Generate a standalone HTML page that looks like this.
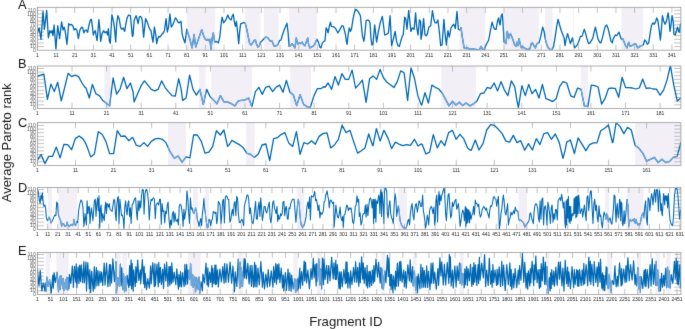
<!DOCTYPE html><html><head><meta charset="utf-8"><style>html,body{margin:0;padding:0;background:#fff;}svg{display:block;will-change:transform;}text{font-family:"Liberation Sans",sans-serif;}</style></head><body>
<svg width="685" height="329" viewBox="0 0 685 329">
<rect width="685" height="329" fill="#fff"/>
<defs><clipPath id="cA"><rect x="186.70" y="7.30" width="28.60" height="42.90"/><rect x="244.70" y="7.30" width="15.70" height="42.90"/><rect x="264.00" y="7.30" width="14.70" height="42.90"/><rect x="289.10" y="7.30" width="27.90" height="42.90"/><rect x="459.30" y="7.30" width="26.10" height="42.90"/><rect x="503.70" y="7.30" width="35.40" height="42.90"/><rect x="545.10" y="7.30" width="7.60" height="42.90"/><rect x="572.90" y="7.30" width="1.10" height="42.90"/><rect x="621.30" y="7.30" width="21.70" height="42.90"/></clipPath><clipPath id="pA"><rect x="37.40" y="7.30" width="643.50" height="42.90"/></clipPath><clipPath id="cB"><rect x="104.30" y="66.00" width="6.40" height="42.40"/><rect x="198.90" y="66.00" width="6.70" height="42.40"/><rect x="211.30" y="66.00" width="40.60" height="42.40"/><rect x="290.10" y="66.00" width="20.90" height="42.40"/><rect x="441.30" y="66.00" width="34.60" height="42.40"/><rect x="581.00" y="66.00" width="6.90" height="42.40"/></clipPath><clipPath id="pB"><rect x="37.40" y="66.00" width="643.50" height="42.40"/></clipPath><clipPath id="cC"><rect x="168.00" y="122.65" width="18.00" height="42.75"/><rect x="246.10" y="122.65" width="8.60" height="42.75"/><rect x="635.10" y="122.65" width="42.10" height="42.75"/></clipPath><clipPath id="pC"><rect x="37.40" y="122.65" width="643.50" height="42.75"/></clipPath><clipPath id="cD"><rect x="48.10" y="187.40" width="3.90" height="42.00"/><rect x="58.40" y="187.40" width="18.60" height="42.00"/><rect x="193.10" y="187.40" width="4.80" height="42.00"/><rect x="204.60" y="187.40" width="4.30" height="42.00"/><rect x="296.70" y="187.40" width="7.70" height="42.00"/><rect x="398.40" y="187.40" width="8.60" height="42.00"/><rect x="518.40" y="187.40" width="8.90" height="42.00"/><rect x="605.00" y="187.40" width="4.30" height="42.00"/><rect x="626.60" y="187.40" width="17.10" height="42.00"/></clipPath><clipPath id="pD"><rect x="37.40" y="187.40" width="643.50" height="42.00"/></clipPath><clipPath id="cE"><rect x="45.60" y="252.40" width="4.30" height="42.00"/><rect x="56.30" y="252.40" width="12.40" height="42.00"/><rect x="115.00" y="252.40" width="5.70" height="42.00"/><rect x="122.40" y="252.40" width="4.70" height="42.00"/><rect x="188.10" y="252.40" width="12.60" height="42.00"/><rect x="238.30" y="252.40" width="4.70" height="42.00"/><rect x="293.40" y="252.40" width="4.30" height="42.00"/><rect x="317.00" y="252.40" width="4.60" height="42.00"/><rect x="381.30" y="252.40" width="3.80" height="42.00"/><rect x="413.00" y="252.40" width="3.60" height="42.00"/><rect x="459.60" y="252.40" width="4.30" height="42.00"/><rect x="546.30" y="252.40" width="2.80" height="42.00"/><rect x="607.10" y="252.40" width="5.00" height="42.00"/><rect x="636.60" y="252.40" width="4.30" height="42.00"/><rect x="655.40" y="252.40" width="4.60" height="42.00"/><rect x="666.40" y="252.40" width="4.30" height="42.00"/></clipPath><clipPath id="pE"><rect x="37.40" y="252.40" width="643.50" height="42.00"/></clipPath><filter id="bl" filterUnits="userSpaceOnUse" x="-5" y="-5" width="695" height="339" color-interpolation-filters="sRGB"><feConvolveMatrix order="3" kernelMatrix="1 10 1 10 100 10 1 10 1" edgeMode="duplicate" preserveAlpha="true"/></filter></defs>
<g filter="url(#bl)">
<rect x="-10" y="-10" width="705" height="349" fill="#fff"/>
<rect x="186.70" y="7.30" width="28.60" height="42.90" fill="#F3EFF7"/>
<rect x="244.70" y="7.30" width="15.70" height="42.90" fill="#F3EFF7"/>
<rect x="264.00" y="7.30" width="14.70" height="42.90" fill="#F3EFF7"/>
<rect x="289.10" y="7.30" width="27.90" height="42.90" fill="#F3EFF7"/>
<rect x="459.30" y="7.30" width="26.10" height="42.90" fill="#F3EFF7"/>
<rect x="503.70" y="7.30" width="35.40" height="42.90" fill="#F3EFF7"/>
<rect x="545.10" y="7.30" width="7.60" height="42.90" fill="#F3EFF7"/>
<rect x="572.90" y="7.30" width="1.10" height="42.90" fill="#F3EFF7"/>
<rect x="621.30" y="7.30" width="21.70" height="42.90" fill="#F3EFF7"/>
<path d="M37.40 46.57h6.6M680.90 46.57h-6.6M37.40 42.94h6.6M680.90 42.94h-6.6M37.40 39.31h6.6M680.90 39.31h-6.6M37.40 35.68h6.6M680.90 35.68h-6.6M37.40 32.05h6.6M680.90 32.05h-6.6M37.40 28.42h6.6M680.90 28.42h-6.6M37.40 24.79h6.6M680.90 24.79h-6.6M37.40 21.16h6.6M680.90 21.16h-6.6M37.40 17.53h6.6M680.90 17.53h-6.6M37.40 13.90h6.6M680.90 13.90h-6.6M37.40 10.27h6.6M680.90 10.27h-6.6M37.40 7.30v5.6M37.40 50.20v-5.6M56.06 7.30v5.6M56.06 50.20v-5.6M74.73 7.30v5.6M74.73 50.20v-5.6M93.39 7.30v5.6M93.39 50.20v-5.6M112.05 7.30v5.6M112.05 50.20v-5.6M130.71 7.30v5.6M130.71 50.20v-5.6M149.38 7.30v5.6M149.38 50.20v-5.6M168.04 7.30v5.6M168.04 50.20v-5.6M186.70 7.30v5.6M186.70 50.20v-5.6M205.37 7.30v5.6M205.37 50.20v-5.6M224.03 7.30v5.6M224.03 50.20v-5.6M242.69 7.30v5.6M242.69 50.20v-5.6M261.36 7.30v5.6M261.36 50.20v-5.6M280.02 7.30v5.6M280.02 50.20v-5.6M298.68 7.30v5.6M298.68 50.20v-5.6M317.34 7.30v5.6M317.34 50.20v-5.6M336.01 7.30v5.6M336.01 50.20v-5.6M354.67 7.30v5.6M354.67 50.20v-5.6M373.33 7.30v5.6M373.33 50.20v-5.6M392.00 7.30v5.6M392.00 50.20v-5.6M410.66 7.30v5.6M410.66 50.20v-5.6M429.32 7.30v5.6M429.32 50.20v-5.6M447.99 7.30v5.6M447.99 50.20v-5.6M466.65 7.30v5.6M466.65 50.20v-5.6M485.31 7.30v5.6M485.31 50.20v-5.6M503.97 7.30v5.6M503.97 50.20v-5.6M522.64 7.30v5.6M522.64 50.20v-5.6M541.30 7.30v5.6M541.30 50.20v-5.6M559.96 7.30v5.6M559.96 50.20v-5.6M578.63 7.30v5.6M578.63 50.20v-5.6M597.29 7.30v5.6M597.29 50.20v-5.6M615.95 7.30v5.6M615.95 50.20v-5.6M634.62 7.30v5.6M634.62 50.20v-5.6M653.28 7.30v5.6M653.28 50.20v-5.6M671.94 7.30v5.6M671.94 50.20v-5.6" stroke="#a6a6a6" stroke-width="0.7" fill="none"/>
<g clip-path="url(#pA)"><polyline points="37.0,34.3 39.1,27.9 41.0,39.3 43.0,11.4 44.4,29.3 46.7,10.4 48.4,37.9 49.9,30.7 51.0,32.9 52.0,30.4 53.0,35.7 54.1,25.0 55.9,48.6 57.7,25.7 59.6,38.6 61.6,21.9 63.1,30.0 64.1,27.1 65.1,30.7 67.0,44.3 68.7,23.6 70.1,25.0 71.6,24.3 73.0,26.4 74.1,30.0 75.6,28.6 77.0,30.7 78.4,38.6 79.9,30.0 81.6,27.1 82.7,27.9 83.9,32.9 85.0,30.4 86.4,30.0 87.6,32.4 89.0,25.0 90.4,20.0 91.4,19.3 92.4,26.4 93.3,35.0 94.3,32.1 95.3,30.7 96.1,35.7 97.1,40.7 98.9,19.6 99.7,27.9 100.7,41.4 102.1,33.6 103.6,30.7 105.0,32.9 106.4,31.4 107.6,35.0 108.4,28.6 109.3,40.7 110.3,43.3 111.9,14.7 113.1,19.3 114.3,26.4 115.7,41.9 116.7,23.6 117.9,15.7 119.3,19.3 120.7,27.9 121.9,29.3 123.3,27.9 124.7,31.4 125.7,25.0 127.1,17.9 128.6,15.0 130.4,15.7 132.4,36.4 133.0,35.7 134.1,20.7 135.1,17.9 136.1,15.7 137.3,20.0 138.1,23.6 139.3,17.1 140.1,16.4 141.3,17.1 142.3,20.7 143.6,37.1 145.6,18.6 147.3,22.1 148.7,26.4 149.9,29.3 151.0,30.7 152.0,37.1 153.0,42.1 154.4,27.1 155.6,33.6 156.7,43.6 157.6,39.3 158.7,36.4 159.9,37.1 161.0,35.7 162.3,33.6 163.3,32.9 164.4,30.7 166.1,18.6 167.3,32.1 168.4,27.9 169.9,13.9 171.3,27.1 172.7,25.0 174.1,21.4 175.3,17.9 176.6,19.3 178.0,22.1 179.4,22.9 180.6,21.4 181.0,21.4 182.1,33.6 183.6,39.3 185.0,42.9 186.7,29.3 188.1,33.6 189.9,39.3 192.1,47.9 194.1,34.3 195.7,47.1 197.4,42.1 199.6,35.7 201.7,29.6 203.6,35.7 205.3,39.3 206.7,40.4 207.9,39.3 209.0,40.7 209.9,39.3 211.0,49.3 212.1,38.6 213.3,32.9 214.7,42.1 216.0,41.4 217.4,42.1 218.4,42.9 219.9,36.4 221.0,25.0 222.1,17.1 223.6,22.9 225.3,20.7 226.4,18.6 227.9,15.0 229.0,17.9 230.1,19.3 231.1,20.0 232.1,16.4 233.3,14.3 234.4,22.1 235.4,26.4 236.4,21.4 237.3,29.3 238.7,43.6 239.7,31.4 240.7,23.6 242.1,23.3 244.0,22.4 245.4,23.6 246.9,30.0 248.3,37.1 249.7,43.6 251.1,45.0 252.6,42.9 254.0,40.7 255.4,40.0 256.6,44.3 257.9,47.1 259.3,45.7 260.7,42.1 262.1,40.7 264.0,38.6 265.9,37.1 267.6,37.6 269.0,39.3 270.4,41.4 271.9,40.7 273.3,44.3 274.4,46.4 276.1,45.7 277.0,45.7 278.4,43.6 279.6,40.7 281.0,40.0 282.4,35.0 283.9,30.7 285.6,26.4 287.0,23.3 288.1,32.9 289.1,46.4 290.6,45.7 292.0,43.6 293.4,45.7 294.9,47.9 296.3,37.9 297.7,44.3 299.1,42.9 300.6,43.6 302.0,42.1 303.4,44.3 304.9,45.7 306.3,42.1 307.7,37.9 308.7,45.0 309.9,47.9 311.3,47.1 312.7,46.4 314.4,45.0 315.9,41.4 317.0,39.3 318.4,42.1 319.9,47.1 321.0,47.9 322.4,42.9 323.9,41.4 325.0,40.7 326.1,27.9 327.1,29.3 328.1,32.9 329.3,26.4 330.4,22.1 331.4,26.4 332.9,26.7 334.3,27.1 335.7,28.6 336.7,30.7 337.9,32.9 339.3,30.7 340.4,28.6 341.9,25.7 343.3,26.1 344.3,30.0 345.3,33.6 346.4,41.4 347.1,44.3 348.1,35.0 349.3,27.9 350.4,31.4 351.4,29.3 352.9,20.0 354.3,12.9 355.7,9.3 357.6,10.7 359.3,13.6 360.4,15.7 361.4,25.7 362.4,35.7 363.9,41.4 365.0,32.9 366.1,20.7 367.6,20.0 369.0,20.7 370.0,22.9 371.0,38.6 371.9,45.0 372.9,44.3 373.0,43.6 374.7,25.0 376.6,42.1 378.4,31.4 380.4,22.1 382.3,16.4 383.3,23.6 384.7,35.0 386.6,34.3 388.4,32.9 390.1,15.7 391.6,45.7 393.3,39.3 395.1,31.4 396.6,41.4 398.0,45.7 399.4,46.4 400.9,40.7 402.3,36.4 403.3,34.3 404.7,17.1 405.9,19.3 407.0,29.3 408.7,10.4 410.1,23.6 410.9,31.4 412.3,27.9 414.1,29.3 415.6,12.9 416.6,26.4 418.0,35.0 419.4,20.0 420.6,21.4 421.0,39.3 422.1,33.6 423.6,18.6 425.0,35.0 426.4,35.7 427.4,33.6 428.9,27.1 430.7,25.7 432.4,10.7 433.9,19.3 435.0,22.9 436.4,22.9 437.9,20.0 439.3,31.4 440.7,45.7 442.1,45.0 443.9,19.3 445.0,32.9 446.4,45.0 447.9,30.7 449.3,37.1 451.0,27.9 452.4,25.7 453.9,24.3 455.3,28.6 457.0,11.4 458.4,29.3 459.6,30.0 461.0,27.9 462.7,39.3 464.1,47.9 466.0,48.3 467.9,47.9 469.0,49.0 470.4,48.6 471.9,49.3 473.3,49.0 475.4,49.3 477.6,49.6 479.7,49.3 481.1,46.4 482.6,49.3 484.0,49.6 485.4,46.4 486.9,43.3 488.7,40.0 490.4,30.7 492.1,22.1 493.6,27.1 494.7,29.3 496.1,29.3 497.6,20.7 498.6,17.9 499.4,22.9 500.1,25.0 501.1,16.4 502.3,13.9 503.3,27.9 504.0,42.1 505.9,43.6 507.3,31.4 508.7,38.6 510.4,33.6 511.9,37.1 513.3,40.7 514.7,45.0 516.1,46.4 517.0,42.1 518.1,45.7 519.0,38.6 520.1,43.6 521.3,47.9 522.7,46.4 524.1,47.9 525.6,48.6 527.0,49.3 528.4,49.3 529.9,48.6 531.3,43.6 532.4,42.9 533.9,45.7 535.3,47.9 536.7,44.3 538.1,42.9 539.1,42.9 540.6,37.1 542.7,27.1 544.1,31.4 545.3,39.3 547.0,45.0 548.4,47.9 550.1,49.3 552.0,49.6 553.4,47.1 554.9,38.6 556.7,26.4 558.1,19.3 559.6,25.0 561.3,30.7 562.7,34.3 564.1,37.9 565.0,45.7 566.1,39.3 567.6,33.6 569.0,38.6 570.4,43.6 571.4,40.7 572.4,37.9 573.6,43.6 574.7,47.9 576.1,46.4 577.6,44.3 579.0,40.7 580.4,36.4 581.9,36.4 582.9,33.6 584.3,29.3 585.7,33.6 587.1,39.3 588.6,43.6 590.0,42.9 591.4,40.7 592.9,37.9 594.3,31.4 595.4,27.1 596.7,32.9 598.1,39.3 599.6,42.1 601.0,42.9 602.4,37.9 603.9,31.4 605.3,26.4 606.7,25.0 608.1,28.6 609.6,35.0 611.0,41.4 612.4,42.9 613.0,39.3 614.1,37.1 615.3,35.0 616.6,35.7 617.6,34.3 619.0,32.1 620.1,35.7 621.3,39.3 622.7,38.6 624.1,42.1 625.6,45.7 627.0,47.9 628.7,42.1 630.1,46.4 631.6,45.7 633.0,45.0 634.7,43.6 636.1,44.3 637.6,47.9 639.0,47.1 640.4,45.7 641.9,45.7 643.3,45.0 644.7,40.0 646.1,41.4 647.3,44.3 648.7,42.9 650.1,33.6 651.4,25.7 652.9,22.9 654.3,24.3 655.7,21.4 656.7,17.9 657.9,20.7 659.3,30.7 660.4,40.0 661.4,29.3 662.4,15.7 663.6,20.7 665.0,24.3 666.4,21.4 668.1,12.9 669.0,19.3 670.0,31.4 671.0,25.0 672.1,15.7 673.3,22.1 673.9,34.3 675.3,35.0 676.4,30.7 677.6,27.1 678.6,31.4 679.6,32.1 680.4,24.3 681.4,22.9" fill="none" stroke="#0068B4" stroke-width="1.3" stroke-linejoin="round"/>
<polyline clip-path="url(#cA)" points="37.0,34.3 39.1,27.9 41.0,39.3 43.0,11.4 44.4,29.3 46.7,10.4 48.4,37.9 49.9,30.7 51.0,32.9 52.0,30.4 53.0,35.7 54.1,25.0 55.9,48.6 57.7,25.7 59.6,38.6 61.6,21.9 63.1,30.0 64.1,27.1 65.1,30.7 67.0,44.3 68.7,23.6 70.1,25.0 71.6,24.3 73.0,26.4 74.1,30.0 75.6,28.6 77.0,30.7 78.4,38.6 79.9,30.0 81.6,27.1 82.7,27.9 83.9,32.9 85.0,30.4 86.4,30.0 87.6,32.4 89.0,25.0 90.4,20.0 91.4,19.3 92.4,26.4 93.3,35.0 94.3,32.1 95.3,30.7 96.1,35.7 97.1,40.7 98.9,19.6 99.7,27.9 100.7,41.4 102.1,33.6 103.6,30.7 105.0,32.9 106.4,31.4 107.6,35.0 108.4,28.6 109.3,40.7 110.3,43.3 111.9,14.7 113.1,19.3 114.3,26.4 115.7,41.9 116.7,23.6 117.9,15.7 119.3,19.3 120.7,27.9 121.9,29.3 123.3,27.9 124.7,31.4 125.7,25.0 127.1,17.9 128.6,15.0 130.4,15.7 132.4,36.4 133.0,35.7 134.1,20.7 135.1,17.9 136.1,15.7 137.3,20.0 138.1,23.6 139.3,17.1 140.1,16.4 141.3,17.1 142.3,20.7 143.6,37.1 145.6,18.6 147.3,22.1 148.7,26.4 149.9,29.3 151.0,30.7 152.0,37.1 153.0,42.1 154.4,27.1 155.6,33.6 156.7,43.6 157.6,39.3 158.7,36.4 159.9,37.1 161.0,35.7 162.3,33.6 163.3,32.9 164.4,30.7 166.1,18.6 167.3,32.1 168.4,27.9 169.9,13.9 171.3,27.1 172.7,25.0 174.1,21.4 175.3,17.9 176.6,19.3 178.0,22.1 179.4,22.9 180.6,21.4 181.0,21.4 182.1,33.6 183.6,39.3 185.0,42.9 186.7,29.3 188.1,33.6 189.9,39.3 192.1,47.9 194.1,34.3 195.7,47.1 197.4,42.1 199.6,35.7 201.7,29.6 203.6,35.7 205.3,39.3 206.7,40.4 207.9,39.3 209.0,40.7 209.9,39.3 211.0,49.3 212.1,38.6 213.3,32.9 214.7,42.1 216.0,41.4 217.4,42.1 218.4,42.9 219.9,36.4 221.0,25.0 222.1,17.1 223.6,22.9 225.3,20.7 226.4,18.6 227.9,15.0 229.0,17.9 230.1,19.3 231.1,20.0 232.1,16.4 233.3,14.3 234.4,22.1 235.4,26.4 236.4,21.4 237.3,29.3 238.7,43.6 239.7,31.4 240.7,23.6 242.1,23.3 244.0,22.4 245.4,23.6 246.9,30.0 248.3,37.1 249.7,43.6 251.1,45.0 252.6,42.9 254.0,40.7 255.4,40.0 256.6,44.3 257.9,47.1 259.3,45.7 260.7,42.1 262.1,40.7 264.0,38.6 265.9,37.1 267.6,37.6 269.0,39.3 270.4,41.4 271.9,40.7 273.3,44.3 274.4,46.4 276.1,45.7 277.0,45.7 278.4,43.6 279.6,40.7 281.0,40.0 282.4,35.0 283.9,30.7 285.6,26.4 287.0,23.3 288.1,32.9 289.1,46.4 290.6,45.7 292.0,43.6 293.4,45.7 294.9,47.9 296.3,37.9 297.7,44.3 299.1,42.9 300.6,43.6 302.0,42.1 303.4,44.3 304.9,45.7 306.3,42.1 307.7,37.9 308.7,45.0 309.9,47.9 311.3,47.1 312.7,46.4 314.4,45.0 315.9,41.4 317.0,39.3 318.4,42.1 319.9,47.1 321.0,47.9 322.4,42.9 323.9,41.4 325.0,40.7 326.1,27.9 327.1,29.3 328.1,32.9 329.3,26.4 330.4,22.1 331.4,26.4 332.9,26.7 334.3,27.1 335.7,28.6 336.7,30.7 337.9,32.9 339.3,30.7 340.4,28.6 341.9,25.7 343.3,26.1 344.3,30.0 345.3,33.6 346.4,41.4 347.1,44.3 348.1,35.0 349.3,27.9 350.4,31.4 351.4,29.3 352.9,20.0 354.3,12.9 355.7,9.3 357.6,10.7 359.3,13.6 360.4,15.7 361.4,25.7 362.4,35.7 363.9,41.4 365.0,32.9 366.1,20.7 367.6,20.0 369.0,20.7 370.0,22.9 371.0,38.6 371.9,45.0 372.9,44.3 373.0,43.6 374.7,25.0 376.6,42.1 378.4,31.4 380.4,22.1 382.3,16.4 383.3,23.6 384.7,35.0 386.6,34.3 388.4,32.9 390.1,15.7 391.6,45.7 393.3,39.3 395.1,31.4 396.6,41.4 398.0,45.7 399.4,46.4 400.9,40.7 402.3,36.4 403.3,34.3 404.7,17.1 405.9,19.3 407.0,29.3 408.7,10.4 410.1,23.6 410.9,31.4 412.3,27.9 414.1,29.3 415.6,12.9 416.6,26.4 418.0,35.0 419.4,20.0 420.6,21.4 421.0,39.3 422.1,33.6 423.6,18.6 425.0,35.0 426.4,35.7 427.4,33.6 428.9,27.1 430.7,25.7 432.4,10.7 433.9,19.3 435.0,22.9 436.4,22.9 437.9,20.0 439.3,31.4 440.7,45.7 442.1,45.0 443.9,19.3 445.0,32.9 446.4,45.0 447.9,30.7 449.3,37.1 451.0,27.9 452.4,25.7 453.9,24.3 455.3,28.6 457.0,11.4 458.4,29.3 459.6,30.0 461.0,27.9 462.7,39.3 464.1,47.9 466.0,48.3 467.9,47.9 469.0,49.0 470.4,48.6 471.9,49.3 473.3,49.0 475.4,49.3 477.6,49.6 479.7,49.3 481.1,46.4 482.6,49.3 484.0,49.6 485.4,46.4 486.9,43.3 488.7,40.0 490.4,30.7 492.1,22.1 493.6,27.1 494.7,29.3 496.1,29.3 497.6,20.7 498.6,17.9 499.4,22.9 500.1,25.0 501.1,16.4 502.3,13.9 503.3,27.9 504.0,42.1 505.9,43.6 507.3,31.4 508.7,38.6 510.4,33.6 511.9,37.1 513.3,40.7 514.7,45.0 516.1,46.4 517.0,42.1 518.1,45.7 519.0,38.6 520.1,43.6 521.3,47.9 522.7,46.4 524.1,47.9 525.6,48.6 527.0,49.3 528.4,49.3 529.9,48.6 531.3,43.6 532.4,42.9 533.9,45.7 535.3,47.9 536.7,44.3 538.1,42.9 539.1,42.9 540.6,37.1 542.7,27.1 544.1,31.4 545.3,39.3 547.0,45.0 548.4,47.9 550.1,49.3 552.0,49.6 553.4,47.1 554.9,38.6 556.7,26.4 558.1,19.3 559.6,25.0 561.3,30.7 562.7,34.3 564.1,37.9 565.0,45.7 566.1,39.3 567.6,33.6 569.0,38.6 570.4,43.6 571.4,40.7 572.4,37.9 573.6,43.6 574.7,47.9 576.1,46.4 577.6,44.3 579.0,40.7 580.4,36.4 581.9,36.4 582.9,33.6 584.3,29.3 585.7,33.6 587.1,39.3 588.6,43.6 590.0,42.9 591.4,40.7 592.9,37.9 594.3,31.4 595.4,27.1 596.7,32.9 598.1,39.3 599.6,42.1 601.0,42.9 602.4,37.9 603.9,31.4 605.3,26.4 606.7,25.0 608.1,28.6 609.6,35.0 611.0,41.4 612.4,42.9 613.0,39.3 614.1,37.1 615.3,35.0 616.6,35.7 617.6,34.3 619.0,32.1 620.1,35.7 621.3,39.3 622.7,38.6 624.1,42.1 625.6,45.7 627.0,47.9 628.7,42.1 630.1,46.4 631.6,45.7 633.0,45.0 634.7,43.6 636.1,44.3 637.6,47.9 639.0,47.1 640.4,45.7 641.9,45.7 643.3,45.0 644.7,40.0 646.1,41.4 647.3,44.3 648.7,42.9 650.1,33.6 651.4,25.7 652.9,22.9 654.3,24.3 655.7,21.4 656.7,17.9 657.9,20.7 659.3,30.7 660.4,40.0 661.4,29.3 662.4,15.7 663.6,20.7 665.0,24.3 666.4,21.4 668.1,12.9 669.0,19.3 670.0,31.4 671.0,25.0 672.1,15.7 673.3,22.1 673.9,34.3 675.3,35.0 676.4,30.7 677.6,27.1 678.6,31.4 679.6,32.1 680.4,24.3 681.4,22.9" fill="none" stroke="#6FA6DA" stroke-width="1.3" stroke-linejoin="round"/></g>
<rect x="37.40" y="7.30" width="643.50" height="42.90" fill="none" stroke="#999999" stroke-width="0.8"/>
<text transform="translate(37.40 57.20) scale(0.86 1)" font-size="5.8" text-anchor="middle" fill="#222">1</text>
<text transform="translate(56.06 57.20) scale(0.86 1)" font-size="5.8" text-anchor="middle" fill="#222">11</text>
<text transform="translate(74.73 57.20) scale(0.86 1)" font-size="5.8" text-anchor="middle" fill="#222">21</text>
<text transform="translate(93.39 57.20) scale(0.86 1)" font-size="5.8" text-anchor="middle" fill="#222">31</text>
<text transform="translate(112.05 57.20) scale(0.86 1)" font-size="5.8" text-anchor="middle" fill="#222">41</text>
<text transform="translate(130.71 57.20) scale(0.86 1)" font-size="5.8" text-anchor="middle" fill="#222">51</text>
<text transform="translate(149.38 57.20) scale(0.86 1)" font-size="5.8" text-anchor="middle" fill="#222">61</text>
<text transform="translate(168.04 57.20) scale(0.86 1)" font-size="5.8" text-anchor="middle" fill="#222">71</text>
<text transform="translate(186.70 57.20) scale(0.86 1)" font-size="5.8" text-anchor="middle" fill="#222">81</text>
<text transform="translate(205.37 57.20) scale(0.86 1)" font-size="5.8" text-anchor="middle" fill="#222">91</text>
<text transform="translate(224.03 57.20) scale(0.86 1)" font-size="5.8" text-anchor="middle" fill="#222">101</text>
<text transform="translate(242.69 57.20) scale(0.86 1)" font-size="5.8" text-anchor="middle" fill="#222">111</text>
<text transform="translate(261.36 57.20) scale(0.86 1)" font-size="5.8" text-anchor="middle" fill="#222">121</text>
<text transform="translate(280.02 57.20) scale(0.86 1)" font-size="5.8" text-anchor="middle" fill="#222">131</text>
<text transform="translate(298.68 57.20) scale(0.86 1)" font-size="5.8" text-anchor="middle" fill="#222">141</text>
<text transform="translate(317.34 57.20) scale(0.86 1)" font-size="5.8" text-anchor="middle" fill="#222">151</text>
<text transform="translate(336.01 57.20) scale(0.86 1)" font-size="5.8" text-anchor="middle" fill="#222">161</text>
<text transform="translate(354.67 57.20) scale(0.86 1)" font-size="5.8" text-anchor="middle" fill="#222">171</text>
<text transform="translate(373.33 57.20) scale(0.86 1)" font-size="5.8" text-anchor="middle" fill="#222">181</text>
<text transform="translate(392.00 57.20) scale(0.86 1)" font-size="5.8" text-anchor="middle" fill="#222">191</text>
<text transform="translate(410.66 57.20) scale(0.86 1)" font-size="5.8" text-anchor="middle" fill="#222">201</text>
<text transform="translate(429.32 57.20) scale(0.86 1)" font-size="5.8" text-anchor="middle" fill="#222">211</text>
<text transform="translate(447.99 57.20) scale(0.86 1)" font-size="5.8" text-anchor="middle" fill="#222">221</text>
<text transform="translate(466.65 57.20) scale(0.86 1)" font-size="5.8" text-anchor="middle" fill="#222">231</text>
<text transform="translate(485.31 57.20) scale(0.86 1)" font-size="5.8" text-anchor="middle" fill="#222">241</text>
<text transform="translate(503.97 57.20) scale(0.86 1)" font-size="5.8" text-anchor="middle" fill="#222">251</text>
<text transform="translate(522.64 57.20) scale(0.86 1)" font-size="5.8" text-anchor="middle" fill="#222">261</text>
<text transform="translate(541.30 57.20) scale(0.86 1)" font-size="5.8" text-anchor="middle" fill="#222">271</text>
<text transform="translate(559.96 57.20) scale(0.86 1)" font-size="5.8" text-anchor="middle" fill="#222">281</text>
<text transform="translate(578.63 57.20) scale(0.86 1)" font-size="5.8" text-anchor="middle" fill="#222">291</text>
<text transform="translate(597.29 57.20) scale(0.86 1)" font-size="5.8" text-anchor="middle" fill="#222">301</text>
<text transform="translate(615.95 57.20) scale(0.86 1)" font-size="5.8" text-anchor="middle" fill="#222">311</text>
<text transform="translate(634.62 57.20) scale(0.86 1)" font-size="5.8" text-anchor="middle" fill="#222">321</text>
<text transform="translate(653.28 57.20) scale(0.86 1)" font-size="5.8" text-anchor="middle" fill="#222">331</text>
<text transform="translate(671.94 57.20) scale(0.86 1)" font-size="5.8" text-anchor="middle" fill="#222">341</text>
<text x="36.0" y="51.90" font-size="5.4" text-anchor="end" fill="#606060">0</text>
<text x="36.0" y="48.27" font-size="5.4" text-anchor="end" fill="#606060">10</text>
<text x="36.0" y="44.64" font-size="5.4" text-anchor="end" fill="#606060">20</text>
<text x="36.0" y="41.01" font-size="5.4" text-anchor="end" fill="#606060">30</text>
<text x="36.0" y="37.38" font-size="5.4" text-anchor="end" fill="#606060">40</text>
<text x="36.0" y="33.75" font-size="5.4" text-anchor="end" fill="#606060">50</text>
<text x="36.0" y="30.12" font-size="5.4" text-anchor="end" fill="#606060">60</text>
<text x="36.0" y="26.49" font-size="5.4" text-anchor="end" fill="#606060">70</text>
<text x="36.0" y="22.86" font-size="5.4" text-anchor="end" fill="#606060">80</text>
<text x="36.0" y="19.23" font-size="5.4" text-anchor="end" fill="#606060">90</text>
<text x="36.0" y="15.60" font-size="5.4" text-anchor="end" fill="#606060">100</text>
<text x="36.0" y="11.97" font-size="5.4" text-anchor="end" fill="#606060">110</text>
<text x="18.0" y="9.40" font-size="12.8" fill="#111">A</text>
<rect x="104.30" y="66.00" width="6.40" height="42.40" fill="#F3EFF7"/>
<rect x="198.90" y="66.00" width="6.70" height="42.40" fill="#F3EFF7"/>
<rect x="211.30" y="66.00" width="40.60" height="42.40" fill="#F3EFF7"/>
<rect x="290.10" y="66.00" width="20.90" height="42.40" fill="#F3EFF7"/>
<rect x="441.30" y="66.00" width="34.60" height="42.40" fill="#F3EFF7"/>
<rect x="581.00" y="66.00" width="6.90" height="42.40" fill="#F3EFF7"/>
<path d="M37.40 104.77h6.6M680.90 104.77h-6.6M37.40 101.14h6.6M680.90 101.14h-6.6M37.40 97.51h6.6M680.90 97.51h-6.6M37.40 93.88h6.6M680.90 93.88h-6.6M37.40 90.25h6.6M680.90 90.25h-6.6M37.40 86.62h6.6M680.90 86.62h-6.6M37.40 82.99h6.6M680.90 82.99h-6.6M37.40 79.36h6.6M680.90 79.36h-6.6M37.40 75.73h6.6M680.90 75.73h-6.6M37.40 72.10h6.6M680.90 72.10h-6.6M37.40 68.47h6.6M680.90 68.47h-6.6M37.40 66.00v5.6M37.40 108.40v-5.6M72.00 66.00v5.6M72.00 108.40v-5.6M106.59 66.00v5.6M106.59 108.40v-5.6M141.19 66.00v5.6M141.19 108.40v-5.6M175.79 66.00v5.6M175.79 108.40v-5.6M210.38 66.00v5.6M210.38 108.40v-5.6M244.98 66.00v5.6M244.98 108.40v-5.6M279.58 66.00v5.6M279.58 108.40v-5.6M314.17 66.00v5.6M314.17 108.40v-5.6M348.77 66.00v5.6M348.77 108.40v-5.6M383.37 66.00v5.6M383.37 108.40v-5.6M417.96 66.00v5.6M417.96 108.40v-5.6M452.56 66.00v5.6M452.56 108.40v-5.6M487.16 66.00v5.6M487.16 108.40v-5.6M521.75 66.00v5.6M521.75 108.40v-5.6M556.35 66.00v5.6M556.35 108.40v-5.6M590.95 66.00v5.6M590.95 108.40v-5.6M625.55 66.00v5.6M625.55 108.40v-5.6M660.14 66.00v5.6M660.14 108.40v-5.6" stroke="#a6a6a6" stroke-width="0.7" fill="none"/>
<g clip-path="url(#pB)"><polyline points="37.0,76.6 40.4,75.1 43.9,74.1 47.4,99.4 50.9,84.1 54.3,91.6 57.7,82.3 61.3,100.9 64.7,87.3 68.1,73.3 71.6,76.6 75.0,75.1 78.6,76.6 82.0,83.0 85.0,87.3 86.0,88.0 89.3,98.0 92.4,84.4 95.9,93.7 99.3,95.6 102.7,100.4 106.1,103.0 109.6,105.9 113.1,78.0 116.6,94.1 120.0,89.4 123.6,77.3 127.0,88.7 130.4,83.0 133.0,91.6 134.1,101.9 137.6,93.7 141.0,85.9 144.4,80.9 147.9,85.1 151.3,89.4 154.7,90.9 158.1,89.4 161.6,80.9 165.0,87.3 168.4,91.6 171.9,95.6 175.3,96.1 178.7,78.7 181.0,88.7 182.7,100.4 186.1,98.0 189.6,75.1 193.0,89.4 196.4,95.1 199.9,89.4 203.3,104.4 206.7,89.4 210.1,96.6 213.6,100.1 217.0,103.7 220.4,95.6 223.9,101.9 227.3,101.6 229.0,102.7 231.4,103.7 234.9,105.9 238.3,100.9 241.7,100.4 245.1,99.9 248.6,98.0 251.9,106.6 255.4,91.6 258.9,87.3 262.3,94.4 265.7,87.3 269.1,86.1 272.6,91.6 276.0,87.3 277.0,86.6 279.6,85.1 283.0,92.3 286.4,80.4 289.9,92.3 293.3,94.7 296.7,105.6 300.1,94.7 303.6,104.4 307.0,106.6 310.4,107.3 313.9,95.9 317.3,88.7 320.7,88.7 324.1,86.6 325.0,87.3 328.1,83.0 331.6,89.4 335.0,76.6 338.4,85.1 341.9,73.7 345.3,79.4 348.7,79.4 352.1,70.1 355.6,88.0 359.0,84.4 362.4,80.1 366.1,102.3 369.6,78.7 373.0,75.9 376.6,79.4 380.1,69.4 383.6,78.0 387.0,82.3 390.4,84.7 393.9,87.6 397.3,81.6 400.7,70.9 404.1,72.7 407.6,100.4 411.0,68.0 414.4,78.0 417.9,95.9 421.0,104.4 421.7,105.1 425.0,92.7 428.4,103.0 431.9,85.1 435.3,87.3 438.7,89.0 442.1,93.0 445.6,99.4 449.0,105.9 452.4,101.3 455.9,105.1 459.3,102.3 462.7,105.6 466.1,103.0 469.0,105.1 470.1,105.9 473.6,103.7 477.0,100.9 480.4,93.7 483.9,93.0 487.3,87.3 490.7,88.7 494.1,83.0 497.6,90.9 501.0,81.6 504.4,90.1 507.9,95.6 511.3,80.9 514.7,86.6 517.0,100.9 518.4,107.3 521.9,85.6 525.3,95.6 528.7,84.4 532.1,93.7 535.6,89.4 539.0,98.0 542.4,84.4 545.9,98.7 549.3,99.9 552.7,101.6 556.1,98.7 559.6,86.6 563.0,81.6 565.0,82.3 566.7,83.0 570.7,95.9 574.1,97.3 577.6,88.0 581.0,89.4 584.4,105.9 587.9,106.6 591.3,85.1 594.7,85.6 598.1,87.0 601.6,104.1 605.0,98.7 608.4,88.7 611.9,88.0 613.0,88.4 615.3,88.4 618.7,97.3 622.1,77.3 625.6,87.6 629.0,87.6 632.4,88.0 635.9,89.0 639.3,88.0 642.7,79.0 646.1,88.4 649.6,88.0 653.0,89.0 656.4,89.1 660.1,95.1 663.6,90.1 667.0,80.1 670.4,65.6 673.9,85.9 677.3,100.9 680.7,98.0" fill="none" stroke="#0068B4" stroke-width="1.3" stroke-linejoin="round"/>
<polyline clip-path="url(#cB)" points="37.0,76.6 40.4,75.1 43.9,74.1 47.4,99.4 50.9,84.1 54.3,91.6 57.7,82.3 61.3,100.9 64.7,87.3 68.1,73.3 71.6,76.6 75.0,75.1 78.6,76.6 82.0,83.0 85.0,87.3 86.0,88.0 89.3,98.0 92.4,84.4 95.9,93.7 99.3,95.6 102.7,100.4 106.1,103.0 109.6,105.9 113.1,78.0 116.6,94.1 120.0,89.4 123.6,77.3 127.0,88.7 130.4,83.0 133.0,91.6 134.1,101.9 137.6,93.7 141.0,85.9 144.4,80.9 147.9,85.1 151.3,89.4 154.7,90.9 158.1,89.4 161.6,80.9 165.0,87.3 168.4,91.6 171.9,95.6 175.3,96.1 178.7,78.7 181.0,88.7 182.7,100.4 186.1,98.0 189.6,75.1 193.0,89.4 196.4,95.1 199.9,89.4 203.3,104.4 206.7,89.4 210.1,96.6 213.6,100.1 217.0,103.7 220.4,95.6 223.9,101.9 227.3,101.6 229.0,102.7 231.4,103.7 234.9,105.9 238.3,100.9 241.7,100.4 245.1,99.9 248.6,98.0 251.9,106.6 255.4,91.6 258.9,87.3 262.3,94.4 265.7,87.3 269.1,86.1 272.6,91.6 276.0,87.3 277.0,86.6 279.6,85.1 283.0,92.3 286.4,80.4 289.9,92.3 293.3,94.7 296.7,105.6 300.1,94.7 303.6,104.4 307.0,106.6 310.4,107.3 313.9,95.9 317.3,88.7 320.7,88.7 324.1,86.6 325.0,87.3 328.1,83.0 331.6,89.4 335.0,76.6 338.4,85.1 341.9,73.7 345.3,79.4 348.7,79.4 352.1,70.1 355.6,88.0 359.0,84.4 362.4,80.1 366.1,102.3 369.6,78.7 373.0,75.9 376.6,79.4 380.1,69.4 383.6,78.0 387.0,82.3 390.4,84.7 393.9,87.6 397.3,81.6 400.7,70.9 404.1,72.7 407.6,100.4 411.0,68.0 414.4,78.0 417.9,95.9 421.0,104.4 421.7,105.1 425.0,92.7 428.4,103.0 431.9,85.1 435.3,87.3 438.7,89.0 442.1,93.0 445.6,99.4 449.0,105.9 452.4,101.3 455.9,105.1 459.3,102.3 462.7,105.6 466.1,103.0 469.0,105.1 470.1,105.9 473.6,103.7 477.0,100.9 480.4,93.7 483.9,93.0 487.3,87.3 490.7,88.7 494.1,83.0 497.6,90.9 501.0,81.6 504.4,90.1 507.9,95.6 511.3,80.9 514.7,86.6 517.0,100.9 518.4,107.3 521.9,85.6 525.3,95.6 528.7,84.4 532.1,93.7 535.6,89.4 539.0,98.0 542.4,84.4 545.9,98.7 549.3,99.9 552.7,101.6 556.1,98.7 559.6,86.6 563.0,81.6 565.0,82.3 566.7,83.0 570.7,95.9 574.1,97.3 577.6,88.0 581.0,89.4 584.4,105.9 587.9,106.6 591.3,85.1 594.7,85.6 598.1,87.0 601.6,104.1 605.0,98.7 608.4,88.7 611.9,88.0 613.0,88.4 615.3,88.4 618.7,97.3 622.1,77.3 625.6,87.6 629.0,87.6 632.4,88.0 635.9,89.0 639.3,88.0 642.7,79.0 646.1,88.4 649.6,88.0 653.0,89.0 656.4,89.1 660.1,95.1 663.6,90.1 667.0,80.1 670.4,65.6 673.9,85.9 677.3,100.9 680.7,98.0" fill="none" stroke="#6FA6DA" stroke-width="1.3" stroke-linejoin="round"/></g>
<rect x="37.40" y="66.00" width="643.50" height="42.40" fill="none" stroke="#999999" stroke-width="0.8"/>
<text transform="translate(37.40 115.40) scale(0.86 1)" font-size="5.8" text-anchor="middle" fill="#222">1</text>
<text transform="translate(72.00 115.40) scale(0.86 1)" font-size="5.8" text-anchor="middle" fill="#222">11</text>
<text transform="translate(106.59 115.40) scale(0.86 1)" font-size="5.8" text-anchor="middle" fill="#222">21</text>
<text transform="translate(141.19 115.40) scale(0.86 1)" font-size="5.8" text-anchor="middle" fill="#222">31</text>
<text transform="translate(175.79 115.40) scale(0.86 1)" font-size="5.8" text-anchor="middle" fill="#222">41</text>
<text transform="translate(210.38 115.40) scale(0.86 1)" font-size="5.8" text-anchor="middle" fill="#222">51</text>
<text transform="translate(244.98 115.40) scale(0.86 1)" font-size="5.8" text-anchor="middle" fill="#222">61</text>
<text transform="translate(279.58 115.40) scale(0.86 1)" font-size="5.8" text-anchor="middle" fill="#222">71</text>
<text transform="translate(314.17 115.40) scale(0.86 1)" font-size="5.8" text-anchor="middle" fill="#222">81</text>
<text transform="translate(348.77 115.40) scale(0.86 1)" font-size="5.8" text-anchor="middle" fill="#222">91</text>
<text transform="translate(383.37 115.40) scale(0.86 1)" font-size="5.8" text-anchor="middle" fill="#222">101</text>
<text transform="translate(417.96 115.40) scale(0.86 1)" font-size="5.8" text-anchor="middle" fill="#222">111</text>
<text transform="translate(452.56 115.40) scale(0.86 1)" font-size="5.8" text-anchor="middle" fill="#222">121</text>
<text transform="translate(487.16 115.40) scale(0.86 1)" font-size="5.8" text-anchor="middle" fill="#222">131</text>
<text transform="translate(521.75 115.40) scale(0.86 1)" font-size="5.8" text-anchor="middle" fill="#222">141</text>
<text transform="translate(556.35 115.40) scale(0.86 1)" font-size="5.8" text-anchor="middle" fill="#222">151</text>
<text transform="translate(590.95 115.40) scale(0.86 1)" font-size="5.8" text-anchor="middle" fill="#222">161</text>
<text transform="translate(625.55 115.40) scale(0.86 1)" font-size="5.8" text-anchor="middle" fill="#222">171</text>
<text transform="translate(660.14 115.40) scale(0.86 1)" font-size="5.8" text-anchor="middle" fill="#222">181</text>
<text x="36.0" y="110.10" font-size="5.4" text-anchor="end" fill="#606060">0</text>
<text x="36.0" y="106.47" font-size="5.4" text-anchor="end" fill="#606060">10</text>
<text x="36.0" y="102.84" font-size="5.4" text-anchor="end" fill="#606060">20</text>
<text x="36.0" y="99.21" font-size="5.4" text-anchor="end" fill="#606060">30</text>
<text x="36.0" y="95.58" font-size="5.4" text-anchor="end" fill="#606060">40</text>
<text x="36.0" y="91.95" font-size="5.4" text-anchor="end" fill="#606060">50</text>
<text x="36.0" y="88.32" font-size="5.4" text-anchor="end" fill="#606060">60</text>
<text x="36.0" y="84.69" font-size="5.4" text-anchor="end" fill="#606060">70</text>
<text x="36.0" y="81.06" font-size="5.4" text-anchor="end" fill="#606060">80</text>
<text x="36.0" y="77.43" font-size="5.4" text-anchor="end" fill="#606060">90</text>
<text x="36.0" y="73.80" font-size="5.4" text-anchor="end" fill="#606060">100</text>
<text x="36.0" y="70.17" font-size="5.4" text-anchor="end" fill="#606060">110</text>
<text x="18.0" y="67.50" font-size="12.8" fill="#111">B</text>
<rect x="168.00" y="122.65" width="18.00" height="42.75" fill="#F3EFF7"/>
<rect x="246.10" y="122.65" width="8.60" height="42.75" fill="#F3EFF7"/>
<rect x="635.10" y="122.65" width="45.90" height="42.75" fill="#F3EFF7"/>
<path d="M37.40 161.77h6.6M680.90 161.77h-6.6M37.40 158.14h6.6M680.90 158.14h-6.6M37.40 154.51h6.6M680.90 154.51h-6.6M37.40 150.88h6.6M680.90 150.88h-6.6M37.40 147.25h6.6M680.90 147.25h-6.6M37.40 143.62h6.6M680.90 143.62h-6.6M37.40 139.99h6.6M680.90 139.99h-6.6M37.40 136.36h6.6M680.90 136.36h-6.6M37.40 132.73h6.6M680.90 132.73h-6.6M37.40 129.10h6.6M680.90 129.10h-6.6M37.40 125.47h6.6M680.90 125.47h-6.6M37.40 122.65v5.6M37.40 165.40v-5.6M75.48 122.65v5.6M75.48 165.40v-5.6M113.55 122.65v5.6M113.55 165.40v-5.6M151.63 122.65v5.6M151.63 165.40v-5.6M189.71 122.65v5.6M189.71 165.40v-5.6M227.78 122.65v5.6M227.78 165.40v-5.6M265.86 122.65v5.6M265.86 165.40v-5.6M303.94 122.65v5.6M303.94 165.40v-5.6M342.02 122.65v5.6M342.02 165.40v-5.6M380.09 122.65v5.6M380.09 165.40v-5.6M418.17 122.65v5.6M418.17 165.40v-5.6M456.25 122.65v5.6M456.25 165.40v-5.6M494.32 122.65v5.6M494.32 165.40v-5.6M532.40 122.65v5.6M532.40 165.40v-5.6M570.48 122.65v5.6M570.48 165.40v-5.6M608.55 122.65v5.6M608.55 165.40v-5.6M646.63 122.65v5.6M646.63 165.40v-5.6" stroke="#a6a6a6" stroke-width="0.7" fill="none"/>
<g clip-path="url(#pC)"><polyline points="37.0,160.7 41.0,154.6 44.9,163.6 48.7,156.4 52.4,156.4 56.3,147.1 60.1,157.9 63.9,144.3 67.7,144.6 71.6,149.7 75.3,138.6 79.1,136.0 82.7,138.6 85.0,142.1 86.7,145.7 90.7,156.9 94.4,154.0 98.3,131.7 102.1,134.3 105.9,141.4 109.6,153.6 113.6,153.6 117.3,130.7 121.0,136.4 125.0,136.0 128.7,140.7 132.4,137.4 133.0,137.9 136.4,145.4 140.1,146.4 143.9,142.6 147.6,146.4 151.3,141.4 155.1,138.9 158.7,138.3 162.4,139.3 166.1,142.9 169.9,151.4 174.4,158.3 178.1,156.0 181.0,160.7 182.1,162.1 186.0,156.9 189.9,157.9 193.6,135.0 197.4,135.0 201.3,141.4 205.0,153.1 208.9,152.1 212.7,146.4 216.4,130.7 220.3,135.0 223.9,130.0 227.6,146.4 229.0,145.0 231.9,140.3 235.6,142.6 239.3,144.6 243.0,147.4 246.7,153.1 250.4,154.3 254.4,157.4 258.3,154.0 262.1,145.0 265.9,144.0 269.7,160.7 273.6,138.6 277.0,137.9 281.0,134.6 284.9,132.6 288.7,142.9 292.7,146.4 296.4,131.7 300.1,154.3 303.9,142.6 307.7,144.0 311.6,140.7 315.3,144.3 319.1,136.4 323.0,133.6 325.0,133.1 327.0,132.9 330.7,147.9 334.4,145.0 338.4,139.3 342.1,125.4 346.1,132.6 349.9,130.3 353.6,141.4 357.6,153.1 361.3,150.7 365.0,147.9 368.7,134.0 372.7,145.7 373.0,145.7 376.4,128.6 380.1,141.1 384.0,130.3 387.9,137.9 391.6,148.6 395.4,142.1 399.3,144.3 403.0,145.7 406.7,144.6 410.4,145.4 414.4,139.3 418.1,146.0 421.0,144.0 422.1,144.3 425.9,154.0 429.6,152.1 433.3,134.6 437.3,147.9 441.0,140.7 444.7,145.7 448.6,132.6 452.4,130.3 456.1,139.3 459.9,134.3 463.6,138.6 467.6,147.9 469.0,149.3 471.3,150.3 475.3,140.0 479.0,150.0 483.0,143.6 486.7,130.0 490.7,124.6 494.4,125.4 498.4,129.3 502.1,133.6 505.9,141.1 509.6,142.1 513.3,135.4 517.0,142.6 520.7,140.7 524.7,150.3 528.4,143.6 532.4,150.0 536.3,138.6 539.9,144.6 543.9,133.6 547.6,132.6 551.3,139.3 555.3,134.0 559.1,142.1 563.0,158.3 565.0,150.7 566.7,142.1 570.4,140.0 574.4,153.6 578.1,137.9 582.1,144.3 585.9,150.7 589.6,144.6 593.3,142.9 597.0,142.9 600.7,130.7 604.7,128.3 608.4,125.0 612.4,142.6 613.0,142.1 616.1,122.6 619.9,126.4 623.9,133.6 627.6,127.4 631.3,130.0 635.1,145.4 639.0,148.3 642.7,153.1 646.6,161.1 650.4,159.3 654.4,157.4 658.1,162.6 661.9,159.3 665.7,162.6 669.6,161.4 673.3,157.4 677.1,156.4 681.0,142.1" fill="none" stroke="#0068B4" stroke-width="1.3" stroke-linejoin="round"/>
<polyline clip-path="url(#cC)" points="37.0,160.7 41.0,154.6 44.9,163.6 48.7,156.4 52.4,156.4 56.3,147.1 60.1,157.9 63.9,144.3 67.7,144.6 71.6,149.7 75.3,138.6 79.1,136.0 82.7,138.6 85.0,142.1 86.7,145.7 90.7,156.9 94.4,154.0 98.3,131.7 102.1,134.3 105.9,141.4 109.6,153.6 113.6,153.6 117.3,130.7 121.0,136.4 125.0,136.0 128.7,140.7 132.4,137.4 133.0,137.9 136.4,145.4 140.1,146.4 143.9,142.6 147.6,146.4 151.3,141.4 155.1,138.9 158.7,138.3 162.4,139.3 166.1,142.9 169.9,151.4 174.4,158.3 178.1,156.0 181.0,160.7 182.1,162.1 186.0,156.9 189.9,157.9 193.6,135.0 197.4,135.0 201.3,141.4 205.0,153.1 208.9,152.1 212.7,146.4 216.4,130.7 220.3,135.0 223.9,130.0 227.6,146.4 229.0,145.0 231.9,140.3 235.6,142.6 239.3,144.6 243.0,147.4 246.7,153.1 250.4,154.3 254.4,157.4 258.3,154.0 262.1,145.0 265.9,144.0 269.7,160.7 273.6,138.6 277.0,137.9 281.0,134.6 284.9,132.6 288.7,142.9 292.7,146.4 296.4,131.7 300.1,154.3 303.9,142.6 307.7,144.0 311.6,140.7 315.3,144.3 319.1,136.4 323.0,133.6 325.0,133.1 327.0,132.9 330.7,147.9 334.4,145.0 338.4,139.3 342.1,125.4 346.1,132.6 349.9,130.3 353.6,141.4 357.6,153.1 361.3,150.7 365.0,147.9 368.7,134.0 372.7,145.7 373.0,145.7 376.4,128.6 380.1,141.1 384.0,130.3 387.9,137.9 391.6,148.6 395.4,142.1 399.3,144.3 403.0,145.7 406.7,144.6 410.4,145.4 414.4,139.3 418.1,146.0 421.0,144.0 422.1,144.3 425.9,154.0 429.6,152.1 433.3,134.6 437.3,147.9 441.0,140.7 444.7,145.7 448.6,132.6 452.4,130.3 456.1,139.3 459.9,134.3 463.6,138.6 467.6,147.9 469.0,149.3 471.3,150.3 475.3,140.0 479.0,150.0 483.0,143.6 486.7,130.0 490.7,124.6 494.4,125.4 498.4,129.3 502.1,133.6 505.9,141.1 509.6,142.1 513.3,135.4 517.0,142.6 520.7,140.7 524.7,150.3 528.4,143.6 532.4,150.0 536.3,138.6 539.9,144.6 543.9,133.6 547.6,132.6 551.3,139.3 555.3,134.0 559.1,142.1 563.0,158.3 565.0,150.7 566.7,142.1 570.4,140.0 574.4,153.6 578.1,137.9 582.1,144.3 585.9,150.7 589.6,144.6 593.3,142.9 597.0,142.9 600.7,130.7 604.7,128.3 608.4,125.0 612.4,142.6 613.0,142.1 616.1,122.6 619.9,126.4 623.9,133.6 627.6,127.4 631.3,130.0 635.1,145.4 639.0,148.3 642.7,153.1 646.6,161.1 650.4,159.3 654.4,157.4 658.1,162.6 661.9,159.3 665.7,162.6 669.6,161.4 673.3,157.4 677.1,156.4 681.0,142.1" fill="none" stroke="#6FA6DA" stroke-width="1.3" stroke-linejoin="round"/></g>
<rect x="37.40" y="122.65" width="643.50" height="42.75" fill="none" stroke="#999999" stroke-width="0.8"/>
<text transform="translate(37.40 172.40) scale(0.86 1)" font-size="5.8" text-anchor="middle" fill="#222">1</text>
<text transform="translate(75.48 172.40) scale(0.86 1)" font-size="5.8" text-anchor="middle" fill="#222">11</text>
<text transform="translate(113.55 172.40) scale(0.86 1)" font-size="5.8" text-anchor="middle" fill="#222">21</text>
<text transform="translate(151.63 172.40) scale(0.86 1)" font-size="5.8" text-anchor="middle" fill="#222">31</text>
<text transform="translate(189.71 172.40) scale(0.86 1)" font-size="5.8" text-anchor="middle" fill="#222">41</text>
<text transform="translate(227.78 172.40) scale(0.86 1)" font-size="5.8" text-anchor="middle" fill="#222">51</text>
<text transform="translate(265.86 172.40) scale(0.86 1)" font-size="5.8" text-anchor="middle" fill="#222">61</text>
<text transform="translate(303.94 172.40) scale(0.86 1)" font-size="5.8" text-anchor="middle" fill="#222">71</text>
<text transform="translate(342.02 172.40) scale(0.86 1)" font-size="5.8" text-anchor="middle" fill="#222">81</text>
<text transform="translate(380.09 172.40) scale(0.86 1)" font-size="5.8" text-anchor="middle" fill="#222">91</text>
<text transform="translate(418.17 172.40) scale(0.86 1)" font-size="5.8" text-anchor="middle" fill="#222">101</text>
<text transform="translate(456.25 172.40) scale(0.86 1)" font-size="5.8" text-anchor="middle" fill="#222">111</text>
<text transform="translate(494.32 172.40) scale(0.86 1)" font-size="5.8" text-anchor="middle" fill="#222">121</text>
<text transform="translate(532.40 172.40) scale(0.86 1)" font-size="5.8" text-anchor="middle" fill="#222">131</text>
<text transform="translate(570.48 172.40) scale(0.86 1)" font-size="5.8" text-anchor="middle" fill="#222">141</text>
<text transform="translate(608.55 172.40) scale(0.86 1)" font-size="5.8" text-anchor="middle" fill="#222">151</text>
<text transform="translate(646.63 172.40) scale(0.86 1)" font-size="5.8" text-anchor="middle" fill="#222">161</text>
<text x="36.0" y="167.10" font-size="5.4" text-anchor="end" fill="#606060">0</text>
<text x="36.0" y="163.47" font-size="5.4" text-anchor="end" fill="#606060">10</text>
<text x="36.0" y="159.84" font-size="5.4" text-anchor="end" fill="#606060">20</text>
<text x="36.0" y="156.21" font-size="5.4" text-anchor="end" fill="#606060">30</text>
<text x="36.0" y="152.58" font-size="5.4" text-anchor="end" fill="#606060">40</text>
<text x="36.0" y="148.95" font-size="5.4" text-anchor="end" fill="#606060">50</text>
<text x="36.0" y="145.32" font-size="5.4" text-anchor="end" fill="#606060">60</text>
<text x="36.0" y="141.69" font-size="5.4" text-anchor="end" fill="#606060">70</text>
<text x="36.0" y="138.06" font-size="5.4" text-anchor="end" fill="#606060">80</text>
<text x="36.0" y="134.43" font-size="5.4" text-anchor="end" fill="#606060">90</text>
<text x="36.0" y="130.80" font-size="5.4" text-anchor="end" fill="#606060">100</text>
<text x="36.0" y="127.17" font-size="5.4" text-anchor="end" fill="#606060">110</text>
<text x="18.0" y="126.80" font-size="12.8" fill="#111">C</text>
<rect x="48.10" y="187.40" width="3.90" height="42.00" fill="#F3EFF7"/>
<rect x="58.40" y="187.40" width="18.60" height="42.00" fill="#F3EFF7"/>
<rect x="193.10" y="187.40" width="4.80" height="42.00" fill="#F3EFF7"/>
<rect x="204.60" y="187.40" width="4.30" height="42.00" fill="#F3EFF7"/>
<rect x="296.70" y="187.40" width="7.70" height="42.00" fill="#F3EFF7"/>
<rect x="398.40" y="187.40" width="8.60" height="42.00" fill="#F3EFF7"/>
<rect x="518.40" y="187.40" width="8.90" height="42.00" fill="#F3EFF7"/>
<rect x="605.00" y="187.40" width="4.30" height="42.00" fill="#F3EFF7"/>
<rect x="626.60" y="187.40" width="17.10" height="42.00" fill="#F3EFF7"/>
<path d="M37.40 225.77h6.6M680.90 225.77h-6.6M37.40 222.14h6.6M680.90 222.14h-6.6M37.40 218.51h6.6M680.90 218.51h-6.6M37.40 214.88h6.6M680.90 214.88h-6.6M37.40 211.25h6.6M680.90 211.25h-6.6M37.40 207.62h6.6M680.90 207.62h-6.6M37.40 203.99h6.6M680.90 203.99h-6.6M37.40 200.36h6.6M680.90 200.36h-6.6M37.40 196.73h6.6M680.90 196.73h-6.6M37.40 193.10h6.6M680.90 193.10h-6.6M37.40 189.47h6.6M680.90 189.47h-6.6M37.40 187.40v5.6M37.40 229.40v-5.6M47.60 187.40v5.6M47.60 229.40v-5.6M57.80 187.40v5.6M57.80 229.40v-5.6M67.99 187.40v5.6M67.99 229.40v-5.6M78.19 187.40v5.6M78.19 229.40v-5.6M88.39 187.40v5.6M88.39 229.40v-5.6M98.59 187.40v5.6M98.59 229.40v-5.6M108.79 187.40v5.6M108.79 229.40v-5.6M118.98 187.40v5.6M118.98 229.40v-5.6M129.18 187.40v5.6M129.18 229.40v-5.6M139.38 187.40v5.6M139.38 229.40v-5.6M149.58 187.40v5.6M149.58 229.40v-5.6M159.78 187.40v5.6M159.78 229.40v-5.6M169.98 187.40v5.6M169.98 229.40v-5.6M180.17 187.40v5.6M180.17 229.40v-5.6M190.37 187.40v5.6M190.37 229.40v-5.6M200.57 187.40v5.6M200.57 229.40v-5.6M210.77 187.40v5.6M210.77 229.40v-5.6M220.97 187.40v5.6M220.97 229.40v-5.6M231.16 187.40v5.6M231.16 229.40v-5.6M241.36 187.40v5.6M241.36 229.40v-5.6M251.56 187.40v5.6M251.56 229.40v-5.6M261.76 187.40v5.6M261.76 229.40v-5.6M271.96 187.40v5.6M271.96 229.40v-5.6M282.15 187.40v5.6M282.15 229.40v-5.6M292.35 187.40v5.6M292.35 229.40v-5.6M302.55 187.40v5.6M302.55 229.40v-5.6M312.75 187.40v5.6M312.75 229.40v-5.6M322.95 187.40v5.6M322.95 229.40v-5.6M333.14 187.40v5.6M333.14 229.40v-5.6M343.34 187.40v5.6M343.34 229.40v-5.6M353.54 187.40v5.6M353.54 229.40v-5.6M363.74 187.40v5.6M363.74 229.40v-5.6M373.94 187.40v5.6M373.94 229.40v-5.6M384.14 187.40v5.6M384.14 229.40v-5.6M394.33 187.40v5.6M394.33 229.40v-5.6M404.53 187.40v5.6M404.53 229.40v-5.6M414.73 187.40v5.6M414.73 229.40v-5.6M424.93 187.40v5.6M424.93 229.40v-5.6M435.13 187.40v5.6M435.13 229.40v-5.6M445.32 187.40v5.6M445.32 229.40v-5.6M455.52 187.40v5.6M455.52 229.40v-5.6M465.72 187.40v5.6M465.72 229.40v-5.6M475.92 187.40v5.6M475.92 229.40v-5.6M486.12 187.40v5.6M486.12 229.40v-5.6M496.31 187.40v5.6M496.31 229.40v-5.6M506.51 187.40v5.6M506.51 229.40v-5.6M516.71 187.40v5.6M516.71 229.40v-5.6M526.91 187.40v5.6M526.91 229.40v-5.6M537.11 187.40v5.6M537.11 229.40v-5.6M547.30 187.40v5.6M547.30 229.40v-5.6M557.50 187.40v5.6M557.50 229.40v-5.6M567.70 187.40v5.6M567.70 229.40v-5.6M577.90 187.40v5.6M577.90 229.40v-5.6M588.10 187.40v5.6M588.10 229.40v-5.6M598.30 187.40v5.6M598.30 229.40v-5.6M608.49 187.40v5.6M608.49 229.40v-5.6M618.69 187.40v5.6M618.69 229.40v-5.6M628.89 187.40v5.6M628.89 229.40v-5.6M639.09 187.40v5.6M639.09 229.40v-5.6M649.29 187.40v5.6M649.29 229.40v-5.6M659.48 187.40v5.6M659.48 229.40v-5.6M669.68 187.40v5.6M669.68 229.40v-5.6M679.88 187.40v5.6M679.88 229.40v-5.6" stroke="#a6a6a6" stroke-width="0.7" fill="none"/>
<g clip-path="url(#pD)"><polyline points="37.0,189.3 38.1,190.7 39.1,197.9 40.1,203.6 41.0,195.0 41.9,199.3 42.4,192.9 43.0,200.7 43.9,206.4 44.9,205.0 45.6,207.9 46.4,217.9 47.3,220.7 48.1,219.3 49.1,217.1 50.1,219.3 51.0,222.9 51.9,221.4 52.7,220.0 53.9,217.1 54.9,215.0 55.9,215.7 56.7,202.1 57.6,203.6 58.4,215.0 59.6,218.6 60.6,220.7 61.6,226.4 62.7,223.6 63.9,224.3 64.9,226.4 66.3,225.7 67.0,222.1 67.9,225.0 69.0,226.4 70.1,225.7 71.3,224.3 72.4,225.7 73.4,223.6 73.9,219.3 74.4,224.3 75.6,225.7 76.7,221.4 77.7,222.9 78.7,210.0 79.9,203.6 81.0,200.0 82.1,201.4 83.0,207.9 83.9,226.4 84.9,216.4 85.0,213.6 85.7,219.3 86.4,225.0 87.1,200.7 87.9,213.6 88.6,207.1 89.3,206.4 90.0,223.6 90.7,213.6 91.4,207.9 92.1,213.6 92.9,220.7 93.6,210.7 94.4,200.7 95.3,199.3 96.0,216.4 96.7,205.0 97.6,197.9 98.3,210.7 99.0,195.7 99.7,227.9 100.4,209.3 101.1,205.0 101.9,222.1 102.7,213.6 103.6,217.9 104.3,220.7 105.0,207.9 105.7,202.1 106.4,213.6 107.1,203.6 107.9,205.0 108.6,207.1 109.3,203.6 110.0,209.3 110.7,210.0 111.4,210.7 112.1,211.4 113.0,205.0 113.9,199.3 114.7,200.7 115.4,213.6 116.1,220.7 116.7,206.4 117.6,197.9 118.3,196.4 119.0,223.6 119.9,199.3 120.7,207.9 121.6,215.7 122.4,215.0 123.3,219.3 124.0,228.6 124.7,207.9 125.6,200.7 126.4,210.7 127.1,215.0 127.9,203.6 128.7,200.7 129.6,216.4 130.4,207.9 131.1,223.6 132.1,205.0 133.0,203.6 133.9,200.7 134.7,198.6 135.6,197.9 136.4,210.7 137.3,220.0 138.1,200.7 139.0,210.7 139.9,200.7 140.7,207.9 141.6,195.0 142.4,189.3 143.3,190.0 144.1,214.3 145.0,193.6 145.9,190.0 146.7,189.3 147.6,193.6 148.4,201.4 149.3,220.0 150.1,206.4 151.0,199.3 151.9,200.7 152.7,198.6 153.6,197.9 154.4,199.3 155.3,218.6 156.1,205.0 157.0,203.6 157.9,202.9 158.7,205.0 159.6,199.3 160.4,199.3 161.3,224.3 162.1,203.6 163.0,211.4 163.9,210.7 164.7,222.9 165.6,211.4 166.4,213.6 167.3,205.0 168.1,202.1 169.0,219.3 169.9,227.9 170.7,220.0 171.6,225.0 172.4,213.6 173.3,211.4 174.1,222.1 175.0,212.9 175.9,220.7 176.7,221.4 177.6,219.3 178.4,225.0 179.3,205.7 180.1,204.3 181.0,205.0 181.7,209.3 182.4,215.0 183.1,226.4 183.9,209.3 184.6,219.3 185.3,213.6 186.1,210.0 187.0,190.7 187.9,199.3 188.7,213.6 189.6,223.6 190.4,197.9 191.3,209.3 192.1,207.9 193.0,212.1 193.9,213.6 194.7,211.4 195.6,207.9 196.4,210.7 197.3,219.3 198.1,221.4 199.0,226.4 199.9,222.1 200.7,218.6 201.6,225.7 202.4,213.6 203.3,206.4 203.9,198.6 204.7,209.3 205.6,215.7 206.4,222.1 207.3,227.9 208.1,227.1 209.0,219.3 209.9,220.0 210.7,225.7 211.6,220.7 212.4,219.3 213.3,211.4 214.1,212.1 215.0,213.6 215.9,212.1 216.7,223.6 217.6,217.9 218.4,201.4 219.3,202.9 220.1,205.0 221.0,223.6 221.9,213.6 222.7,200.7 223.6,199.3 224.4,222.9 225.3,197.9 226.1,195.7 227.0,196.4 227.9,199.3 228.7,199.3 229.0,205.7 229.9,222.1 230.7,220.7 231.6,213.6 232.4,209.3 233.3,215.7 234.1,203.6 235.0,201.4 235.9,215.7 236.7,196.4 237.6,198.6 238.4,213.6 239.3,222.1 240.1,222.9 241.0,220.7 241.9,219.3 242.7,221.4 243.6,225.7 244.4,206.4 245.3,202.1 246.1,199.3 247.0,195.0 247.9,195.0 248.7,199.3 249.6,213.6 250.4,207.9 251.3,215.7 252.1,222.9 253.0,223.6 253.9,217.9 254.7,210.0 255.6,201.4 256.4,218.6 257.3,219.3 258.1,208.6 259.0,202.1 259.9,216.4 260.7,197.9 261.6,208.6 262.4,220.7 263.3,214.3 264.1,206.4 265.0,206.4 265.9,211.4 266.7,212.9 267.6,209.3 268.4,205.7 269.3,202.1 270.1,218.6 271.0,222.9 271.9,213.6 272.7,202.9 273.6,200.7 274.4,207.9 275.3,210.7 276.1,213.6 277.0,206.4 277.7,221.4 278.4,215.0 279.1,219.3 279.9,217.9 280.6,213.6 281.3,215.7 282.1,214.3 283.0,202.1 283.9,201.4 284.7,215.7 285.6,207.9 286.4,206.4 287.3,218.6 288.1,219.3 289.0,207.9 289.9,208.6 290.7,203.6 291.6,201.4 292.4,199.3 293.3,199.3 294.1,199.3 295.0,210.7 295.9,222.1 296.7,213.6 297.6,203.6 298.4,199.3 299.3,205.0 300.1,216.4 301.0,224.3 301.9,226.4 302.7,227.1 303.6,226.4 304.4,224.3 305.3,220.7 306.1,216.4 307.0,206.4 307.9,202.1 308.7,208.6 309.6,197.1 310.4,220.0 311.3,195.7 312.1,196.4 313.0,197.1 313.9,195.0 314.7,191.4 315.6,200.7 316.4,199.3 317.3,203.6 318.1,210.7 319.0,205.0 319.9,217.9 320.7,212.1 321.6,214.3 322.4,213.6 323.3,210.7 324.1,202.1 325.0,200.7 325.7,195.0 326.4,193.6 327.1,190.7 327.9,196.4 328.6,199.3 329.3,207.9 330.1,200.7 331.0,200.0 331.9,202.1 332.7,203.6 333.6,202.1 334.1,227.1 335.0,216.4 335.9,205.0 336.7,212.1 337.6,217.1 338.4,217.9 339.3,213.6 340.1,207.1 341.0,217.9 341.9,220.7 342.7,216.4 343.3,227.1 344.1,215.0 345.0,214.3 345.9,209.3 346.7,205.0 347.6,206.4 348.4,210.7 349.3,207.9 350.1,209.3 351.0,207.9 351.9,213.6 352.7,222.1 353.6,223.6 354.4,217.9 355.3,206.4 356.1,205.0 357.0,195.7 357.9,202.1 358.7,199.3 359.3,216.4 360.1,212.9 361.0,225.0 361.9,222.1 362.7,215.0 363.6,213.6 364.4,213.6 365.3,205.0 366.1,217.1 367.0,204.3 367.9,215.7 368.7,206.4 369.6,199.3 370.4,197.9 371.3,200.7 372.1,207.9 373.0,199.3 373.6,223.6 374.1,199.3 374.7,217.9 375.3,199.3 375.9,222.1 376.4,202.1 377.0,200.7 377.6,203.6 378.1,199.3 378.7,195.0 379.3,197.9 379.9,213.6 380.4,193.6 381.0,189.3 381.6,216.4 382.1,192.1 382.7,199.3 383.3,206.4 383.9,223.6 384.4,193.6 385.0,188.6 385.6,187.9 386.1,189.3 386.7,190.7 387.3,213.6 388.1,217.9 389.0,206.4 389.9,200.7 390.7,213.6 391.6,217.9 392.4,219.3 393.3,223.6 394.1,206.4 395.0,193.6 395.9,199.3 396.7,216.4 397.6,210.0 398.4,205.7 399.3,212.9 400.1,220.7 401.0,223.6 401.9,225.7 402.7,226.4 403.6,227.9 404.4,227.1 405.3,228.6 406.1,227.9 407.0,225.7 407.9,220.7 408.7,219.3 409.6,225.0 410.4,213.6 411.3,206.4 412.1,203.6 413.0,215.0 413.9,220.0 414.7,209.3 415.6,204.3 416.4,203.6 417.3,212.1 418.1,207.9 419.0,200.7 419.9,202.1 420.7,206.4 421.0,206.4 421.6,206.4 422.1,202.1 422.7,195.0 423.3,210.7 423.9,213.6 424.7,219.3 425.6,227.9 426.4,223.6 427.3,215.0 428.1,219.3 428.7,225.0 429.6,210.7 430.4,207.9 431.3,206.4 432.1,208.6 433.0,213.6 433.9,207.1 434.7,225.0 435.3,220.7 435.9,200.7 436.7,195.0 437.6,222.1 438.1,202.1 439.0,191.4 439.6,205.0 440.1,195.0 441.0,200.7 441.9,195.0 442.4,193.6 443.3,190.0 444.1,187.9 444.7,193.6 445.6,213.6 446.4,220.7 447.3,206.4 448.1,195.0 449.0,193.6 449.9,207.9 450.7,217.9 451.6,215.0 452.4,202.1 453.3,206.4 454.1,203.6 455.0,200.7 455.9,199.3 456.7,209.3 457.6,206.4 458.4,203.6 459.3,213.6 460.1,226.4 461.0,220.7 461.9,213.6 462.7,210.0 463.6,212.1 464.4,220.7 465.3,206.4 465.9,226.4 466.4,207.9 467.0,223.6 467.6,209.3 468.1,222.1 468.7,210.0 469.0,210.7 469.6,222.9 470.1,212.1 471.0,219.3 471.9,215.0 472.7,213.6 473.6,206.4 474.4,215.0 475.3,200.0 476.1,203.6 477.0,203.6 477.9,206.4 478.7,204.3 479.6,213.6 480.4,217.1 481.3,215.0 482.1,210.0 483.0,207.9 483.9,206.4 484.7,207.9 485.6,210.0 486.4,207.9 487.3,212.1 488.1,214.3 489.0,217.9 489.9,209.3 490.7,205.7 491.6,206.4 492.4,203.6 493.3,197.9 494.1,196.4 495.0,198.6 495.9,199.3 496.7,206.4 497.6,200.7 498.4,196.4 499.3,229.3 500.1,223.6 501.0,213.6 501.9,207.9 502.7,200.0 503.3,195.0 504.1,200.7 505.0,212.1 505.9,215.0 506.7,210.0 507.6,203.6 508.4,225.0 509.3,219.3 510.1,217.9 511.0,212.1 511.9,215.0 512.7,213.6 513.6,210.7 514.4,213.6 515.3,207.1 516.1,210.7 517.0,210.7 517.9,211.4 518.7,219.3 519.6,220.7 520.4,220.0 521.3,220.7 522.1,221.4 523.0,222.1 523.9,223.6 524.7,227.1 525.6,225.7 526.4,224.3 527.3,223.6 528.1,222.1 529.0,220.7 529.9,213.6 530.7,212.9 531.6,217.9 532.4,220.7 533.3,223.6 534.1,211.4 535.0,205.0 535.9,203.6 536.7,204.3 537.6,207.9 538.4,217.9 539.3,222.1 540.1,200.7 541.0,219.3 541.9,199.3 542.7,197.9 543.6,225.0 544.4,207.9 545.3,205.7 546.1,210.7 547.0,225.0 547.9,202.1 548.7,206.4 549.6,213.6 550.4,223.6 551.3,207.9 552.1,205.0 553.0,222.1 553.9,213.6 554.7,219.3 555.6,209.3 556.4,210.0 557.3,220.0 558.1,200.7 559.0,199.3 559.9,197.9 560.7,200.7 561.6,194.3 562.4,199.3 563.3,207.9 564.1,202.1 565.0,223.6 565.6,227.9 566.1,200.7 566.7,225.0 567.3,199.3 567.9,217.9 568.4,196.4 569.0,222.1 569.6,206.4 570.1,223.6 570.7,206.4 571.3,220.7 571.9,216.4 572.4,213.6 573.0,215.7 573.6,213.6 574.1,198.6 574.7,213.6 575.3,197.1 575.9,217.9 576.4,196.4 577.0,216.4 577.6,195.7 578.1,213.6 578.7,195.0 579.3,202.1 580.1,213.6 581.0,210.7 581.9,208.6 582.7,217.1 583.6,210.7 584.4,205.0 585.3,213.6 586.1,220.7 587.0,197.1 587.9,195.7 588.7,210.7 589.6,199.3 590.4,191.4 591.3,190.7 592.1,207.9 593.0,223.6 593.9,203.6 594.7,199.3 595.6,210.7 596.4,205.0 597.3,217.9 598.1,222.1 599.0,205.7 599.9,216.4 600.7,215.0 601.6,223.6 602.4,227.9 603.3,217.9 604.1,212.1 605.0,215.0 605.9,219.3 606.7,213.6 607.6,215.7 608.4,222.1 609.3,219.3 610.1,217.9 611.0,222.9 611.9,224.3 612.7,217.1 613.0,213.6 613.6,206.4 614.1,195.0 615.0,196.4 615.6,213.6 616.1,222.1 616.7,207.9 617.3,203.6 617.9,213.6 618.4,217.9 619.0,210.7 619.6,199.3 620.1,200.7 620.7,220.7 621.3,202.1 621.9,203.6 622.4,223.6 623.0,225.7 623.6,219.3 624.1,210.7 624.7,223.6 625.3,219.3 626.1,209.3 627.0,199.3 627.9,205.0 628.7,226.4 629.6,220.7 630.4,219.3 631.3,221.4 632.1,220.7 633.0,219.3 633.9,221.4 634.4,218.6 635.3,223.6 636.1,219.3 637.0,222.9 637.9,225.0 638.7,223.6 639.6,225.0 640.4,222.9 641.3,217.1 642.1,215.0 643.0,212.9 643.9,217.9 644.7,207.9 645.6,200.7 646.4,217.9 647.3,225.0 648.1,197.9 649.0,199.3 649.9,210.7 650.7,200.7 651.6,193.6 652.4,197.9 653.0,205.0 653.9,195.0 654.7,189.3 655.6,202.1 656.4,190.0 657.3,189.3 657.9,199.3 658.4,211.4 659.3,190.0 660.1,195.0 660.7,210.7 661.3,203.6 661.9,213.6 662.4,215.7 663.0,203.6 663.6,193.6 664.1,196.4 664.7,205.0 665.3,195.7 665.9,196.4 666.4,200.7 667.0,195.7 667.6,207.9 668.4,193.6 669.3,212.1 670.1,220.7 671.0,223.6 671.9,225.0 672.7,225.7 673.6,215.0 674.4,196.4 675.3,189.3 676.1,187.9 677.0,188.6 677.9,195.0 678.7,206.4 679.6,219.3 680.4,212.1 681.0,209.3 681.6,210.0" fill="none" stroke="#0068B4" stroke-width="1.05" stroke-linejoin="round"/>
<polyline clip-path="url(#cD)" points="37.0,189.3 38.1,190.7 39.1,197.9 40.1,203.6 41.0,195.0 41.9,199.3 42.4,192.9 43.0,200.7 43.9,206.4 44.9,205.0 45.6,207.9 46.4,217.9 47.3,220.7 48.1,219.3 49.1,217.1 50.1,219.3 51.0,222.9 51.9,221.4 52.7,220.0 53.9,217.1 54.9,215.0 55.9,215.7 56.7,202.1 57.6,203.6 58.4,215.0 59.6,218.6 60.6,220.7 61.6,226.4 62.7,223.6 63.9,224.3 64.9,226.4 66.3,225.7 67.0,222.1 67.9,225.0 69.0,226.4 70.1,225.7 71.3,224.3 72.4,225.7 73.4,223.6 73.9,219.3 74.4,224.3 75.6,225.7 76.7,221.4 77.7,222.9 78.7,210.0 79.9,203.6 81.0,200.0 82.1,201.4 83.0,207.9 83.9,226.4 84.9,216.4 85.0,213.6 85.7,219.3 86.4,225.0 87.1,200.7 87.9,213.6 88.6,207.1 89.3,206.4 90.0,223.6 90.7,213.6 91.4,207.9 92.1,213.6 92.9,220.7 93.6,210.7 94.4,200.7 95.3,199.3 96.0,216.4 96.7,205.0 97.6,197.9 98.3,210.7 99.0,195.7 99.7,227.9 100.4,209.3 101.1,205.0 101.9,222.1 102.7,213.6 103.6,217.9 104.3,220.7 105.0,207.9 105.7,202.1 106.4,213.6 107.1,203.6 107.9,205.0 108.6,207.1 109.3,203.6 110.0,209.3 110.7,210.0 111.4,210.7 112.1,211.4 113.0,205.0 113.9,199.3 114.7,200.7 115.4,213.6 116.1,220.7 116.7,206.4 117.6,197.9 118.3,196.4 119.0,223.6 119.9,199.3 120.7,207.9 121.6,215.7 122.4,215.0 123.3,219.3 124.0,228.6 124.7,207.9 125.6,200.7 126.4,210.7 127.1,215.0 127.9,203.6 128.7,200.7 129.6,216.4 130.4,207.9 131.1,223.6 132.1,205.0 133.0,203.6 133.9,200.7 134.7,198.6 135.6,197.9 136.4,210.7 137.3,220.0 138.1,200.7 139.0,210.7 139.9,200.7 140.7,207.9 141.6,195.0 142.4,189.3 143.3,190.0 144.1,214.3 145.0,193.6 145.9,190.0 146.7,189.3 147.6,193.6 148.4,201.4 149.3,220.0 150.1,206.4 151.0,199.3 151.9,200.7 152.7,198.6 153.6,197.9 154.4,199.3 155.3,218.6 156.1,205.0 157.0,203.6 157.9,202.9 158.7,205.0 159.6,199.3 160.4,199.3 161.3,224.3 162.1,203.6 163.0,211.4 163.9,210.7 164.7,222.9 165.6,211.4 166.4,213.6 167.3,205.0 168.1,202.1 169.0,219.3 169.9,227.9 170.7,220.0 171.6,225.0 172.4,213.6 173.3,211.4 174.1,222.1 175.0,212.9 175.9,220.7 176.7,221.4 177.6,219.3 178.4,225.0 179.3,205.7 180.1,204.3 181.0,205.0 181.7,209.3 182.4,215.0 183.1,226.4 183.9,209.3 184.6,219.3 185.3,213.6 186.1,210.0 187.0,190.7 187.9,199.3 188.7,213.6 189.6,223.6 190.4,197.9 191.3,209.3 192.1,207.9 193.0,212.1 193.9,213.6 194.7,211.4 195.6,207.9 196.4,210.7 197.3,219.3 198.1,221.4 199.0,226.4 199.9,222.1 200.7,218.6 201.6,225.7 202.4,213.6 203.3,206.4 203.9,198.6 204.7,209.3 205.6,215.7 206.4,222.1 207.3,227.9 208.1,227.1 209.0,219.3 209.9,220.0 210.7,225.7 211.6,220.7 212.4,219.3 213.3,211.4 214.1,212.1 215.0,213.6 215.9,212.1 216.7,223.6 217.6,217.9 218.4,201.4 219.3,202.9 220.1,205.0 221.0,223.6 221.9,213.6 222.7,200.7 223.6,199.3 224.4,222.9 225.3,197.9 226.1,195.7 227.0,196.4 227.9,199.3 228.7,199.3 229.0,205.7 229.9,222.1 230.7,220.7 231.6,213.6 232.4,209.3 233.3,215.7 234.1,203.6 235.0,201.4 235.9,215.7 236.7,196.4 237.6,198.6 238.4,213.6 239.3,222.1 240.1,222.9 241.0,220.7 241.9,219.3 242.7,221.4 243.6,225.7 244.4,206.4 245.3,202.1 246.1,199.3 247.0,195.0 247.9,195.0 248.7,199.3 249.6,213.6 250.4,207.9 251.3,215.7 252.1,222.9 253.0,223.6 253.9,217.9 254.7,210.0 255.6,201.4 256.4,218.6 257.3,219.3 258.1,208.6 259.0,202.1 259.9,216.4 260.7,197.9 261.6,208.6 262.4,220.7 263.3,214.3 264.1,206.4 265.0,206.4 265.9,211.4 266.7,212.9 267.6,209.3 268.4,205.7 269.3,202.1 270.1,218.6 271.0,222.9 271.9,213.6 272.7,202.9 273.6,200.7 274.4,207.9 275.3,210.7 276.1,213.6 277.0,206.4 277.7,221.4 278.4,215.0 279.1,219.3 279.9,217.9 280.6,213.6 281.3,215.7 282.1,214.3 283.0,202.1 283.9,201.4 284.7,215.7 285.6,207.9 286.4,206.4 287.3,218.6 288.1,219.3 289.0,207.9 289.9,208.6 290.7,203.6 291.6,201.4 292.4,199.3 293.3,199.3 294.1,199.3 295.0,210.7 295.9,222.1 296.7,213.6 297.6,203.6 298.4,199.3 299.3,205.0 300.1,216.4 301.0,224.3 301.9,226.4 302.7,227.1 303.6,226.4 304.4,224.3 305.3,220.7 306.1,216.4 307.0,206.4 307.9,202.1 308.7,208.6 309.6,197.1 310.4,220.0 311.3,195.7 312.1,196.4 313.0,197.1 313.9,195.0 314.7,191.4 315.6,200.7 316.4,199.3 317.3,203.6 318.1,210.7 319.0,205.0 319.9,217.9 320.7,212.1 321.6,214.3 322.4,213.6 323.3,210.7 324.1,202.1 325.0,200.7 325.7,195.0 326.4,193.6 327.1,190.7 327.9,196.4 328.6,199.3 329.3,207.9 330.1,200.7 331.0,200.0 331.9,202.1 332.7,203.6 333.6,202.1 334.1,227.1 335.0,216.4 335.9,205.0 336.7,212.1 337.6,217.1 338.4,217.9 339.3,213.6 340.1,207.1 341.0,217.9 341.9,220.7 342.7,216.4 343.3,227.1 344.1,215.0 345.0,214.3 345.9,209.3 346.7,205.0 347.6,206.4 348.4,210.7 349.3,207.9 350.1,209.3 351.0,207.9 351.9,213.6 352.7,222.1 353.6,223.6 354.4,217.9 355.3,206.4 356.1,205.0 357.0,195.7 357.9,202.1 358.7,199.3 359.3,216.4 360.1,212.9 361.0,225.0 361.9,222.1 362.7,215.0 363.6,213.6 364.4,213.6 365.3,205.0 366.1,217.1 367.0,204.3 367.9,215.7 368.7,206.4 369.6,199.3 370.4,197.9 371.3,200.7 372.1,207.9 373.0,199.3 373.6,223.6 374.1,199.3 374.7,217.9 375.3,199.3 375.9,222.1 376.4,202.1 377.0,200.7 377.6,203.6 378.1,199.3 378.7,195.0 379.3,197.9 379.9,213.6 380.4,193.6 381.0,189.3 381.6,216.4 382.1,192.1 382.7,199.3 383.3,206.4 383.9,223.6 384.4,193.6 385.0,188.6 385.6,187.9 386.1,189.3 386.7,190.7 387.3,213.6 388.1,217.9 389.0,206.4 389.9,200.7 390.7,213.6 391.6,217.9 392.4,219.3 393.3,223.6 394.1,206.4 395.0,193.6 395.9,199.3 396.7,216.4 397.6,210.0 398.4,205.7 399.3,212.9 400.1,220.7 401.0,223.6 401.9,225.7 402.7,226.4 403.6,227.9 404.4,227.1 405.3,228.6 406.1,227.9 407.0,225.7 407.9,220.7 408.7,219.3 409.6,225.0 410.4,213.6 411.3,206.4 412.1,203.6 413.0,215.0 413.9,220.0 414.7,209.3 415.6,204.3 416.4,203.6 417.3,212.1 418.1,207.9 419.0,200.7 419.9,202.1 420.7,206.4 421.0,206.4 421.6,206.4 422.1,202.1 422.7,195.0 423.3,210.7 423.9,213.6 424.7,219.3 425.6,227.9 426.4,223.6 427.3,215.0 428.1,219.3 428.7,225.0 429.6,210.7 430.4,207.9 431.3,206.4 432.1,208.6 433.0,213.6 433.9,207.1 434.7,225.0 435.3,220.7 435.9,200.7 436.7,195.0 437.6,222.1 438.1,202.1 439.0,191.4 439.6,205.0 440.1,195.0 441.0,200.7 441.9,195.0 442.4,193.6 443.3,190.0 444.1,187.9 444.7,193.6 445.6,213.6 446.4,220.7 447.3,206.4 448.1,195.0 449.0,193.6 449.9,207.9 450.7,217.9 451.6,215.0 452.4,202.1 453.3,206.4 454.1,203.6 455.0,200.7 455.9,199.3 456.7,209.3 457.6,206.4 458.4,203.6 459.3,213.6 460.1,226.4 461.0,220.7 461.9,213.6 462.7,210.0 463.6,212.1 464.4,220.7 465.3,206.4 465.9,226.4 466.4,207.9 467.0,223.6 467.6,209.3 468.1,222.1 468.7,210.0 469.0,210.7 469.6,222.9 470.1,212.1 471.0,219.3 471.9,215.0 472.7,213.6 473.6,206.4 474.4,215.0 475.3,200.0 476.1,203.6 477.0,203.6 477.9,206.4 478.7,204.3 479.6,213.6 480.4,217.1 481.3,215.0 482.1,210.0 483.0,207.9 483.9,206.4 484.7,207.9 485.6,210.0 486.4,207.9 487.3,212.1 488.1,214.3 489.0,217.9 489.9,209.3 490.7,205.7 491.6,206.4 492.4,203.6 493.3,197.9 494.1,196.4 495.0,198.6 495.9,199.3 496.7,206.4 497.6,200.7 498.4,196.4 499.3,229.3 500.1,223.6 501.0,213.6 501.9,207.9 502.7,200.0 503.3,195.0 504.1,200.7 505.0,212.1 505.9,215.0 506.7,210.0 507.6,203.6 508.4,225.0 509.3,219.3 510.1,217.9 511.0,212.1 511.9,215.0 512.7,213.6 513.6,210.7 514.4,213.6 515.3,207.1 516.1,210.7 517.0,210.7 517.9,211.4 518.7,219.3 519.6,220.7 520.4,220.0 521.3,220.7 522.1,221.4 523.0,222.1 523.9,223.6 524.7,227.1 525.6,225.7 526.4,224.3 527.3,223.6 528.1,222.1 529.0,220.7 529.9,213.6 530.7,212.9 531.6,217.9 532.4,220.7 533.3,223.6 534.1,211.4 535.0,205.0 535.9,203.6 536.7,204.3 537.6,207.9 538.4,217.9 539.3,222.1 540.1,200.7 541.0,219.3 541.9,199.3 542.7,197.9 543.6,225.0 544.4,207.9 545.3,205.7 546.1,210.7 547.0,225.0 547.9,202.1 548.7,206.4 549.6,213.6 550.4,223.6 551.3,207.9 552.1,205.0 553.0,222.1 553.9,213.6 554.7,219.3 555.6,209.3 556.4,210.0 557.3,220.0 558.1,200.7 559.0,199.3 559.9,197.9 560.7,200.7 561.6,194.3 562.4,199.3 563.3,207.9 564.1,202.1 565.0,223.6 565.6,227.9 566.1,200.7 566.7,225.0 567.3,199.3 567.9,217.9 568.4,196.4 569.0,222.1 569.6,206.4 570.1,223.6 570.7,206.4 571.3,220.7 571.9,216.4 572.4,213.6 573.0,215.7 573.6,213.6 574.1,198.6 574.7,213.6 575.3,197.1 575.9,217.9 576.4,196.4 577.0,216.4 577.6,195.7 578.1,213.6 578.7,195.0 579.3,202.1 580.1,213.6 581.0,210.7 581.9,208.6 582.7,217.1 583.6,210.7 584.4,205.0 585.3,213.6 586.1,220.7 587.0,197.1 587.9,195.7 588.7,210.7 589.6,199.3 590.4,191.4 591.3,190.7 592.1,207.9 593.0,223.6 593.9,203.6 594.7,199.3 595.6,210.7 596.4,205.0 597.3,217.9 598.1,222.1 599.0,205.7 599.9,216.4 600.7,215.0 601.6,223.6 602.4,227.9 603.3,217.9 604.1,212.1 605.0,215.0 605.9,219.3 606.7,213.6 607.6,215.7 608.4,222.1 609.3,219.3 610.1,217.9 611.0,222.9 611.9,224.3 612.7,217.1 613.0,213.6 613.6,206.4 614.1,195.0 615.0,196.4 615.6,213.6 616.1,222.1 616.7,207.9 617.3,203.6 617.9,213.6 618.4,217.9 619.0,210.7 619.6,199.3 620.1,200.7 620.7,220.7 621.3,202.1 621.9,203.6 622.4,223.6 623.0,225.7 623.6,219.3 624.1,210.7 624.7,223.6 625.3,219.3 626.1,209.3 627.0,199.3 627.9,205.0 628.7,226.4 629.6,220.7 630.4,219.3 631.3,221.4 632.1,220.7 633.0,219.3 633.9,221.4 634.4,218.6 635.3,223.6 636.1,219.3 637.0,222.9 637.9,225.0 638.7,223.6 639.6,225.0 640.4,222.9 641.3,217.1 642.1,215.0 643.0,212.9 643.9,217.9 644.7,207.9 645.6,200.7 646.4,217.9 647.3,225.0 648.1,197.9 649.0,199.3 649.9,210.7 650.7,200.7 651.6,193.6 652.4,197.9 653.0,205.0 653.9,195.0 654.7,189.3 655.6,202.1 656.4,190.0 657.3,189.3 657.9,199.3 658.4,211.4 659.3,190.0 660.1,195.0 660.7,210.7 661.3,203.6 661.9,213.6 662.4,215.7 663.0,203.6 663.6,193.6 664.1,196.4 664.7,205.0 665.3,195.7 665.9,196.4 666.4,200.7 667.0,195.7 667.6,207.9 668.4,193.6 669.3,212.1 670.1,220.7 671.0,223.6 671.9,225.0 672.7,225.7 673.6,215.0 674.4,196.4 675.3,189.3 676.1,187.9 677.0,188.6 677.9,195.0 678.7,206.4 679.6,219.3 680.4,212.1 681.0,209.3 681.6,210.0" fill="none" stroke="#6FA6DA" stroke-width="1.05" stroke-linejoin="round"/></g>
<rect x="37.40" y="187.40" width="643.50" height="42.00" fill="none" stroke="#999999" stroke-width="0.8"/>
<text transform="translate(37.40 236.40) scale(0.86 1)" font-size="5.8" text-anchor="middle" fill="#222">1</text>
<text transform="translate(47.60 236.40) scale(0.86 1)" font-size="5.8" text-anchor="middle" fill="#222">11</text>
<text transform="translate(57.80 236.40) scale(0.86 1)" font-size="5.8" text-anchor="middle" fill="#222">21</text>
<text transform="translate(67.99 236.40) scale(0.86 1)" font-size="5.8" text-anchor="middle" fill="#222">31</text>
<text transform="translate(78.19 236.40) scale(0.86 1)" font-size="5.8" text-anchor="middle" fill="#222">41</text>
<text transform="translate(88.39 236.40) scale(0.86 1)" font-size="5.8" text-anchor="middle" fill="#222">51</text>
<text transform="translate(98.59 236.40) scale(0.86 1)" font-size="5.8" text-anchor="middle" fill="#222">61</text>
<text transform="translate(108.79 236.40) scale(0.86 1)" font-size="5.8" text-anchor="middle" fill="#222">71</text>
<text transform="translate(118.98 236.40) scale(0.86 1)" font-size="5.8" text-anchor="middle" fill="#222">81</text>
<text transform="translate(129.18 236.40) scale(0.86 1)" font-size="5.8" text-anchor="middle" fill="#222">91</text>
<text transform="translate(139.38 236.40) scale(0.86 1)" font-size="5.8" text-anchor="middle" fill="#222">101</text>
<text transform="translate(149.58 236.40) scale(0.86 1)" font-size="5.8" text-anchor="middle" fill="#222">111</text>
<text transform="translate(159.78 236.40) scale(0.86 1)" font-size="5.8" text-anchor="middle" fill="#222">121</text>
<text transform="translate(169.98 236.40) scale(0.86 1)" font-size="5.8" text-anchor="middle" fill="#222">131</text>
<text transform="translate(180.17 236.40) scale(0.86 1)" font-size="5.8" text-anchor="middle" fill="#222">141</text>
<text transform="translate(190.37 236.40) scale(0.86 1)" font-size="5.8" text-anchor="middle" fill="#222">151</text>
<text transform="translate(200.57 236.40) scale(0.86 1)" font-size="5.8" text-anchor="middle" fill="#222">161</text>
<text transform="translate(210.77 236.40) scale(0.86 1)" font-size="5.8" text-anchor="middle" fill="#222">171</text>
<text transform="translate(220.97 236.40) scale(0.86 1)" font-size="5.8" text-anchor="middle" fill="#222">181</text>
<text transform="translate(231.16 236.40) scale(0.86 1)" font-size="5.8" text-anchor="middle" fill="#222">191</text>
<text transform="translate(241.36 236.40) scale(0.86 1)" font-size="5.8" text-anchor="middle" fill="#222">201</text>
<text transform="translate(251.56 236.40) scale(0.86 1)" font-size="5.8" text-anchor="middle" fill="#222">211</text>
<text transform="translate(261.76 236.40) scale(0.86 1)" font-size="5.8" text-anchor="middle" fill="#222">221</text>
<text transform="translate(271.96 236.40) scale(0.86 1)" font-size="5.8" text-anchor="middle" fill="#222">231</text>
<text transform="translate(282.15 236.40) scale(0.86 1)" font-size="5.8" text-anchor="middle" fill="#222">241</text>
<text transform="translate(292.35 236.40) scale(0.86 1)" font-size="5.8" text-anchor="middle" fill="#222">251</text>
<text transform="translate(302.55 236.40) scale(0.86 1)" font-size="5.8" text-anchor="middle" fill="#222">261</text>
<text transform="translate(312.75 236.40) scale(0.86 1)" font-size="5.8" text-anchor="middle" fill="#222">271</text>
<text transform="translate(322.95 236.40) scale(0.86 1)" font-size="5.8" text-anchor="middle" fill="#222">281</text>
<text transform="translate(333.14 236.40) scale(0.86 1)" font-size="5.8" text-anchor="middle" fill="#222">291</text>
<text transform="translate(343.34 236.40) scale(0.86 1)" font-size="5.8" text-anchor="middle" fill="#222">301</text>
<text transform="translate(353.54 236.40) scale(0.86 1)" font-size="5.8" text-anchor="middle" fill="#222">311</text>
<text transform="translate(363.74 236.40) scale(0.86 1)" font-size="5.8" text-anchor="middle" fill="#222">321</text>
<text transform="translate(373.94 236.40) scale(0.86 1)" font-size="5.8" text-anchor="middle" fill="#222">331</text>
<text transform="translate(384.14 236.40) scale(0.86 1)" font-size="5.8" text-anchor="middle" fill="#222">341</text>
<text transform="translate(394.33 236.40) scale(0.86 1)" font-size="5.8" text-anchor="middle" fill="#222">351</text>
<text transform="translate(404.53 236.40) scale(0.86 1)" font-size="5.8" text-anchor="middle" fill="#222">361</text>
<text transform="translate(414.73 236.40) scale(0.86 1)" font-size="5.8" text-anchor="middle" fill="#222">371</text>
<text transform="translate(424.93 236.40) scale(0.86 1)" font-size="5.8" text-anchor="middle" fill="#222">381</text>
<text transform="translate(435.13 236.40) scale(0.86 1)" font-size="5.8" text-anchor="middle" fill="#222">391</text>
<text transform="translate(445.32 236.40) scale(0.86 1)" font-size="5.8" text-anchor="middle" fill="#222">401</text>
<text transform="translate(455.52 236.40) scale(0.86 1)" font-size="5.8" text-anchor="middle" fill="#222">411</text>
<text transform="translate(465.72 236.40) scale(0.86 1)" font-size="5.8" text-anchor="middle" fill="#222">421</text>
<text transform="translate(475.92 236.40) scale(0.86 1)" font-size="5.8" text-anchor="middle" fill="#222">431</text>
<text transform="translate(486.12 236.40) scale(0.86 1)" font-size="5.8" text-anchor="middle" fill="#222">441</text>
<text transform="translate(496.31 236.40) scale(0.86 1)" font-size="5.8" text-anchor="middle" fill="#222">451</text>
<text transform="translate(506.51 236.40) scale(0.86 1)" font-size="5.8" text-anchor="middle" fill="#222">461</text>
<text transform="translate(516.71 236.40) scale(0.86 1)" font-size="5.8" text-anchor="middle" fill="#222">471</text>
<text transform="translate(526.91 236.40) scale(0.86 1)" font-size="5.8" text-anchor="middle" fill="#222">481</text>
<text transform="translate(537.11 236.40) scale(0.86 1)" font-size="5.8" text-anchor="middle" fill="#222">491</text>
<text transform="translate(547.30 236.40) scale(0.86 1)" font-size="5.8" text-anchor="middle" fill="#222">501</text>
<text transform="translate(557.50 236.40) scale(0.86 1)" font-size="5.8" text-anchor="middle" fill="#222">511</text>
<text transform="translate(567.70 236.40) scale(0.86 1)" font-size="5.8" text-anchor="middle" fill="#222">521</text>
<text transform="translate(577.90 236.40) scale(0.86 1)" font-size="5.8" text-anchor="middle" fill="#222">531</text>
<text transform="translate(588.10 236.40) scale(0.86 1)" font-size="5.8" text-anchor="middle" fill="#222">541</text>
<text transform="translate(598.30 236.40) scale(0.86 1)" font-size="5.8" text-anchor="middle" fill="#222">551</text>
<text transform="translate(608.49 236.40) scale(0.86 1)" font-size="5.8" text-anchor="middle" fill="#222">561</text>
<text transform="translate(618.69 236.40) scale(0.86 1)" font-size="5.8" text-anchor="middle" fill="#222">571</text>
<text transform="translate(628.89 236.40) scale(0.86 1)" font-size="5.8" text-anchor="middle" fill="#222">581</text>
<text transform="translate(639.09 236.40) scale(0.86 1)" font-size="5.8" text-anchor="middle" fill="#222">591</text>
<text transform="translate(649.29 236.40) scale(0.86 1)" font-size="5.8" text-anchor="middle" fill="#222">601</text>
<text transform="translate(659.48 236.40) scale(0.86 1)" font-size="5.8" text-anchor="middle" fill="#222">611</text>
<text transform="translate(669.68 236.40) scale(0.86 1)" font-size="5.8" text-anchor="middle" fill="#222">621</text>
<text transform="translate(679.88 236.40) scale(0.86 1)" font-size="5.8" text-anchor="middle" fill="#222">631</text>
<text x="36.0" y="231.10" font-size="5.4" text-anchor="end" fill="#606060">0</text>
<text x="36.0" y="227.47" font-size="5.4" text-anchor="end" fill="#606060">10</text>
<text x="36.0" y="223.84" font-size="5.4" text-anchor="end" fill="#606060">20</text>
<text x="36.0" y="220.21" font-size="5.4" text-anchor="end" fill="#606060">30</text>
<text x="36.0" y="216.58" font-size="5.4" text-anchor="end" fill="#606060">40</text>
<text x="36.0" y="212.95" font-size="5.4" text-anchor="end" fill="#606060">50</text>
<text x="36.0" y="209.32" font-size="5.4" text-anchor="end" fill="#606060">60</text>
<text x="36.0" y="205.69" font-size="5.4" text-anchor="end" fill="#606060">70</text>
<text x="36.0" y="202.06" font-size="5.4" text-anchor="end" fill="#606060">80</text>
<text x="36.0" y="198.43" font-size="5.4" text-anchor="end" fill="#606060">90</text>
<text x="36.0" y="194.80" font-size="5.4" text-anchor="end" fill="#606060">100</text>
<text x="36.0" y="191.17" font-size="5.4" text-anchor="end" fill="#606060">110</text>
<text x="18.0" y="192.30" font-size="12.8" fill="#111">D</text>
<rect x="45.60" y="252.40" width="4.30" height="42.00" fill="#F3EFF7"/>
<rect x="56.30" y="252.40" width="12.40" height="42.00" fill="#F3EFF7"/>
<rect x="115.00" y="252.40" width="5.70" height="42.00" fill="#F3EFF7"/>
<rect x="122.40" y="252.40" width="4.70" height="42.00" fill="#F3EFF7"/>
<rect x="188.10" y="252.40" width="12.60" height="42.00" fill="#F3EFF7"/>
<rect x="238.30" y="252.40" width="4.70" height="42.00" fill="#F3EFF7"/>
<rect x="293.40" y="252.40" width="4.30" height="42.00" fill="#F3EFF7"/>
<rect x="317.00" y="252.40" width="4.60" height="42.00" fill="#F3EFF7"/>
<rect x="381.30" y="252.40" width="3.80" height="42.00" fill="#F3EFF7"/>
<rect x="413.00" y="252.40" width="3.60" height="42.00" fill="#F3EFF7"/>
<rect x="459.60" y="252.40" width="4.30" height="42.00" fill="#F3EFF7"/>
<rect x="546.30" y="252.40" width="2.80" height="42.00" fill="#F3EFF7"/>
<rect x="607.10" y="252.40" width="5.00" height="42.00" fill="#F3EFF7"/>
<rect x="636.60" y="252.40" width="4.30" height="42.00" fill="#F3EFF7"/>
<rect x="655.40" y="252.40" width="4.60" height="42.00" fill="#F3EFF7"/>
<rect x="666.40" y="252.40" width="4.30" height="42.00" fill="#F3EFF7"/>
<path d="M37.40 290.77h6.6M680.90 290.77h-6.6M37.40 287.14h6.6M680.90 287.14h-6.6M37.40 283.51h6.6M680.90 283.51h-6.6M37.40 279.88h6.6M680.90 279.88h-6.6M37.40 276.25h6.6M680.90 276.25h-6.6M37.40 272.62h6.6M680.90 272.62h-6.6M37.40 268.99h6.6M680.90 268.99h-6.6M37.40 265.36h6.6M680.90 265.36h-6.6M37.40 261.73h6.6M680.90 261.73h-6.6M37.40 258.10h6.6M680.90 258.10h-6.6M37.40 254.47h6.6M680.90 254.47h-6.6M37.40 252.40v5.6M37.40 294.40v-5.6M50.45 252.40v5.6M50.45 294.40v-5.6M63.51 252.40v5.6M63.51 294.40v-5.6M76.56 252.40v5.6M76.56 294.40v-5.6M89.61 252.40v5.6M89.61 294.40v-5.6M102.66 252.40v5.6M102.66 294.40v-5.6M115.72 252.40v5.6M115.72 294.40v-5.6M128.77 252.40v5.6M128.77 294.40v-5.6M141.82 252.40v5.6M141.82 294.40v-5.6M154.87 252.40v5.6M154.87 294.40v-5.6M167.93 252.40v5.6M167.93 294.40v-5.6M180.98 252.40v5.6M180.98 294.40v-5.6M194.03 252.40v5.6M194.03 294.40v-5.6M207.09 252.40v5.6M207.09 294.40v-5.6M220.14 252.40v5.6M220.14 294.40v-5.6M233.19 252.40v5.6M233.19 294.40v-5.6M246.24 252.40v5.6M246.24 294.40v-5.6M259.30 252.40v5.6M259.30 294.40v-5.6M272.35 252.40v5.6M272.35 294.40v-5.6M285.40 252.40v5.6M285.40 294.40v-5.6M298.45 252.40v5.6M298.45 294.40v-5.6M311.51 252.40v5.6M311.51 294.40v-5.6M324.56 252.40v5.6M324.56 294.40v-5.6M337.61 252.40v5.6M337.61 294.40v-5.6M350.67 252.40v5.6M350.67 294.40v-5.6M363.72 252.40v5.6M363.72 294.40v-5.6M376.77 252.40v5.6M376.77 294.40v-5.6M389.82 252.40v5.6M389.82 294.40v-5.6M402.88 252.40v5.6M402.88 294.40v-5.6M415.93 252.40v5.6M415.93 294.40v-5.6M428.98 252.40v5.6M428.98 294.40v-5.6M442.03 252.40v5.6M442.03 294.40v-5.6M455.09 252.40v5.6M455.09 294.40v-5.6M468.14 252.40v5.6M468.14 294.40v-5.6M481.19 252.40v5.6M481.19 294.40v-5.6M494.25 252.40v5.6M494.25 294.40v-5.6M507.30 252.40v5.6M507.30 294.40v-5.6M520.35 252.40v5.6M520.35 294.40v-5.6M533.40 252.40v5.6M533.40 294.40v-5.6M546.46 252.40v5.6M546.46 294.40v-5.6M559.51 252.40v5.6M559.51 294.40v-5.6M572.56 252.40v5.6M572.56 294.40v-5.6M585.62 252.40v5.6M585.62 294.40v-5.6M598.67 252.40v5.6M598.67 294.40v-5.6M611.72 252.40v5.6M611.72 294.40v-5.6M624.77 252.40v5.6M624.77 294.40v-5.6M637.83 252.40v5.6M637.83 294.40v-5.6M650.88 252.40v5.6M650.88 294.40v-5.6M663.93 252.40v5.6M663.93 294.40v-5.6M676.98 252.40v5.6M676.98 294.40v-5.6" stroke="#a6a6a6" stroke-width="0.7" fill="none"/>
<g clip-path="url(#pE)"><polyline points="37.4,269.3 37.7,272.0 37.9,274.7 38.2,277.4 38.4,280.1 38.7,282.9 39.0,285.6 39.2,282.6 39.5,279.5 39.8,276.5 40.0,273.5 40.3,270.5 40.5,273.9 40.8,277.4 41.0,280.8 41.3,284.2 41.6,287.6 41.8,291.0 42.1,289.7 42.4,288.3 42.6,286.9 42.9,285.5 43.1,284.1 43.4,282.8 43.7,284.2 43.9,285.6 44.2,287.0 44.5,288.4 44.7,289.8 45.0,291.3 45.2,287.1 45.5,282.9 45.8,285.6 46.0,288.2 46.3,290.9 46.5,284.1 46.8,277.2 47.1,279.0 47.3,280.9 47.6,282.8 47.8,284.6 48.1,286.5 48.4,285.4 48.6,284.2 48.9,283.1 49.1,281.9 49.4,280.8 49.7,279.7 49.9,281.9 50.2,284.1 50.5,286.3 50.7,288.6 51.0,290.8 51.2,293.0 51.5,290.0 51.8,287.0 52.0,284.1 52.3,281.1 52.5,278.1 52.8,275.1 53.1,281.6 53.3,288.1 53.6,282.9 53.9,277.8 54.1,272.7 54.4,274.6 54.6,276.6 54.9,278.5 55.1,280.4 55.4,282.4 55.7,280.7 55.9,279.0 56.2,277.4 56.5,275.7 56.7,274.1 57.0,272.4 57.2,275.6 57.5,278.8 57.8,282.0 58.0,285.3 58.3,288.5 58.5,291.7 58.8,287.9 59.1,284.0 59.3,280.2 59.6,276.4 59.9,282.8 60.1,289.3 60.4,285.9 60.6,282.5 60.9,279.1 61.2,275.7 61.4,277.8 61.7,279.9 61.9,282.0 62.2,284.1 62.5,286.2 62.7,288.3 63.0,283.4 63.2,278.4 63.5,281.4 63.8,284.3 64.0,287.3 64.3,290.2 64.5,288.5 64.8,286.7 65.1,284.9 65.3,283.2 65.6,281.4 65.8,279.7 66.1,284.5 66.4,289.4 66.6,283.4 66.9,277.4 67.2,280.6 67.4,283.7 67.7,286.9 67.9,290.0 68.2,283.9 68.5,277.7 68.7,283.1 69.0,288.5 69.2,281.4 69.5,274.4 69.8,276.2 70.0,278.0 70.3,279.8 70.5,281.7 70.8,283.5 71.1,280.6 71.3,277.7 71.6,274.8 71.9,271.8 72.1,268.9 72.4,266.0 72.6,271.4 72.9,276.7 73.2,282.1 73.4,287.4 73.7,282.1 74.0,276.9 74.2,271.6 74.5,266.3 74.7,269.5 75.0,272.7 75.2,275.9 75.5,279.0 75.8,282.2 76.0,273.1 76.3,263.9 76.6,275.9 76.8,287.8 77.1,283.6 77.3,279.4 77.6,275.3 77.9,271.1 78.1,266.9 78.4,272.4 78.7,277.9 78.9,283.4 79.2,277.3 79.4,271.2 79.7,265.2 80.0,270.7 80.2,276.2 80.5,281.7 80.7,276.1 81.0,270.5 81.3,264.9 81.5,268.5 81.8,272.1 82.0,275.6 82.3,279.2 82.6,282.7 82.8,278.5 83.1,274.2 83.3,270.0 83.6,265.7 83.9,261.5 84.1,272.1 84.4,282.8 84.7,279.4 84.9,276.0 85.2,272.5 85.4,269.1 85.7,265.7 86.0,262.2 86.2,276.7 86.5,291.1 86.7,285.5 87.0,279.9 87.3,274.2 87.5,268.6 87.8,262.9 88.0,267.2 88.3,271.5 88.6,275.8 88.8,280.1 89.1,284.4 89.3,288.7 89.6,279.2 89.9,269.7 90.1,277.3 90.4,284.9 90.7,292.4 90.9,287.2 91.2,281.9 91.4,276.6 91.7,271.4 92.0,274.7 92.2,278.0 92.5,281.3 92.7,284.6 93.0,287.9 93.3,291.2 93.5,285.0 93.8,278.9 94.0,272.8 94.3,266.7 94.6,277.7 94.8,288.7 95.1,285.2 95.3,281.6 95.6,278.1 95.9,274.6 96.1,271.1 96.4,267.5 96.7,276.7 96.9,285.9 97.2,282.1 97.4,278.2 97.7,274.3 98.0,270.5 98.2,275.5 98.5,280.5 98.8,285.5 99.0,282.6 99.3,279.8 99.5,276.9 99.8,274.1 100.0,271.3 100.3,274.9 100.6,278.5 100.8,282.1 101.1,278.8 101.4,275.4 101.6,272.1 101.9,275.5 102.1,278.8 102.4,282.1 102.7,285.5 102.9,281.8 103.2,278.0 103.5,274.3 103.7,270.5 104.0,266.8 104.2,263.1 104.5,270.4 104.8,277.7 105.0,285.0 105.3,281.4 105.5,277.7 105.8,274.1 106.1,270.4 106.3,266.8 106.6,263.1 106.8,267.8 107.1,272.5 107.4,277.2 107.6,282.0 107.9,286.7 108.2,283.0 108.4,279.4 108.7,275.7 108.9,272.0 109.2,268.3 109.5,264.7 109.7,275.4 110.0,286.0 110.2,275.4 110.5,264.7 110.8,269.2 111.0,273.9 111.3,278.4 111.5,283.0 111.8,278.2 112.1,273.3 112.3,268.5 112.6,263.6 112.8,258.8 113.1,262.6 113.4,266.4 113.6,270.2 113.9,274.0 114.2,277.8 114.4,281.6 114.7,278.3 114.9,275.0 115.2,271.6 115.5,268.4 115.7,265.1 116.0,261.7 116.2,277.2 116.5,292.7 116.8,289.6 117.0,286.6 117.3,283.6 117.5,280.5 117.8,277.5 118.1,278.9 118.3,280.4 118.6,281.8 118.8,283.3 119.1,284.7 119.4,286.1 119.6,280.7 119.9,275.2 120.2,269.7 120.4,264.2 120.7,271.4 120.9,278.6 121.2,285.8 121.5,276.9 121.7,267.9 122.0,272.3 122.2,276.6 122.5,280.9 122.8,285.3 123.0,289.6 123.3,281.7 123.5,273.9 123.8,278.3 124.1,282.7 124.3,287.1 124.6,291.6 124.8,286.6 125.1,281.7 125.4,276.8 125.6,281.4 125.9,286.0 126.2,290.6 126.4,286.8 126.7,283.0 126.9,279.2 127.2,275.4 127.5,277.5 127.7,279.5 128.0,281.6 128.2,283.6 128.5,285.7 128.8,287.7 129.0,280.4 129.3,273.0 129.6,265.7 129.8,275.7 130.1,285.6 130.3,279.2 130.6,272.7 130.9,266.3 131.1,259.8 131.4,274.4 131.6,288.9 131.9,276.2 132.2,263.5 132.4,270.4 132.7,277.4 132.9,284.3 133.2,291.2 133.5,280.6 133.7,269.9 134.0,272.7 134.2,275.4 134.5,278.2 134.8,281.0 135.0,283.7 135.3,286.5 135.6,276.5 135.8,266.5 136.1,271.7 136.3,277.0 136.6,282.3 136.9,276.7 137.1,271.2 137.4,265.7 137.7,260.1 137.9,264.2 138.2,268.3 138.4,272.3 138.7,276.4 138.9,280.5 139.2,278.4 139.5,276.3 139.7,274.1 140.0,272.1 140.3,269.9 140.5,276.9 140.8,283.8 141.0,279.8 141.3,275.7 141.6,271.7 141.8,267.7 142.1,263.7 142.3,259.7 142.6,264.5 142.9,269.3 143.1,274.2 143.4,279.0 143.7,283.8 143.9,275.1 144.2,266.4 144.4,277.0 144.7,287.6 144.9,280.5 145.2,273.4 145.5,276.6 145.7,279.9 146.0,283.1 146.3,286.4 146.5,289.6 146.8,287.4 147.0,285.2 147.3,283.1 147.6,280.9 147.8,278.7 148.1,280.3 148.3,281.9 148.6,283.4 148.9,285.1 149.1,286.6 149.4,288.2 149.7,283.8 149.9,279.3 150.2,274.8 150.4,270.4 150.7,265.9 151.0,274.8 151.2,283.7 151.5,280.2 151.7,276.7 152.0,273.2 152.3,269.7 152.5,266.2 152.8,262.7 153.1,266.7 153.3,270.7 153.6,274.7 153.8,278.8 154.1,282.8 154.3,286.8 154.6,275.3 154.9,263.8 155.1,274.8 155.4,285.8 155.7,282.1 155.9,278.5 156.2,274.9 156.4,271.3 156.7,267.7 157.0,264.1 157.2,268.6 157.5,273.1 157.8,277.6 158.0,282.1 158.3,286.7 158.5,274.6 158.8,262.5 159.1,269.2 159.3,275.8 159.6,282.4 159.8,277.4 160.1,272.4 160.4,267.3 160.6,271.6 160.9,275.9 161.1,280.1 161.4,284.4 161.7,281.4 161.9,278.3 162.2,275.2 162.4,272.1 162.7,269.1 163.0,275.5 163.2,281.9 163.5,288.4 163.8,282.3 164.0,276.3 164.3,270.2 164.5,264.2 164.8,267.5 165.1,270.9 165.3,274.3 165.6,277.6 165.8,281.0 166.1,274.7 166.4,268.4 166.6,262.2 166.9,267.0 167.1,271.9 167.4,276.8 167.7,281.7 167.9,286.6 168.2,281.5 168.4,276.5 168.7,271.5 169.0,266.5 169.2,272.8 169.5,279.0 169.8,285.3 170.0,275.8 170.3,266.3 170.5,270.6 170.8,275.0 171.1,279.3 171.3,283.7 171.6,273.2 171.8,262.8 172.1,267.6 172.4,272.5 172.6,277.4 172.9,282.2 173.2,280.2 173.4,278.2 173.7,276.2 173.9,274.2 174.2,272.2 174.4,274.2 174.7,276.3 175.0,278.4 175.2,280.4 175.5,282.5 175.8,284.6 176.0,280.7 176.3,276.8 176.5,272.8 176.8,268.9 177.1,272.3 177.3,275.7 177.6,279.1 177.8,282.5 178.1,285.9 178.4,289.3 178.6,282.0 178.9,274.7 179.2,277.7 179.4,280.7 179.7,283.6 179.9,286.6 180.2,279.2 180.5,271.7 180.7,275.5 181.0,279.3 181.2,283.1 181.5,286.9 181.8,283.3 182.0,279.7 182.3,276.1 182.6,272.5 182.8,274.8 183.1,277.2 183.3,279.6 183.6,281.9 183.8,284.3 184.1,286.6 184.4,279.2 184.6,271.8 184.9,264.4 185.2,271.3 185.4,278.1 185.7,285.0 185.9,279.9 186.2,274.7 186.5,269.6 186.7,264.4 187.0,270.9 187.2,277.4 187.5,283.9 187.8,277.0 188.0,270.1 188.3,271.7 188.6,273.2 188.8,274.7 189.1,276.2 189.3,277.8 189.6,279.3 189.9,275.4 190.1,271.6 190.4,267.8 190.6,263.9 190.9,271.1 191.2,278.2 191.4,285.3 191.7,283.2 191.9,281.0 192.2,278.9 192.5,276.7 192.7,274.5 193.0,281.0 193.2,287.4 193.5,285.7 193.8,283.9 194.0,282.1 194.3,280.3 194.6,278.6 194.8,276.8 195.1,281.8 195.3,286.8 195.6,291.8 195.9,288.2 196.1,284.7 196.4,281.1 196.6,277.6 196.9,279.6 197.2,281.5 197.4,283.5 197.7,285.5 197.9,287.4 198.2,289.4 198.5,285.3 198.7,281.2 199.0,277.1 199.2,282.5 199.5,287.9 199.8,293.3 200.0,291.0 200.3,288.7 200.6,286.4 200.8,284.1 201.1,281.8 201.3,283.6 201.6,285.4 201.9,287.3 202.1,289.1 202.4,291.0 202.7,282.5 202.9,274.1 203.2,275.5 203.4,277.0 203.7,278.5 203.9,280.0 204.2,281.5 204.5,282.9 204.7,279.6 205.0,276.3 205.3,273.0 205.5,269.6 205.8,266.3 206.0,263.0 206.3,268.5 206.6,274.0 206.8,279.5 207.1,285.0 207.3,279.3 207.6,273.6 207.9,267.9 208.1,277.3 208.4,286.7 208.7,283.7 208.9,280.8 209.2,277.9 209.4,274.9 209.7,272.0 210.0,274.6 210.2,277.3 210.5,279.9 210.7,282.5 211.0,278.3 211.3,274.1 211.5,269.8 211.8,265.6 212.1,276.2 212.3,286.9 212.6,277.6 212.8,268.3 213.1,272.1 213.3,275.9 213.6,279.8 213.9,283.6 214.1,279.0 214.4,274.4 214.7,269.8 214.9,265.1 215.2,274.9 215.4,284.6 215.7,274.8 216.0,265.0 216.2,274.4 216.5,283.9 216.7,280.4 217.0,276.8 217.3,273.3 217.5,269.8 217.8,275.5 218.1,281.3 218.3,287.0 218.6,284.0 218.8,281.0 219.1,278.0 219.4,275.0 219.6,272.0 219.9,269.0 220.1,271.1 220.4,273.3 220.7,275.4 220.9,277.6 221.2,279.7 221.4,281.9 221.7,278.8 222.0,275.8 222.2,272.8 222.5,269.7 222.8,266.7 223.0,269.9 223.3,273.2 223.5,276.5 223.8,279.8 224.1,283.1 224.3,273.3 224.6,263.5 224.8,267.2 225.1,271.0 225.4,274.8 225.6,278.6 225.9,282.4 226.1,277.8 226.4,273.2 226.7,268.6 226.9,263.9 227.2,267.0 227.4,270.0 227.7,273.0 228.0,276.1 228.2,279.1 228.5,282.1 228.8,278.8 229.0,275.4 229.3,272.1 229.5,268.7 229.8,265.3 230.1,262.0 230.3,265.5 230.6,269.0 230.8,272.6 231.1,276.1 231.4,279.6 231.6,283.1 231.9,279.7 232.2,276.3 232.4,272.8 232.7,269.4 232.9,266.0 233.2,270.2 233.4,274.5 233.7,278.8 234.0,283.1 234.2,287.4 234.5,291.7 234.8,285.1 235.0,278.5 235.3,271.9 235.5,274.3 235.8,276.8 236.1,279.2 236.3,281.6 236.6,284.1 236.8,286.5 237.1,281.0 237.4,275.5 237.6,270.0 237.9,264.5 238.2,259.0 238.4,263.8 238.7,268.6 238.9,273.4 239.2,278.3 239.5,283.1 239.7,287.9 240.0,275.1 240.2,262.2 240.5,274.4 240.8,286.7 241.0,277.2 241.3,267.7 241.5,271.4 241.8,275.1 242.1,278.9 242.3,282.6 242.6,286.3 242.8,281.7 243.1,277.1 243.4,272.5 243.6,267.8 243.9,263.2 244.2,258.6 244.4,268.2 244.7,277.9 244.9,268.5 245.2,259.2 245.5,263.1 245.7,267.0 246.0,270.9 246.2,274.8 246.5,278.7 246.8,275.6 247.0,272.6 247.3,269.5 247.6,266.5 247.8,263.4 248.1,267.5 248.3,271.6 248.6,275.8 248.8,279.9 249.1,284.0 249.4,279.4 249.6,274.9 249.9,270.3 250.2,265.7 250.4,269.9 250.7,274.0 250.9,278.1 251.2,282.3 251.5,286.4 251.7,275.9 252.0,265.3 252.2,268.9 252.5,272.6 252.8,276.2 253.0,279.8 253.3,283.4 253.6,287.1 253.8,280.9 254.1,274.8 254.3,268.6 254.6,262.4 254.9,274.5 255.1,286.6 255.4,279.5 255.6,272.3 255.9,265.2 256.2,270.6 256.4,276.0 256.7,281.5 256.9,286.9 257.2,282.2 257.5,277.5 257.7,272.8 258.0,268.1 258.2,271.4 258.5,274.8 258.8,278.2 259.0,281.6 259.3,284.9 259.6,281.0 259.8,277.1 260.1,273.2 260.3,269.4 260.6,265.5 260.9,261.6 261.1,265.9 261.4,270.1 261.6,274.4 261.9,278.6 262.2,282.9 262.4,287.2 262.7,282.1 262.9,277.1 263.2,272.1 263.5,275.4 263.7,278.8 264.0,282.2 264.3,285.6 264.5,288.9 264.8,286.0 265.0,283.0 265.3,280.0 265.6,277.0 265.8,274.0 266.1,276.2 266.4,278.4 266.6,280.5 266.9,282.7 267.1,284.9 267.4,287.1 267.6,281.2 267.9,275.4 268.2,269.5 268.4,272.3 268.7,275.1 269.0,277.8 269.2,280.6 269.5,283.3 269.7,286.1 270.0,283.5 270.3,281.0 270.5,278.4 270.8,275.9 271.0,273.3 271.3,270.8 271.6,273.5 271.8,276.2 272.1,279.0 272.4,281.8 272.6,284.5 272.9,287.2 273.1,280.4 273.4,273.6 273.6,266.7 273.9,270.6 274.2,274.6 274.4,278.5 274.7,282.4 275.0,277.7 275.2,272.9 275.5,268.2 275.7,263.5 276.0,270.3 276.3,277.2 276.5,284.1 276.8,277.6 277.1,271.1 277.3,264.6 277.6,269.4 277.8,274.3 278.1,279.2 278.4,274.1 278.6,269.0 278.9,263.9 279.1,268.6 279.4,273.3 279.7,278.0 279.9,282.7 280.2,279.8 280.4,276.9 280.7,274.0 281.0,271.1 281.2,268.2 281.5,272.2 281.8,276.1 282.0,280.0 282.3,283.9 282.5,287.8 282.8,283.6 283.1,279.3 283.3,275.1 283.6,283.0 283.8,290.9 284.1,287.8 284.4,284.8 284.6,281.7 284.9,278.7 285.1,275.6 285.4,272.6 285.7,277.1 285.9,281.5 286.2,286.0 286.4,290.5 286.7,286.9 287.0,283.4 287.2,279.8 287.5,276.2 287.8,272.7 288.0,269.1 288.3,274.4 288.5,279.8 288.8,285.1 289.1,290.4 289.3,284.6 289.6,278.7 289.8,272.8 290.1,276.5 290.4,280.2 290.6,283.9 290.9,287.6 291.1,291.3 291.4,283.2 291.7,275.1 291.9,277.4 292.2,279.7 292.4,282.0 292.7,284.3 293.0,286.6 293.2,288.9 293.5,287.2 293.8,285.5 294.0,283.9 294.3,282.2 294.5,280.5 294.8,278.8 295.1,283.3 295.3,287.9 295.6,292.4 295.8,288.3 296.1,284.3 296.4,280.2 296.6,283.7 296.9,287.2 297.1,290.7 297.4,284.5 297.7,278.3 297.9,281.8 298.2,285.3 298.4,288.9 298.7,284.7 299.0,280.6 299.2,276.4 299.5,272.3 299.8,268.1 300.0,278.2 300.3,288.3 300.5,284.9 300.8,281.6 301.1,278.2 301.3,274.9 301.6,271.5 301.9,275.0 302.1,278.4 302.4,281.8 302.6,285.3 302.9,281.2 303.1,277.2 303.4,273.1 303.7,269.1 303.9,265.0 304.2,261.0 304.5,270.9 304.7,280.9 305.0,274.7 305.2,268.5 305.5,262.3 305.8,267.4 306.0,272.5 306.3,277.6 306.6,282.8 306.8,280.2 307.1,277.7 307.3,275.2 307.6,272.7 307.9,270.2 308.1,273.3 308.4,276.4 308.6,279.5 308.9,282.6 309.2,285.7 309.4,288.8 309.7,285.5 309.9,282.1 310.2,278.8 310.5,275.4 310.7,272.0 311.0,268.7 311.2,271.3 311.5,274.0 311.8,276.6 312.0,279.3 312.3,275.1 312.6,270.9 312.8,266.7 313.1,262.5 313.3,258.3 313.6,264.8 313.9,271.2 314.1,277.7 314.4,274.4 314.6,271.0 314.9,267.7 315.2,264.3 315.4,269.7 315.7,275.1 315.9,280.5 316.2,285.9 316.5,274.7 316.7,263.5 317.0,269.3 317.2,275.1 317.5,280.9 317.8,276.5 318.0,272.1 318.3,267.8 318.6,263.4 318.8,259.0 319.1,265.5 319.3,271.9 319.6,278.4 319.9,284.9 320.1,280.8 320.4,276.8 320.6,272.8 320.9,268.8 321.2,275.5 321.4,282.3 321.7,289.0 321.9,278.8 322.2,268.5 322.5,258.2 322.7,264.8 323.0,271.4 323.2,278.1 323.5,284.7 323.8,271.7 324.0,258.8 324.3,263.9 324.6,269.1 324.8,274.3 325.1,279.4 325.3,277.1 325.6,274.7 325.9,272.4 326.1,270.0 326.4,267.6 326.6,265.3 326.9,269.8 327.2,274.3 327.4,278.8 327.7,283.3 327.9,278.8 328.2,274.4 328.5,269.9 328.7,265.5 329.0,268.5 329.3,271.6 329.5,274.6 329.8,277.6 330.0,280.7 330.3,276.8 330.6,272.9 330.8,269.0 331.1,265.1 331.4,261.2 331.6,257.4 331.9,260.9 332.1,264.5 332.4,268.1 332.6,271.7 332.9,275.3 333.2,278.9 333.4,273.5 333.7,268.2 334.0,262.8 334.2,266.1 334.5,269.4 334.7,272.8 335.0,276.1 335.3,279.4 335.5,269.8 335.8,260.1 336.1,269.8 336.3,279.5 336.6,275.8 336.8,272.1 337.1,268.4 337.4,264.7 337.6,268.6 337.9,272.5 338.1,276.4 338.4,280.3 338.7,284.2 338.9,288.1 339.2,282.7 339.4,277.3 339.7,271.9 340.0,280.6 340.2,289.2 340.5,284.9 340.8,280.6 341.0,276.2 341.3,271.9 341.5,275.6 341.8,279.3 342.1,283.1 342.3,286.8 342.6,283.9 342.8,281.0 343.1,278.1 343.4,275.2 343.6,272.3 343.9,269.4 344.1,271.8 344.4,274.2 344.7,276.6 344.9,279.0 345.2,281.4 345.4,283.8 345.7,272.9 346.0,261.9 346.2,272.3 346.5,282.7 346.8,272.5 347.0,262.3 347.3,270.9 347.5,279.4 347.8,288.0 348.1,282.9 348.3,277.8 348.6,272.7 348.8,275.3 349.1,277.8 349.4,280.4 349.6,283.0 349.9,285.6 350.1,288.1 350.4,279.5 350.7,270.8 350.9,273.6 351.2,276.3 351.4,279.1 351.7,281.8 352.0,284.5 352.2,281.7 352.5,278.9 352.8,276.1 353.0,273.2 353.3,270.4 353.5,267.6 353.8,271.2 354.1,274.8 354.3,278.4 354.6,282.0 354.8,276.9 355.1,271.9 355.4,266.8 355.6,261.7 355.9,266.9 356.1,272.0 356.4,277.2 356.7,282.3 356.9,278.6 357.2,274.8 357.4,271.1 357.7,267.4 358.0,272.1 358.2,276.8 358.5,281.5 358.8,286.2 359.0,278.4 359.3,270.6 359.5,262.9 359.8,269.4 360.1,276.0 360.3,282.6 360.6,277.4 360.9,272.3 361.1,267.1 361.4,262.0 361.6,256.9 361.9,262.5 362.1,268.1 362.4,273.6 362.7,279.2 362.9,271.1 363.2,262.9 363.5,268.0 363.7,273.1 364.0,278.2 364.2,283.3 364.5,278.1 364.8,272.8 365.0,267.6 365.3,271.2 365.6,274.9 365.8,278.5 366.1,282.1 366.3,285.8 366.6,279.0 366.9,272.2 367.1,265.4 367.4,276.7 367.6,287.9 367.9,284.6 368.2,281.4 368.4,278.1 368.7,274.9 368.9,271.7 369.2,276.8 369.5,281.9 369.7,287.0 370.0,279.0 370.2,271.0 370.5,273.9 370.8,276.8 371.0,279.7 371.3,282.6 371.6,285.5 371.8,280.4 372.1,275.2 372.3,270.1 372.6,273.3 372.9,276.6 373.1,279.8 373.4,283.1 373.6,274.4 373.9,265.6 374.2,270.9 374.4,276.1 374.7,281.3 374.9,276.9 375.2,272.4 375.5,267.9 375.7,263.5 376.0,259.0 376.2,262.1 376.5,265.1 376.8,268.1 377.0,271.2 377.3,274.2 377.6,277.2 377.8,273.6 378.1,269.9 378.3,266.1 378.6,262.4 378.9,265.9 379.1,269.3 379.4,272.8 379.6,276.2 379.9,279.6 380.2,283.1 380.4,277.9 380.7,272.6 380.9,267.4 381.2,274.3 381.5,281.1 381.7,287.9 382.0,278.5 382.2,269.0 382.5,274.1 382.8,279.1 383.0,284.1 383.3,289.2 383.6,286.1 383.8,283.1 384.1,280.0 384.3,276.9 384.6,273.9 384.9,270.8 385.1,273.8 385.4,276.7 385.6,279.7 385.9,282.7 386.2,278.1 386.4,273.6 386.7,269.0 386.9,264.5 387.2,259.9 387.5,255.4 387.7,262.4 388.0,269.5 388.3,276.6 388.5,270.4 388.8,264.2 389.0,258.1 389.3,267.3 389.6,276.5 389.8,285.7 390.1,282.1 390.4,278.4 390.6,274.8 390.9,282.2 391.1,289.6 391.4,282.0 391.6,274.4 391.9,278.1 392.2,281.8 392.4,285.5 392.7,289.2 393.0,292.8 393.2,284.4 393.5,275.9 393.7,278.2 394.0,280.5 394.3,282.8 394.5,285.1 394.8,287.4 395.1,289.7 395.3,280.4 395.6,271.0 395.8,276.1 396.1,281.1 396.4,286.2 396.6,280.5 396.9,274.7 397.1,269.0 397.4,263.2 397.7,269.0 397.9,274.7 398.2,280.5 398.4,286.2 398.7,280.2 399.0,274.1 399.2,268.0 399.5,261.9 399.7,268.2 400.0,274.4 400.3,280.6 400.5,270.9 400.8,261.3 401.1,265.5 401.3,269.6 401.6,273.8 401.8,278.0 402.1,282.2 402.4,280.2 402.6,278.2 402.9,276.2 403.1,274.2 403.4,272.2 403.7,270.2 403.9,275.8 404.2,281.3 404.4,286.9 404.7,283.1 405.0,279.2 405.2,275.4 405.5,271.5 405.8,277.1 406.0,282.6 406.3,288.1 406.5,284.3 406.8,280.4 407.1,276.5 407.3,272.6 407.6,268.8 407.8,264.9 408.1,267.6 408.4,270.3 408.6,273.0 408.9,275.6 409.1,278.3 409.4,281.0 409.7,274.0 409.9,266.9 410.2,259.9 410.4,265.5 410.7,271.2 411.0,276.8 411.2,282.4 411.5,279.3 411.8,276.2 412.0,273.0 412.3,269.9 412.5,266.7 412.8,276.4 413.1,286.0 413.3,283.1 413.6,280.1 413.8,277.1 414.1,274.2 414.4,271.2 414.6,275.0 414.9,278.7 415.1,282.4 415.4,286.1 415.7,289.9 415.9,287.2 416.2,284.5 416.4,281.9 416.7,279.2 417.0,276.5 417.2,284.7 417.5,292.9 417.8,286.7 418.0,280.4 418.3,274.1 418.5,276.6 418.8,279.0 419.1,281.5 419.3,283.9 419.6,286.4 419.9,288.8 420.1,282.7 420.4,276.6 420.6,270.4 420.9,264.3 421.1,270.2 421.4,276.0 421.7,281.9 421.9,287.7 422.2,281.0 422.5,274.3 422.7,267.7 423.0,272.6 423.2,277.5 423.5,282.4 423.8,287.3 424.0,278.9 424.3,270.6 424.5,274.0 424.8,277.3 425.1,280.7 425.3,284.0 425.6,287.4 425.9,282.0 426.1,276.6 426.4,271.2 426.6,265.8 426.9,271.2 427.1,276.7 427.4,282.1 427.7,287.5 427.9,282.1 428.2,276.7 428.5,271.2 428.7,274.3 429.0,277.3 429.2,280.4 429.5,283.4 429.8,286.5 430.0,289.5 430.3,283.0 430.6,276.4 430.8,269.9 431.1,263.3 431.3,273.3 431.6,283.2 431.9,279.2 432.1,275.1 432.4,271.0 432.6,266.9 432.9,262.8 433.2,269.7 433.4,276.6 433.7,283.4 433.9,280.6 434.2,277.7 434.5,274.9 434.7,272.0 435.0,274.9 435.2,277.7 435.5,280.6 435.8,283.4 436.0,286.2 436.3,289.1 436.6,285.7 436.8,282.2 437.1,278.8 437.3,275.4 437.6,271.9 437.9,268.5 438.1,274.1 438.4,279.7 438.6,285.3 438.9,279.8 439.2,274.3 439.4,268.8 439.7,263.3 439.9,257.8 440.2,262.3 440.5,266.9 440.7,271.4 441.0,276.0 441.2,271.2 441.5,266.5 441.8,261.8 442.0,265.6 442.3,269.5 442.6,273.4 442.8,277.2 443.1,281.1 443.3,285.0 443.6,279.9 443.9,274.7 444.1,269.6 444.4,264.4 444.6,268.5 444.9,272.6 445.2,276.7 445.4,280.8 445.7,284.9 445.9,281.1 446.2,277.4 446.5,273.7 446.7,270.0 447.0,266.3 447.3,262.6 447.5,266.1 447.8,269.5 448.0,272.9 448.3,276.4 448.6,279.8 448.8,283.3 449.1,268.8 449.3,254.3 449.6,265.8 449.9,277.2 450.1,267.0 450.4,256.8 450.6,266.6 450.9,276.3 451.2,286.0 451.4,282.8 451.7,279.6 451.9,276.4 452.2,273.3 452.5,270.1 452.7,276.0 453.0,281.9 453.3,287.9 453.5,284.2 453.8,280.6 454.0,277.0 454.3,273.4 454.6,269.7 454.8,266.1 455.1,270.3 455.4,274.4 455.6,278.6 455.9,282.8 456.1,287.0 456.4,281.8 456.6,276.6 456.9,271.4 457.2,266.2 457.4,269.7 457.7,273.3 458.0,276.8 458.2,280.4 458.5,276.8 458.7,273.3 459.0,269.8 459.3,266.3 459.5,262.8 459.8,273.1 460.1,283.5 460.3,273.5 460.6,263.5 460.8,268.8 461.1,274.2 461.4,279.6 461.6,284.9 461.9,282.7 462.1,280.4 462.4,278.1 462.7,275.9 462.9,273.6 463.2,276.4 463.4,279.2 463.7,282.0 464.0,284.8 464.2,287.6 464.5,278.2 464.8,268.9 465.0,276.8 465.3,284.6 465.5,281.0 465.8,277.4 466.1,273.8 466.3,270.2 466.6,266.6 466.8,272.9 467.1,279.1 467.4,285.4 467.6,279.9 467.9,274.4 468.1,268.8 468.4,271.2 468.7,273.6 468.9,276.0 469.2,278.4 469.4,280.8 469.7,276.7 470.0,272.6 470.2,268.4 470.5,264.3 470.8,268.7 471.0,273.1 471.3,277.5 471.5,281.9 471.8,286.3 472.1,281.6 472.3,276.9 472.6,272.2 472.8,267.4 473.1,276.0 473.4,284.6 473.6,273.6 473.9,262.5 474.1,269.0 474.4,275.6 474.7,282.1 474.9,276.3 475.2,270.6 475.4,264.8 475.7,269.0 476.0,273.1 476.2,277.2 476.5,281.4 476.8,285.5 477.0,281.3 477.3,277.1 477.5,273.0 477.8,268.8 478.1,264.6 478.3,274.1 478.6,283.5 478.8,274.8 479.1,266.1 479.4,257.4 479.6,265.0 479.9,272.6 480.1,280.1 480.4,277.3 480.7,274.5 480.9,271.7 481.2,268.8 481.4,266.0 481.7,263.2 482.0,265.6 482.2,268.0 482.5,270.5 482.8,272.9 483.0,275.3 483.3,277.8 483.5,273.2 483.8,268.6 484.1,263.9 484.3,259.3 484.6,254.7 484.9,262.7 485.1,270.7 485.4,278.7 485.6,286.7 485.9,282.6 486.1,278.4 486.4,274.3 486.7,270.1 486.9,272.7 487.2,275.3 487.5,277.8 487.7,280.4 488.0,282.9 488.2,285.5 488.5,278.7 488.8,271.9 489.0,265.1 489.3,258.2 489.6,263.4 489.8,268.6 490.1,273.8 490.3,279.0 490.6,284.2 490.9,280.9 491.1,277.6 491.4,274.2 491.6,270.9 491.9,279.1 492.2,287.3 492.4,279.7 492.7,272.1 492.9,264.5 493.2,270.4 493.5,276.4 493.7,282.4 494.0,279.9 494.2,277.5 494.5,275.0 494.8,272.6 495.0,270.1 495.3,272.7 495.6,275.3 495.8,277.8 496.1,280.4 496.3,283.0 496.6,285.5 496.9,277.4 497.1,269.4 497.4,274.4 497.6,279.4 497.9,284.4 498.2,280.9 498.4,277.4 498.7,273.8 498.9,270.3 499.2,266.8 499.5,270.7 499.7,274.6 500.0,278.6 500.2,282.5 500.5,286.5 500.8,281.4 501.0,276.4 501.3,271.4 501.6,266.4 501.8,261.4 502.1,269.5 502.3,277.6 502.6,285.7 502.9,280.5 503.1,275.3 503.4,270.2 503.6,265.0 503.9,269.2 504.2,273.5 504.4,277.7 504.7,281.9 504.9,286.2 505.2,290.4 505.5,286.1 505.7,281.9 506.0,277.6 506.2,273.3 506.5,269.0 506.8,264.7 507.0,268.0 507.3,271.4 507.6,274.7 507.8,278.0 508.1,281.4 508.3,284.7 508.6,281.1 508.9,277.4 509.1,273.8 509.4,270.2 509.6,266.5 509.9,262.9 510.2,274.6 510.4,286.2 510.7,280.7 510.9,275.1 511.2,269.6 511.5,279.6 511.7,289.5 512.0,286.9 512.3,284.2 512.5,281.5 512.8,278.9 513.0,276.2 513.3,273.5 513.6,280.6 513.8,287.7 514.1,283.9 514.4,280.1 514.6,276.2 514.9,272.4 515.1,268.5 515.4,271.7 515.6,274.9 515.9,278.1 516.2,281.3 516.4,284.5 516.7,287.7 517.0,284.8 517.2,281.9 517.5,278.9 517.7,276.0 518.0,273.1 518.3,270.2 518.5,274.9 518.8,279.6 519.0,284.2 519.3,274.9 519.6,265.7 519.8,268.6 520.1,271.5 520.4,274.4 520.6,277.3 520.9,280.2 521.1,275.7 521.4,271.3 521.7,266.8 521.9,262.4 522.2,257.9 522.4,253.5 522.7,259.2 523.0,265.0 523.2,270.8 523.5,276.6 523.8,282.3 524.0,277.4 524.3,272.4 524.5,267.4 524.8,262.4 525.0,267.5 525.3,272.6 525.6,277.7 525.8,282.8 526.1,287.9 526.4,284.2 526.6,280.6 526.9,276.9 527.1,273.3 527.4,281.2 527.7,289.2 527.9,283.1 528.2,276.9 528.4,270.8 528.7,273.8 529.0,276.9 529.2,279.9 529.5,283.0 529.8,286.0 530.0,277.4 530.3,268.7 530.5,275.8 530.8,282.8 531.0,278.5 531.3,274.2 531.6,269.9 531.8,265.6 532.1,261.3 532.4,265.4 532.6,269.4 532.9,273.5 533.1,277.6 533.4,281.6 533.7,285.7 533.9,275.2 534.2,264.8 534.5,269.7 534.7,274.6 535.0,279.6 535.2,271.7 535.5,263.9 535.8,256.0 536.0,261.3 536.3,266.6 536.5,271.9 536.8,277.3 537.1,282.6 537.3,279.4 537.6,276.2 537.8,272.9 538.1,269.7 538.4,273.5 538.6,277.2 538.9,281.0 539.1,284.7 539.4,288.5 539.7,279.1 539.9,269.7 540.2,275.5 540.5,281.3 540.7,287.1 541.0,275.4 541.2,263.7 541.5,268.0 541.8,272.4 542.0,276.7 542.3,281.0 542.5,275.0 542.8,269.0 543.1,263.0 543.3,257.0 543.6,262.5 543.9,267.9 544.1,273.4 544.4,278.9 544.6,284.3 544.9,276.9 545.1,269.4 545.4,262.0 545.7,269.6 545.9,277.1 546.2,284.7 546.5,278.8 546.7,272.8 547.0,266.9 547.2,272.1 547.5,277.4 547.8,282.6 548.0,287.9 548.3,293.1 548.5,290.0 548.8,286.9 549.1,283.7 549.3,280.6 549.6,277.5 549.9,284.2 550.1,290.9 550.4,281.8 550.6,272.8 550.9,280.6 551.2,288.4 551.4,279.0 551.7,269.6 551.9,272.6 552.2,275.7 552.5,278.7 552.7,281.7 553.0,284.8 553.2,280.2 553.5,275.6 553.8,271.0 554.0,276.0 554.3,281.0 554.5,286.1 554.8,282.2 555.1,278.4 555.3,274.6 555.6,270.8 555.9,267.0 556.1,270.6 556.4,274.3 556.6,278.0 556.9,281.6 557.2,285.3 557.4,280.7 557.7,276.0 557.9,271.4 558.2,266.8 558.5,262.1 558.7,266.4 559.0,270.7 559.2,274.9 559.5,279.2 559.8,273.4 560.0,267.6 560.3,261.8 560.5,265.8 560.8,269.8 561.1,273.8 561.3,277.8 561.6,281.8 561.9,285.8 562.1,281.4 562.4,276.9 562.6,272.5 562.9,268.0 563.2,273.8 563.4,279.6 563.7,285.3 564.0,291.1 564.2,284.9 564.5,278.8 564.7,272.7 565.0,266.6 565.2,260.4 565.5,265.1 565.8,269.7 566.0,274.4 566.3,279.0 566.6,283.7 566.8,279.6 567.1,275.4 567.3,271.3 567.6,267.2 567.9,276.8 568.1,286.4 568.4,281.6 568.6,276.8 568.9,271.9 569.2,274.7 569.4,277.5 569.7,280.3 570.0,283.1 570.2,285.9 570.5,288.6 570.7,284.9 571.0,281.3 571.3,277.6 571.5,273.9 571.8,270.2 572.0,266.6 572.3,270.1 572.6,273.6 572.8,277.1 573.1,280.6 573.4,284.1 573.6,287.6 573.9,281.6 574.1,275.5 574.4,269.5 574.6,274.4 574.9,279.3 575.2,284.3 575.4,281.8 575.7,279.4 576.0,277.0 576.2,274.6 576.5,272.1 576.7,269.7 577.0,275.1 577.3,280.5 577.5,285.9 577.8,278.1 578.0,270.3 578.3,275.7 578.6,281.0 578.8,286.3 579.1,280.8 579.4,275.2 579.6,269.6 579.9,272.3 580.1,274.9 580.4,277.6 580.6,280.3 580.9,282.9 581.2,285.6 581.4,281.6 581.7,277.7 582.0,273.7 582.2,269.8 582.5,273.5 582.7,277.3 583.0,281.1 583.3,284.9 583.5,274.1 583.8,263.4 584.0,270.1 584.3,276.8 584.6,283.6 584.8,280.4 585.1,277.3 585.4,274.1 585.6,271.0 585.9,267.9 586.1,264.7 586.4,268.2 586.7,271.7 586.9,275.2 587.2,278.6 587.4,282.1 587.7,285.6 588.0,278.5 588.2,271.4 588.5,264.3 588.8,257.2 589.0,263.2 589.3,269.3 589.5,275.3 589.8,281.3 590.0,271.3 590.3,261.2 590.6,272.8 590.8,284.3 591.1,279.3 591.4,274.3 591.6,269.3 591.9,264.3 592.1,267.9 592.4,271.4 592.7,275.0 592.9,278.6 593.2,282.2 593.5,285.8 593.7,277.8 594.0,269.8 594.2,261.7 594.5,265.2 594.8,268.6 595.0,272.1 595.3,275.5 595.5,279.0 595.8,282.4 596.1,279.3 596.3,276.2 596.6,273.1 596.8,269.9 597.1,266.8 597.4,273.4 597.6,280.0 597.9,286.6 598.1,278.6 598.4,270.5 598.7,262.4 598.9,266.4 599.2,270.3 599.5,274.3 599.7,278.2 600.0,282.2 600.2,270.7 600.5,259.2 600.8,265.0 601.0,270.8 601.3,276.6 601.5,282.4 601.8,288.2 602.1,283.1 602.3,278.0 602.6,272.9 602.8,281.6 603.1,290.2 603.4,285.2 603.6,280.2 603.9,275.3 604.1,280.4 604.4,285.6 604.7,290.8 604.9,286.8 605.2,282.8 605.5,278.8 605.7,274.7 606.0,270.7 606.2,266.7 606.5,275.6 606.8,284.6 607.0,276.4 607.3,268.1 607.5,274.9 607.8,281.7 608.1,288.5 608.3,285.7 608.6,282.9 608.9,280.0 609.1,277.2 609.4,274.4 609.6,278.0 609.9,281.5 610.1,285.1 610.4,288.7 610.7,292.2 610.9,290.3 611.2,288.3 611.5,286.4 611.7,284.4 612.0,282.5 612.2,280.5 612.5,281.2 612.8,281.8 613.0,282.4 613.3,283.1 613.5,283.7 613.8,284.4 614.1,279.7 614.3,275.1 614.6,270.5 614.9,265.9 615.1,270.1 615.4,274.3 615.6,278.4 615.9,282.6 616.2,286.8 616.4,284.8 616.7,282.7 616.9,280.6 617.2,278.5 617.5,276.4 617.7,281.3 618.0,286.2 618.2,282.3 618.5,278.4 618.8,274.5 619.0,270.6 619.3,266.7 619.5,262.8 619.8,266.7 620.1,270.5 620.3,274.3 620.6,278.2 620.9,282.0 621.1,285.9 621.4,277.2 621.6,268.5 621.9,276.6 622.2,284.8 622.4,282.2 622.7,279.5 623.0,276.9 623.2,274.2 623.5,271.6 623.7,269.0 624.0,271.7 624.2,274.4 624.5,277.0 624.8,279.7 625.0,282.4 625.3,278.2 625.6,274.0 625.8,269.8 626.1,265.6 626.3,273.7 626.6,281.8 626.9,277.0 627.1,272.2 627.4,267.4 627.6,262.6 627.9,257.8 628.2,262.4 628.4,267.0 628.7,271.5 629.0,276.1 629.2,280.7 629.5,277.4 629.7,274.2 630.0,270.9 630.3,267.7 630.5,264.5 630.8,267.1 631.0,269.6 631.3,272.2 631.6,274.8 631.8,277.4 632.1,279.9 632.3,276.8 632.6,273.6 632.9,270.4 633.1,267.2 633.4,264.0 633.6,260.8 633.9,265.5 634.2,270.2 634.4,275.0 634.7,279.7 635.0,284.4 635.2,279.5 635.5,274.6 635.7,277.4 636.0,280.2 636.3,283.0 636.5,285.8 636.8,282.1 637.0,278.5 637.3,274.9 637.6,271.2 637.8,267.6 638.1,274.7 638.4,281.8 638.6,289.0 638.9,286.5 639.1,284.1 639.4,281.6 639.6,279.2 639.9,276.7 640.2,284.5 640.4,292.3 640.7,287.0 641.0,281.7 641.2,276.5 641.5,278.5 641.7,280.5 642.0,282.5 642.3,284.5 642.5,286.5 642.8,288.5 643.0,284.9 643.3,281.2 643.6,277.6 643.8,273.9 644.1,270.3 644.4,275.4 644.6,280.6 644.9,285.7 645.1,277.5 645.4,269.3 645.7,278.0 645.9,286.7 646.2,283.3 646.4,279.9 646.7,276.4 647.0,273.0 647.2,269.6 647.5,273.2 647.8,276.9 648.0,280.6 648.3,284.2 648.5,287.9 648.8,284.0 649.0,280.1 649.3,276.2 649.6,272.3 649.8,268.4 650.1,264.5 650.4,269.9 650.6,275.3 650.9,280.7 651.1,286.1 651.4,279.2 651.7,272.3 651.9,265.5 652.2,258.6 652.5,263.7 652.7,268.8 653.0,273.9 653.2,279.0 653.5,284.1 653.8,280.2 654.0,276.3 654.3,272.4 654.5,268.5 654.8,264.6 655.1,271.5 655.3,278.4 655.6,285.3 655.8,273.4 656.1,261.4 656.4,267.5 656.6,273.5 656.9,279.6 657.1,285.6 657.4,277.7 657.7,269.8 657.9,273.4 658.2,277.0 658.5,280.6 658.7,284.3 659.0,287.9 659.2,291.5 659.5,287.4 659.8,283.2 660.0,279.0 660.3,284.9 660.5,290.8 660.8,286.5 661.1,282.1 661.3,277.8 661.6,273.4 661.8,276.9 662.1,280.3 662.4,283.8 662.6,287.2 662.9,284.2 663.1,281.2 663.4,278.3 663.7,275.3 663.9,278.7 664.2,282.1 664.5,285.6 664.7,282.0 665.0,278.5 665.2,275.0 665.5,271.5 665.8,268.0 666.0,274.6 666.3,281.1 666.5,287.6 666.8,282.5 667.1,277.4 667.3,272.2 667.6,267.1 667.9,273.8 668.1,280.4 668.4,287.1 668.6,281.7 668.9,276.2 669.1,270.8 669.4,275.1 669.7,279.4 669.9,283.6 670.2,287.9 670.5,284.6 670.7,281.3 671.0,278.0 671.2,274.7 671.5,276.1 671.8,277.6 672.0,279.1 672.3,280.5 672.5,282.0 672.8,283.5 673.1,279.8 673.3,276.1 673.6,272.4 673.9,268.7 674.1,265.0 674.4,261.3 674.6,265.7 674.9,270.1 675.2,274.5 675.4,278.9 675.7,272.1 675.9,265.4 676.2,258.6 676.5,264.9 676.7,271.2 677.0,277.5 677.2,283.8 677.5,272.5 677.8,261.1 678.0,273.0 678.3,284.8 678.5,281.4 678.8,278.1 679.1,274.8 679.3,271.4 679.6,268.1 679.9,264.7 680.1,276.3 680.4,287.9 680.6,284.6 680.9,281.4" fill="none" stroke="#0068B4" stroke-width="1.2" stroke-linejoin="round"/>
<polyline clip-path="url(#cE)" points="37.4,269.3 37.7,272.0 37.9,274.7 38.2,277.4 38.4,280.1 38.7,282.9 39.0,285.6 39.2,282.6 39.5,279.5 39.8,276.5 40.0,273.5 40.3,270.5 40.5,273.9 40.8,277.4 41.0,280.8 41.3,284.2 41.6,287.6 41.8,291.0 42.1,289.7 42.4,288.3 42.6,286.9 42.9,285.5 43.1,284.1 43.4,282.8 43.7,284.2 43.9,285.6 44.2,287.0 44.5,288.4 44.7,289.8 45.0,291.3 45.2,287.1 45.5,282.9 45.8,285.6 46.0,288.2 46.3,290.9 46.5,284.1 46.8,277.2 47.1,279.0 47.3,280.9 47.6,282.8 47.8,284.6 48.1,286.5 48.4,285.4 48.6,284.2 48.9,283.1 49.1,281.9 49.4,280.8 49.7,279.7 49.9,281.9 50.2,284.1 50.5,286.3 50.7,288.6 51.0,290.8 51.2,293.0 51.5,290.0 51.8,287.0 52.0,284.1 52.3,281.1 52.5,278.1 52.8,275.1 53.1,281.6 53.3,288.1 53.6,282.9 53.9,277.8 54.1,272.7 54.4,274.6 54.6,276.6 54.9,278.5 55.1,280.4 55.4,282.4 55.7,280.7 55.9,279.0 56.2,277.4 56.5,275.7 56.7,274.1 57.0,272.4 57.2,275.6 57.5,278.8 57.8,282.0 58.0,285.3 58.3,288.5 58.5,291.7 58.8,287.9 59.1,284.0 59.3,280.2 59.6,276.4 59.9,282.8 60.1,289.3 60.4,285.9 60.6,282.5 60.9,279.1 61.2,275.7 61.4,277.8 61.7,279.9 61.9,282.0 62.2,284.1 62.5,286.2 62.7,288.3 63.0,283.4 63.2,278.4 63.5,281.4 63.8,284.3 64.0,287.3 64.3,290.2 64.5,288.5 64.8,286.7 65.1,284.9 65.3,283.2 65.6,281.4 65.8,279.7 66.1,284.5 66.4,289.4 66.6,283.4 66.9,277.4 67.2,280.6 67.4,283.7 67.7,286.9 67.9,290.0 68.2,283.9 68.5,277.7 68.7,283.1 69.0,288.5 69.2,281.4 69.5,274.4 69.8,276.2 70.0,278.0 70.3,279.8 70.5,281.7 70.8,283.5 71.1,280.6 71.3,277.7 71.6,274.8 71.9,271.8 72.1,268.9 72.4,266.0 72.6,271.4 72.9,276.7 73.2,282.1 73.4,287.4 73.7,282.1 74.0,276.9 74.2,271.6 74.5,266.3 74.7,269.5 75.0,272.7 75.2,275.9 75.5,279.0 75.8,282.2 76.0,273.1 76.3,263.9 76.6,275.9 76.8,287.8 77.1,283.6 77.3,279.4 77.6,275.3 77.9,271.1 78.1,266.9 78.4,272.4 78.7,277.9 78.9,283.4 79.2,277.3 79.4,271.2 79.7,265.2 80.0,270.7 80.2,276.2 80.5,281.7 80.7,276.1 81.0,270.5 81.3,264.9 81.5,268.5 81.8,272.1 82.0,275.6 82.3,279.2 82.6,282.7 82.8,278.5 83.1,274.2 83.3,270.0 83.6,265.7 83.9,261.5 84.1,272.1 84.4,282.8 84.7,279.4 84.9,276.0 85.2,272.5 85.4,269.1 85.7,265.7 86.0,262.2 86.2,276.7 86.5,291.1 86.7,285.5 87.0,279.9 87.3,274.2 87.5,268.6 87.8,262.9 88.0,267.2 88.3,271.5 88.6,275.8 88.8,280.1 89.1,284.4 89.3,288.7 89.6,279.2 89.9,269.7 90.1,277.3 90.4,284.9 90.7,292.4 90.9,287.2 91.2,281.9 91.4,276.6 91.7,271.4 92.0,274.7 92.2,278.0 92.5,281.3 92.7,284.6 93.0,287.9 93.3,291.2 93.5,285.0 93.8,278.9 94.0,272.8 94.3,266.7 94.6,277.7 94.8,288.7 95.1,285.2 95.3,281.6 95.6,278.1 95.9,274.6 96.1,271.1 96.4,267.5 96.7,276.7 96.9,285.9 97.2,282.1 97.4,278.2 97.7,274.3 98.0,270.5 98.2,275.5 98.5,280.5 98.8,285.5 99.0,282.6 99.3,279.8 99.5,276.9 99.8,274.1 100.0,271.3 100.3,274.9 100.6,278.5 100.8,282.1 101.1,278.8 101.4,275.4 101.6,272.1 101.9,275.5 102.1,278.8 102.4,282.1 102.7,285.5 102.9,281.8 103.2,278.0 103.5,274.3 103.7,270.5 104.0,266.8 104.2,263.1 104.5,270.4 104.8,277.7 105.0,285.0 105.3,281.4 105.5,277.7 105.8,274.1 106.1,270.4 106.3,266.8 106.6,263.1 106.8,267.8 107.1,272.5 107.4,277.2 107.6,282.0 107.9,286.7 108.2,283.0 108.4,279.4 108.7,275.7 108.9,272.0 109.2,268.3 109.5,264.7 109.7,275.4 110.0,286.0 110.2,275.4 110.5,264.7 110.8,269.2 111.0,273.9 111.3,278.4 111.5,283.0 111.8,278.2 112.1,273.3 112.3,268.5 112.6,263.6 112.8,258.8 113.1,262.6 113.4,266.4 113.6,270.2 113.9,274.0 114.2,277.8 114.4,281.6 114.7,278.3 114.9,275.0 115.2,271.6 115.5,268.4 115.7,265.1 116.0,261.7 116.2,277.2 116.5,292.7 116.8,289.6 117.0,286.6 117.3,283.6 117.5,280.5 117.8,277.5 118.1,278.9 118.3,280.4 118.6,281.8 118.8,283.3 119.1,284.7 119.4,286.1 119.6,280.7 119.9,275.2 120.2,269.7 120.4,264.2 120.7,271.4 120.9,278.6 121.2,285.8 121.5,276.9 121.7,267.9 122.0,272.3 122.2,276.6 122.5,280.9 122.8,285.3 123.0,289.6 123.3,281.7 123.5,273.9 123.8,278.3 124.1,282.7 124.3,287.1 124.6,291.6 124.8,286.6 125.1,281.7 125.4,276.8 125.6,281.4 125.9,286.0 126.2,290.6 126.4,286.8 126.7,283.0 126.9,279.2 127.2,275.4 127.5,277.5 127.7,279.5 128.0,281.6 128.2,283.6 128.5,285.7 128.8,287.7 129.0,280.4 129.3,273.0 129.6,265.7 129.8,275.7 130.1,285.6 130.3,279.2 130.6,272.7 130.9,266.3 131.1,259.8 131.4,274.4 131.6,288.9 131.9,276.2 132.2,263.5 132.4,270.4 132.7,277.4 132.9,284.3 133.2,291.2 133.5,280.6 133.7,269.9 134.0,272.7 134.2,275.4 134.5,278.2 134.8,281.0 135.0,283.7 135.3,286.5 135.6,276.5 135.8,266.5 136.1,271.7 136.3,277.0 136.6,282.3 136.9,276.7 137.1,271.2 137.4,265.7 137.7,260.1 137.9,264.2 138.2,268.3 138.4,272.3 138.7,276.4 138.9,280.5 139.2,278.4 139.5,276.3 139.7,274.1 140.0,272.1 140.3,269.9 140.5,276.9 140.8,283.8 141.0,279.8 141.3,275.7 141.6,271.7 141.8,267.7 142.1,263.7 142.3,259.7 142.6,264.5 142.9,269.3 143.1,274.2 143.4,279.0 143.7,283.8 143.9,275.1 144.2,266.4 144.4,277.0 144.7,287.6 144.9,280.5 145.2,273.4 145.5,276.6 145.7,279.9 146.0,283.1 146.3,286.4 146.5,289.6 146.8,287.4 147.0,285.2 147.3,283.1 147.6,280.9 147.8,278.7 148.1,280.3 148.3,281.9 148.6,283.4 148.9,285.1 149.1,286.6 149.4,288.2 149.7,283.8 149.9,279.3 150.2,274.8 150.4,270.4 150.7,265.9 151.0,274.8 151.2,283.7 151.5,280.2 151.7,276.7 152.0,273.2 152.3,269.7 152.5,266.2 152.8,262.7 153.1,266.7 153.3,270.7 153.6,274.7 153.8,278.8 154.1,282.8 154.3,286.8 154.6,275.3 154.9,263.8 155.1,274.8 155.4,285.8 155.7,282.1 155.9,278.5 156.2,274.9 156.4,271.3 156.7,267.7 157.0,264.1 157.2,268.6 157.5,273.1 157.8,277.6 158.0,282.1 158.3,286.7 158.5,274.6 158.8,262.5 159.1,269.2 159.3,275.8 159.6,282.4 159.8,277.4 160.1,272.4 160.4,267.3 160.6,271.6 160.9,275.9 161.1,280.1 161.4,284.4 161.7,281.4 161.9,278.3 162.2,275.2 162.4,272.1 162.7,269.1 163.0,275.5 163.2,281.9 163.5,288.4 163.8,282.3 164.0,276.3 164.3,270.2 164.5,264.2 164.8,267.5 165.1,270.9 165.3,274.3 165.6,277.6 165.8,281.0 166.1,274.7 166.4,268.4 166.6,262.2 166.9,267.0 167.1,271.9 167.4,276.8 167.7,281.7 167.9,286.6 168.2,281.5 168.4,276.5 168.7,271.5 169.0,266.5 169.2,272.8 169.5,279.0 169.8,285.3 170.0,275.8 170.3,266.3 170.5,270.6 170.8,275.0 171.1,279.3 171.3,283.7 171.6,273.2 171.8,262.8 172.1,267.6 172.4,272.5 172.6,277.4 172.9,282.2 173.2,280.2 173.4,278.2 173.7,276.2 173.9,274.2 174.2,272.2 174.4,274.2 174.7,276.3 175.0,278.4 175.2,280.4 175.5,282.5 175.8,284.6 176.0,280.7 176.3,276.8 176.5,272.8 176.8,268.9 177.1,272.3 177.3,275.7 177.6,279.1 177.8,282.5 178.1,285.9 178.4,289.3 178.6,282.0 178.9,274.7 179.2,277.7 179.4,280.7 179.7,283.6 179.9,286.6 180.2,279.2 180.5,271.7 180.7,275.5 181.0,279.3 181.2,283.1 181.5,286.9 181.8,283.3 182.0,279.7 182.3,276.1 182.6,272.5 182.8,274.8 183.1,277.2 183.3,279.6 183.6,281.9 183.8,284.3 184.1,286.6 184.4,279.2 184.6,271.8 184.9,264.4 185.2,271.3 185.4,278.1 185.7,285.0 185.9,279.9 186.2,274.7 186.5,269.6 186.7,264.4 187.0,270.9 187.2,277.4 187.5,283.9 187.8,277.0 188.0,270.1 188.3,271.7 188.6,273.2 188.8,274.7 189.1,276.2 189.3,277.8 189.6,279.3 189.9,275.4 190.1,271.6 190.4,267.8 190.6,263.9 190.9,271.1 191.2,278.2 191.4,285.3 191.7,283.2 191.9,281.0 192.2,278.9 192.5,276.7 192.7,274.5 193.0,281.0 193.2,287.4 193.5,285.7 193.8,283.9 194.0,282.1 194.3,280.3 194.6,278.6 194.8,276.8 195.1,281.8 195.3,286.8 195.6,291.8 195.9,288.2 196.1,284.7 196.4,281.1 196.6,277.6 196.9,279.6 197.2,281.5 197.4,283.5 197.7,285.5 197.9,287.4 198.2,289.4 198.5,285.3 198.7,281.2 199.0,277.1 199.2,282.5 199.5,287.9 199.8,293.3 200.0,291.0 200.3,288.7 200.6,286.4 200.8,284.1 201.1,281.8 201.3,283.6 201.6,285.4 201.9,287.3 202.1,289.1 202.4,291.0 202.7,282.5 202.9,274.1 203.2,275.5 203.4,277.0 203.7,278.5 203.9,280.0 204.2,281.5 204.5,282.9 204.7,279.6 205.0,276.3 205.3,273.0 205.5,269.6 205.8,266.3 206.0,263.0 206.3,268.5 206.6,274.0 206.8,279.5 207.1,285.0 207.3,279.3 207.6,273.6 207.9,267.9 208.1,277.3 208.4,286.7 208.7,283.7 208.9,280.8 209.2,277.9 209.4,274.9 209.7,272.0 210.0,274.6 210.2,277.3 210.5,279.9 210.7,282.5 211.0,278.3 211.3,274.1 211.5,269.8 211.8,265.6 212.1,276.2 212.3,286.9 212.6,277.6 212.8,268.3 213.1,272.1 213.3,275.9 213.6,279.8 213.9,283.6 214.1,279.0 214.4,274.4 214.7,269.8 214.9,265.1 215.2,274.9 215.4,284.6 215.7,274.8 216.0,265.0 216.2,274.4 216.5,283.9 216.7,280.4 217.0,276.8 217.3,273.3 217.5,269.8 217.8,275.5 218.1,281.3 218.3,287.0 218.6,284.0 218.8,281.0 219.1,278.0 219.4,275.0 219.6,272.0 219.9,269.0 220.1,271.1 220.4,273.3 220.7,275.4 220.9,277.6 221.2,279.7 221.4,281.9 221.7,278.8 222.0,275.8 222.2,272.8 222.5,269.7 222.8,266.7 223.0,269.9 223.3,273.2 223.5,276.5 223.8,279.8 224.1,283.1 224.3,273.3 224.6,263.5 224.8,267.2 225.1,271.0 225.4,274.8 225.6,278.6 225.9,282.4 226.1,277.8 226.4,273.2 226.7,268.6 226.9,263.9 227.2,267.0 227.4,270.0 227.7,273.0 228.0,276.1 228.2,279.1 228.5,282.1 228.8,278.8 229.0,275.4 229.3,272.1 229.5,268.7 229.8,265.3 230.1,262.0 230.3,265.5 230.6,269.0 230.8,272.6 231.1,276.1 231.4,279.6 231.6,283.1 231.9,279.7 232.2,276.3 232.4,272.8 232.7,269.4 232.9,266.0 233.2,270.2 233.4,274.5 233.7,278.8 234.0,283.1 234.2,287.4 234.5,291.7 234.8,285.1 235.0,278.5 235.3,271.9 235.5,274.3 235.8,276.8 236.1,279.2 236.3,281.6 236.6,284.1 236.8,286.5 237.1,281.0 237.4,275.5 237.6,270.0 237.9,264.5 238.2,259.0 238.4,263.8 238.7,268.6 238.9,273.4 239.2,278.3 239.5,283.1 239.7,287.9 240.0,275.1 240.2,262.2 240.5,274.4 240.8,286.7 241.0,277.2 241.3,267.7 241.5,271.4 241.8,275.1 242.1,278.9 242.3,282.6 242.6,286.3 242.8,281.7 243.1,277.1 243.4,272.5 243.6,267.8 243.9,263.2 244.2,258.6 244.4,268.2 244.7,277.9 244.9,268.5 245.2,259.2 245.5,263.1 245.7,267.0 246.0,270.9 246.2,274.8 246.5,278.7 246.8,275.6 247.0,272.6 247.3,269.5 247.6,266.5 247.8,263.4 248.1,267.5 248.3,271.6 248.6,275.8 248.8,279.9 249.1,284.0 249.4,279.4 249.6,274.9 249.9,270.3 250.2,265.7 250.4,269.9 250.7,274.0 250.9,278.1 251.2,282.3 251.5,286.4 251.7,275.9 252.0,265.3 252.2,268.9 252.5,272.6 252.8,276.2 253.0,279.8 253.3,283.4 253.6,287.1 253.8,280.9 254.1,274.8 254.3,268.6 254.6,262.4 254.9,274.5 255.1,286.6 255.4,279.5 255.6,272.3 255.9,265.2 256.2,270.6 256.4,276.0 256.7,281.5 256.9,286.9 257.2,282.2 257.5,277.5 257.7,272.8 258.0,268.1 258.2,271.4 258.5,274.8 258.8,278.2 259.0,281.6 259.3,284.9 259.6,281.0 259.8,277.1 260.1,273.2 260.3,269.4 260.6,265.5 260.9,261.6 261.1,265.9 261.4,270.1 261.6,274.4 261.9,278.6 262.2,282.9 262.4,287.2 262.7,282.1 262.9,277.1 263.2,272.1 263.5,275.4 263.7,278.8 264.0,282.2 264.3,285.6 264.5,288.9 264.8,286.0 265.0,283.0 265.3,280.0 265.6,277.0 265.8,274.0 266.1,276.2 266.4,278.4 266.6,280.5 266.9,282.7 267.1,284.9 267.4,287.1 267.6,281.2 267.9,275.4 268.2,269.5 268.4,272.3 268.7,275.1 269.0,277.8 269.2,280.6 269.5,283.3 269.7,286.1 270.0,283.5 270.3,281.0 270.5,278.4 270.8,275.9 271.0,273.3 271.3,270.8 271.6,273.5 271.8,276.2 272.1,279.0 272.4,281.8 272.6,284.5 272.9,287.2 273.1,280.4 273.4,273.6 273.6,266.7 273.9,270.6 274.2,274.6 274.4,278.5 274.7,282.4 275.0,277.7 275.2,272.9 275.5,268.2 275.7,263.5 276.0,270.3 276.3,277.2 276.5,284.1 276.8,277.6 277.1,271.1 277.3,264.6 277.6,269.4 277.8,274.3 278.1,279.2 278.4,274.1 278.6,269.0 278.9,263.9 279.1,268.6 279.4,273.3 279.7,278.0 279.9,282.7 280.2,279.8 280.4,276.9 280.7,274.0 281.0,271.1 281.2,268.2 281.5,272.2 281.8,276.1 282.0,280.0 282.3,283.9 282.5,287.8 282.8,283.6 283.1,279.3 283.3,275.1 283.6,283.0 283.8,290.9 284.1,287.8 284.4,284.8 284.6,281.7 284.9,278.7 285.1,275.6 285.4,272.6 285.7,277.1 285.9,281.5 286.2,286.0 286.4,290.5 286.7,286.9 287.0,283.4 287.2,279.8 287.5,276.2 287.8,272.7 288.0,269.1 288.3,274.4 288.5,279.8 288.8,285.1 289.1,290.4 289.3,284.6 289.6,278.7 289.8,272.8 290.1,276.5 290.4,280.2 290.6,283.9 290.9,287.6 291.1,291.3 291.4,283.2 291.7,275.1 291.9,277.4 292.2,279.7 292.4,282.0 292.7,284.3 293.0,286.6 293.2,288.9 293.5,287.2 293.8,285.5 294.0,283.9 294.3,282.2 294.5,280.5 294.8,278.8 295.1,283.3 295.3,287.9 295.6,292.4 295.8,288.3 296.1,284.3 296.4,280.2 296.6,283.7 296.9,287.2 297.1,290.7 297.4,284.5 297.7,278.3 297.9,281.8 298.2,285.3 298.4,288.9 298.7,284.7 299.0,280.6 299.2,276.4 299.5,272.3 299.8,268.1 300.0,278.2 300.3,288.3 300.5,284.9 300.8,281.6 301.1,278.2 301.3,274.9 301.6,271.5 301.9,275.0 302.1,278.4 302.4,281.8 302.6,285.3 302.9,281.2 303.1,277.2 303.4,273.1 303.7,269.1 303.9,265.0 304.2,261.0 304.5,270.9 304.7,280.9 305.0,274.7 305.2,268.5 305.5,262.3 305.8,267.4 306.0,272.5 306.3,277.6 306.6,282.8 306.8,280.2 307.1,277.7 307.3,275.2 307.6,272.7 307.9,270.2 308.1,273.3 308.4,276.4 308.6,279.5 308.9,282.6 309.2,285.7 309.4,288.8 309.7,285.5 309.9,282.1 310.2,278.8 310.5,275.4 310.7,272.0 311.0,268.7 311.2,271.3 311.5,274.0 311.8,276.6 312.0,279.3 312.3,275.1 312.6,270.9 312.8,266.7 313.1,262.5 313.3,258.3 313.6,264.8 313.9,271.2 314.1,277.7 314.4,274.4 314.6,271.0 314.9,267.7 315.2,264.3 315.4,269.7 315.7,275.1 315.9,280.5 316.2,285.9 316.5,274.7 316.7,263.5 317.0,269.3 317.2,275.1 317.5,280.9 317.8,276.5 318.0,272.1 318.3,267.8 318.6,263.4 318.8,259.0 319.1,265.5 319.3,271.9 319.6,278.4 319.9,284.9 320.1,280.8 320.4,276.8 320.6,272.8 320.9,268.8 321.2,275.5 321.4,282.3 321.7,289.0 321.9,278.8 322.2,268.5 322.5,258.2 322.7,264.8 323.0,271.4 323.2,278.1 323.5,284.7 323.8,271.7 324.0,258.8 324.3,263.9 324.6,269.1 324.8,274.3 325.1,279.4 325.3,277.1 325.6,274.7 325.9,272.4 326.1,270.0 326.4,267.6 326.6,265.3 326.9,269.8 327.2,274.3 327.4,278.8 327.7,283.3 327.9,278.8 328.2,274.4 328.5,269.9 328.7,265.5 329.0,268.5 329.3,271.6 329.5,274.6 329.8,277.6 330.0,280.7 330.3,276.8 330.6,272.9 330.8,269.0 331.1,265.1 331.4,261.2 331.6,257.4 331.9,260.9 332.1,264.5 332.4,268.1 332.6,271.7 332.9,275.3 333.2,278.9 333.4,273.5 333.7,268.2 334.0,262.8 334.2,266.1 334.5,269.4 334.7,272.8 335.0,276.1 335.3,279.4 335.5,269.8 335.8,260.1 336.1,269.8 336.3,279.5 336.6,275.8 336.8,272.1 337.1,268.4 337.4,264.7 337.6,268.6 337.9,272.5 338.1,276.4 338.4,280.3 338.7,284.2 338.9,288.1 339.2,282.7 339.4,277.3 339.7,271.9 340.0,280.6 340.2,289.2 340.5,284.9 340.8,280.6 341.0,276.2 341.3,271.9 341.5,275.6 341.8,279.3 342.1,283.1 342.3,286.8 342.6,283.9 342.8,281.0 343.1,278.1 343.4,275.2 343.6,272.3 343.9,269.4 344.1,271.8 344.4,274.2 344.7,276.6 344.9,279.0 345.2,281.4 345.4,283.8 345.7,272.9 346.0,261.9 346.2,272.3 346.5,282.7 346.8,272.5 347.0,262.3 347.3,270.9 347.5,279.4 347.8,288.0 348.1,282.9 348.3,277.8 348.6,272.7 348.8,275.3 349.1,277.8 349.4,280.4 349.6,283.0 349.9,285.6 350.1,288.1 350.4,279.5 350.7,270.8 350.9,273.6 351.2,276.3 351.4,279.1 351.7,281.8 352.0,284.5 352.2,281.7 352.5,278.9 352.8,276.1 353.0,273.2 353.3,270.4 353.5,267.6 353.8,271.2 354.1,274.8 354.3,278.4 354.6,282.0 354.8,276.9 355.1,271.9 355.4,266.8 355.6,261.7 355.9,266.9 356.1,272.0 356.4,277.2 356.7,282.3 356.9,278.6 357.2,274.8 357.4,271.1 357.7,267.4 358.0,272.1 358.2,276.8 358.5,281.5 358.8,286.2 359.0,278.4 359.3,270.6 359.5,262.9 359.8,269.4 360.1,276.0 360.3,282.6 360.6,277.4 360.9,272.3 361.1,267.1 361.4,262.0 361.6,256.9 361.9,262.5 362.1,268.1 362.4,273.6 362.7,279.2 362.9,271.1 363.2,262.9 363.5,268.0 363.7,273.1 364.0,278.2 364.2,283.3 364.5,278.1 364.8,272.8 365.0,267.6 365.3,271.2 365.6,274.9 365.8,278.5 366.1,282.1 366.3,285.8 366.6,279.0 366.9,272.2 367.1,265.4 367.4,276.7 367.6,287.9 367.9,284.6 368.2,281.4 368.4,278.1 368.7,274.9 368.9,271.7 369.2,276.8 369.5,281.9 369.7,287.0 370.0,279.0 370.2,271.0 370.5,273.9 370.8,276.8 371.0,279.7 371.3,282.6 371.6,285.5 371.8,280.4 372.1,275.2 372.3,270.1 372.6,273.3 372.9,276.6 373.1,279.8 373.4,283.1 373.6,274.4 373.9,265.6 374.2,270.9 374.4,276.1 374.7,281.3 374.9,276.9 375.2,272.4 375.5,267.9 375.7,263.5 376.0,259.0 376.2,262.1 376.5,265.1 376.8,268.1 377.0,271.2 377.3,274.2 377.6,277.2 377.8,273.6 378.1,269.9 378.3,266.1 378.6,262.4 378.9,265.9 379.1,269.3 379.4,272.8 379.6,276.2 379.9,279.6 380.2,283.1 380.4,277.9 380.7,272.6 380.9,267.4 381.2,274.3 381.5,281.1 381.7,287.9 382.0,278.5 382.2,269.0 382.5,274.1 382.8,279.1 383.0,284.1 383.3,289.2 383.6,286.1 383.8,283.1 384.1,280.0 384.3,276.9 384.6,273.9 384.9,270.8 385.1,273.8 385.4,276.7 385.6,279.7 385.9,282.7 386.2,278.1 386.4,273.6 386.7,269.0 386.9,264.5 387.2,259.9 387.5,255.4 387.7,262.4 388.0,269.5 388.3,276.6 388.5,270.4 388.8,264.2 389.0,258.1 389.3,267.3 389.6,276.5 389.8,285.7 390.1,282.1 390.4,278.4 390.6,274.8 390.9,282.2 391.1,289.6 391.4,282.0 391.6,274.4 391.9,278.1 392.2,281.8 392.4,285.5 392.7,289.2 393.0,292.8 393.2,284.4 393.5,275.9 393.7,278.2 394.0,280.5 394.3,282.8 394.5,285.1 394.8,287.4 395.1,289.7 395.3,280.4 395.6,271.0 395.8,276.1 396.1,281.1 396.4,286.2 396.6,280.5 396.9,274.7 397.1,269.0 397.4,263.2 397.7,269.0 397.9,274.7 398.2,280.5 398.4,286.2 398.7,280.2 399.0,274.1 399.2,268.0 399.5,261.9 399.7,268.2 400.0,274.4 400.3,280.6 400.5,270.9 400.8,261.3 401.1,265.5 401.3,269.6 401.6,273.8 401.8,278.0 402.1,282.2 402.4,280.2 402.6,278.2 402.9,276.2 403.1,274.2 403.4,272.2 403.7,270.2 403.9,275.8 404.2,281.3 404.4,286.9 404.7,283.1 405.0,279.2 405.2,275.4 405.5,271.5 405.8,277.1 406.0,282.6 406.3,288.1 406.5,284.3 406.8,280.4 407.1,276.5 407.3,272.6 407.6,268.8 407.8,264.9 408.1,267.6 408.4,270.3 408.6,273.0 408.9,275.6 409.1,278.3 409.4,281.0 409.7,274.0 409.9,266.9 410.2,259.9 410.4,265.5 410.7,271.2 411.0,276.8 411.2,282.4 411.5,279.3 411.8,276.2 412.0,273.0 412.3,269.9 412.5,266.7 412.8,276.4 413.1,286.0 413.3,283.1 413.6,280.1 413.8,277.1 414.1,274.2 414.4,271.2 414.6,275.0 414.9,278.7 415.1,282.4 415.4,286.1 415.7,289.9 415.9,287.2 416.2,284.5 416.4,281.9 416.7,279.2 417.0,276.5 417.2,284.7 417.5,292.9 417.8,286.7 418.0,280.4 418.3,274.1 418.5,276.6 418.8,279.0 419.1,281.5 419.3,283.9 419.6,286.4 419.9,288.8 420.1,282.7 420.4,276.6 420.6,270.4 420.9,264.3 421.1,270.2 421.4,276.0 421.7,281.9 421.9,287.7 422.2,281.0 422.5,274.3 422.7,267.7 423.0,272.6 423.2,277.5 423.5,282.4 423.8,287.3 424.0,278.9 424.3,270.6 424.5,274.0 424.8,277.3 425.1,280.7 425.3,284.0 425.6,287.4 425.9,282.0 426.1,276.6 426.4,271.2 426.6,265.8 426.9,271.2 427.1,276.7 427.4,282.1 427.7,287.5 427.9,282.1 428.2,276.7 428.5,271.2 428.7,274.3 429.0,277.3 429.2,280.4 429.5,283.4 429.8,286.5 430.0,289.5 430.3,283.0 430.6,276.4 430.8,269.9 431.1,263.3 431.3,273.3 431.6,283.2 431.9,279.2 432.1,275.1 432.4,271.0 432.6,266.9 432.9,262.8 433.2,269.7 433.4,276.6 433.7,283.4 433.9,280.6 434.2,277.7 434.5,274.9 434.7,272.0 435.0,274.9 435.2,277.7 435.5,280.6 435.8,283.4 436.0,286.2 436.3,289.1 436.6,285.7 436.8,282.2 437.1,278.8 437.3,275.4 437.6,271.9 437.9,268.5 438.1,274.1 438.4,279.7 438.6,285.3 438.9,279.8 439.2,274.3 439.4,268.8 439.7,263.3 439.9,257.8 440.2,262.3 440.5,266.9 440.7,271.4 441.0,276.0 441.2,271.2 441.5,266.5 441.8,261.8 442.0,265.6 442.3,269.5 442.6,273.4 442.8,277.2 443.1,281.1 443.3,285.0 443.6,279.9 443.9,274.7 444.1,269.6 444.4,264.4 444.6,268.5 444.9,272.6 445.2,276.7 445.4,280.8 445.7,284.9 445.9,281.1 446.2,277.4 446.5,273.7 446.7,270.0 447.0,266.3 447.3,262.6 447.5,266.1 447.8,269.5 448.0,272.9 448.3,276.4 448.6,279.8 448.8,283.3 449.1,268.8 449.3,254.3 449.6,265.8 449.9,277.2 450.1,267.0 450.4,256.8 450.6,266.6 450.9,276.3 451.2,286.0 451.4,282.8 451.7,279.6 451.9,276.4 452.2,273.3 452.5,270.1 452.7,276.0 453.0,281.9 453.3,287.9 453.5,284.2 453.8,280.6 454.0,277.0 454.3,273.4 454.6,269.7 454.8,266.1 455.1,270.3 455.4,274.4 455.6,278.6 455.9,282.8 456.1,287.0 456.4,281.8 456.6,276.6 456.9,271.4 457.2,266.2 457.4,269.7 457.7,273.3 458.0,276.8 458.2,280.4 458.5,276.8 458.7,273.3 459.0,269.8 459.3,266.3 459.5,262.8 459.8,273.1 460.1,283.5 460.3,273.5 460.6,263.5 460.8,268.8 461.1,274.2 461.4,279.6 461.6,284.9 461.9,282.7 462.1,280.4 462.4,278.1 462.7,275.9 462.9,273.6 463.2,276.4 463.4,279.2 463.7,282.0 464.0,284.8 464.2,287.6 464.5,278.2 464.8,268.9 465.0,276.8 465.3,284.6 465.5,281.0 465.8,277.4 466.1,273.8 466.3,270.2 466.6,266.6 466.8,272.9 467.1,279.1 467.4,285.4 467.6,279.9 467.9,274.4 468.1,268.8 468.4,271.2 468.7,273.6 468.9,276.0 469.2,278.4 469.4,280.8 469.7,276.7 470.0,272.6 470.2,268.4 470.5,264.3 470.8,268.7 471.0,273.1 471.3,277.5 471.5,281.9 471.8,286.3 472.1,281.6 472.3,276.9 472.6,272.2 472.8,267.4 473.1,276.0 473.4,284.6 473.6,273.6 473.9,262.5 474.1,269.0 474.4,275.6 474.7,282.1 474.9,276.3 475.2,270.6 475.4,264.8 475.7,269.0 476.0,273.1 476.2,277.2 476.5,281.4 476.8,285.5 477.0,281.3 477.3,277.1 477.5,273.0 477.8,268.8 478.1,264.6 478.3,274.1 478.6,283.5 478.8,274.8 479.1,266.1 479.4,257.4 479.6,265.0 479.9,272.6 480.1,280.1 480.4,277.3 480.7,274.5 480.9,271.7 481.2,268.8 481.4,266.0 481.7,263.2 482.0,265.6 482.2,268.0 482.5,270.5 482.8,272.9 483.0,275.3 483.3,277.8 483.5,273.2 483.8,268.6 484.1,263.9 484.3,259.3 484.6,254.7 484.9,262.7 485.1,270.7 485.4,278.7 485.6,286.7 485.9,282.6 486.1,278.4 486.4,274.3 486.7,270.1 486.9,272.7 487.2,275.3 487.5,277.8 487.7,280.4 488.0,282.9 488.2,285.5 488.5,278.7 488.8,271.9 489.0,265.1 489.3,258.2 489.6,263.4 489.8,268.6 490.1,273.8 490.3,279.0 490.6,284.2 490.9,280.9 491.1,277.6 491.4,274.2 491.6,270.9 491.9,279.1 492.2,287.3 492.4,279.7 492.7,272.1 492.9,264.5 493.2,270.4 493.5,276.4 493.7,282.4 494.0,279.9 494.2,277.5 494.5,275.0 494.8,272.6 495.0,270.1 495.3,272.7 495.6,275.3 495.8,277.8 496.1,280.4 496.3,283.0 496.6,285.5 496.9,277.4 497.1,269.4 497.4,274.4 497.6,279.4 497.9,284.4 498.2,280.9 498.4,277.4 498.7,273.8 498.9,270.3 499.2,266.8 499.5,270.7 499.7,274.6 500.0,278.6 500.2,282.5 500.5,286.5 500.8,281.4 501.0,276.4 501.3,271.4 501.6,266.4 501.8,261.4 502.1,269.5 502.3,277.6 502.6,285.7 502.9,280.5 503.1,275.3 503.4,270.2 503.6,265.0 503.9,269.2 504.2,273.5 504.4,277.7 504.7,281.9 504.9,286.2 505.2,290.4 505.5,286.1 505.7,281.9 506.0,277.6 506.2,273.3 506.5,269.0 506.8,264.7 507.0,268.0 507.3,271.4 507.6,274.7 507.8,278.0 508.1,281.4 508.3,284.7 508.6,281.1 508.9,277.4 509.1,273.8 509.4,270.2 509.6,266.5 509.9,262.9 510.2,274.6 510.4,286.2 510.7,280.7 510.9,275.1 511.2,269.6 511.5,279.6 511.7,289.5 512.0,286.9 512.3,284.2 512.5,281.5 512.8,278.9 513.0,276.2 513.3,273.5 513.6,280.6 513.8,287.7 514.1,283.9 514.4,280.1 514.6,276.2 514.9,272.4 515.1,268.5 515.4,271.7 515.6,274.9 515.9,278.1 516.2,281.3 516.4,284.5 516.7,287.7 517.0,284.8 517.2,281.9 517.5,278.9 517.7,276.0 518.0,273.1 518.3,270.2 518.5,274.9 518.8,279.6 519.0,284.2 519.3,274.9 519.6,265.7 519.8,268.6 520.1,271.5 520.4,274.4 520.6,277.3 520.9,280.2 521.1,275.7 521.4,271.3 521.7,266.8 521.9,262.4 522.2,257.9 522.4,253.5 522.7,259.2 523.0,265.0 523.2,270.8 523.5,276.6 523.8,282.3 524.0,277.4 524.3,272.4 524.5,267.4 524.8,262.4 525.0,267.5 525.3,272.6 525.6,277.7 525.8,282.8 526.1,287.9 526.4,284.2 526.6,280.6 526.9,276.9 527.1,273.3 527.4,281.2 527.7,289.2 527.9,283.1 528.2,276.9 528.4,270.8 528.7,273.8 529.0,276.9 529.2,279.9 529.5,283.0 529.8,286.0 530.0,277.4 530.3,268.7 530.5,275.8 530.8,282.8 531.0,278.5 531.3,274.2 531.6,269.9 531.8,265.6 532.1,261.3 532.4,265.4 532.6,269.4 532.9,273.5 533.1,277.6 533.4,281.6 533.7,285.7 533.9,275.2 534.2,264.8 534.5,269.7 534.7,274.6 535.0,279.6 535.2,271.7 535.5,263.9 535.8,256.0 536.0,261.3 536.3,266.6 536.5,271.9 536.8,277.3 537.1,282.6 537.3,279.4 537.6,276.2 537.8,272.9 538.1,269.7 538.4,273.5 538.6,277.2 538.9,281.0 539.1,284.7 539.4,288.5 539.7,279.1 539.9,269.7 540.2,275.5 540.5,281.3 540.7,287.1 541.0,275.4 541.2,263.7 541.5,268.0 541.8,272.4 542.0,276.7 542.3,281.0 542.5,275.0 542.8,269.0 543.1,263.0 543.3,257.0 543.6,262.5 543.9,267.9 544.1,273.4 544.4,278.9 544.6,284.3 544.9,276.9 545.1,269.4 545.4,262.0 545.7,269.6 545.9,277.1 546.2,284.7 546.5,278.8 546.7,272.8 547.0,266.9 547.2,272.1 547.5,277.4 547.8,282.6 548.0,287.9 548.3,293.1 548.5,290.0 548.8,286.9 549.1,283.7 549.3,280.6 549.6,277.5 549.9,284.2 550.1,290.9 550.4,281.8 550.6,272.8 550.9,280.6 551.2,288.4 551.4,279.0 551.7,269.6 551.9,272.6 552.2,275.7 552.5,278.7 552.7,281.7 553.0,284.8 553.2,280.2 553.5,275.6 553.8,271.0 554.0,276.0 554.3,281.0 554.5,286.1 554.8,282.2 555.1,278.4 555.3,274.6 555.6,270.8 555.9,267.0 556.1,270.6 556.4,274.3 556.6,278.0 556.9,281.6 557.2,285.3 557.4,280.7 557.7,276.0 557.9,271.4 558.2,266.8 558.5,262.1 558.7,266.4 559.0,270.7 559.2,274.9 559.5,279.2 559.8,273.4 560.0,267.6 560.3,261.8 560.5,265.8 560.8,269.8 561.1,273.8 561.3,277.8 561.6,281.8 561.9,285.8 562.1,281.4 562.4,276.9 562.6,272.5 562.9,268.0 563.2,273.8 563.4,279.6 563.7,285.3 564.0,291.1 564.2,284.9 564.5,278.8 564.7,272.7 565.0,266.6 565.2,260.4 565.5,265.1 565.8,269.7 566.0,274.4 566.3,279.0 566.6,283.7 566.8,279.6 567.1,275.4 567.3,271.3 567.6,267.2 567.9,276.8 568.1,286.4 568.4,281.6 568.6,276.8 568.9,271.9 569.2,274.7 569.4,277.5 569.7,280.3 570.0,283.1 570.2,285.9 570.5,288.6 570.7,284.9 571.0,281.3 571.3,277.6 571.5,273.9 571.8,270.2 572.0,266.6 572.3,270.1 572.6,273.6 572.8,277.1 573.1,280.6 573.4,284.1 573.6,287.6 573.9,281.6 574.1,275.5 574.4,269.5 574.6,274.4 574.9,279.3 575.2,284.3 575.4,281.8 575.7,279.4 576.0,277.0 576.2,274.6 576.5,272.1 576.7,269.7 577.0,275.1 577.3,280.5 577.5,285.9 577.8,278.1 578.0,270.3 578.3,275.7 578.6,281.0 578.8,286.3 579.1,280.8 579.4,275.2 579.6,269.6 579.9,272.3 580.1,274.9 580.4,277.6 580.6,280.3 580.9,282.9 581.2,285.6 581.4,281.6 581.7,277.7 582.0,273.7 582.2,269.8 582.5,273.5 582.7,277.3 583.0,281.1 583.3,284.9 583.5,274.1 583.8,263.4 584.0,270.1 584.3,276.8 584.6,283.6 584.8,280.4 585.1,277.3 585.4,274.1 585.6,271.0 585.9,267.9 586.1,264.7 586.4,268.2 586.7,271.7 586.9,275.2 587.2,278.6 587.4,282.1 587.7,285.6 588.0,278.5 588.2,271.4 588.5,264.3 588.8,257.2 589.0,263.2 589.3,269.3 589.5,275.3 589.8,281.3 590.0,271.3 590.3,261.2 590.6,272.8 590.8,284.3 591.1,279.3 591.4,274.3 591.6,269.3 591.9,264.3 592.1,267.9 592.4,271.4 592.7,275.0 592.9,278.6 593.2,282.2 593.5,285.8 593.7,277.8 594.0,269.8 594.2,261.7 594.5,265.2 594.8,268.6 595.0,272.1 595.3,275.5 595.5,279.0 595.8,282.4 596.1,279.3 596.3,276.2 596.6,273.1 596.8,269.9 597.1,266.8 597.4,273.4 597.6,280.0 597.9,286.6 598.1,278.6 598.4,270.5 598.7,262.4 598.9,266.4 599.2,270.3 599.5,274.3 599.7,278.2 600.0,282.2 600.2,270.7 600.5,259.2 600.8,265.0 601.0,270.8 601.3,276.6 601.5,282.4 601.8,288.2 602.1,283.1 602.3,278.0 602.6,272.9 602.8,281.6 603.1,290.2 603.4,285.2 603.6,280.2 603.9,275.3 604.1,280.4 604.4,285.6 604.7,290.8 604.9,286.8 605.2,282.8 605.5,278.8 605.7,274.7 606.0,270.7 606.2,266.7 606.5,275.6 606.8,284.6 607.0,276.4 607.3,268.1 607.5,274.9 607.8,281.7 608.1,288.5 608.3,285.7 608.6,282.9 608.9,280.0 609.1,277.2 609.4,274.4 609.6,278.0 609.9,281.5 610.1,285.1 610.4,288.7 610.7,292.2 610.9,290.3 611.2,288.3 611.5,286.4 611.7,284.4 612.0,282.5 612.2,280.5 612.5,281.2 612.8,281.8 613.0,282.4 613.3,283.1 613.5,283.7 613.8,284.4 614.1,279.7 614.3,275.1 614.6,270.5 614.9,265.9 615.1,270.1 615.4,274.3 615.6,278.4 615.9,282.6 616.2,286.8 616.4,284.8 616.7,282.7 616.9,280.6 617.2,278.5 617.5,276.4 617.7,281.3 618.0,286.2 618.2,282.3 618.5,278.4 618.8,274.5 619.0,270.6 619.3,266.7 619.5,262.8 619.8,266.7 620.1,270.5 620.3,274.3 620.6,278.2 620.9,282.0 621.1,285.9 621.4,277.2 621.6,268.5 621.9,276.6 622.2,284.8 622.4,282.2 622.7,279.5 623.0,276.9 623.2,274.2 623.5,271.6 623.7,269.0 624.0,271.7 624.2,274.4 624.5,277.0 624.8,279.7 625.0,282.4 625.3,278.2 625.6,274.0 625.8,269.8 626.1,265.6 626.3,273.7 626.6,281.8 626.9,277.0 627.1,272.2 627.4,267.4 627.6,262.6 627.9,257.8 628.2,262.4 628.4,267.0 628.7,271.5 629.0,276.1 629.2,280.7 629.5,277.4 629.7,274.2 630.0,270.9 630.3,267.7 630.5,264.5 630.8,267.1 631.0,269.6 631.3,272.2 631.6,274.8 631.8,277.4 632.1,279.9 632.3,276.8 632.6,273.6 632.9,270.4 633.1,267.2 633.4,264.0 633.6,260.8 633.9,265.5 634.2,270.2 634.4,275.0 634.7,279.7 635.0,284.4 635.2,279.5 635.5,274.6 635.7,277.4 636.0,280.2 636.3,283.0 636.5,285.8 636.8,282.1 637.0,278.5 637.3,274.9 637.6,271.2 637.8,267.6 638.1,274.7 638.4,281.8 638.6,289.0 638.9,286.5 639.1,284.1 639.4,281.6 639.6,279.2 639.9,276.7 640.2,284.5 640.4,292.3 640.7,287.0 641.0,281.7 641.2,276.5 641.5,278.5 641.7,280.5 642.0,282.5 642.3,284.5 642.5,286.5 642.8,288.5 643.0,284.9 643.3,281.2 643.6,277.6 643.8,273.9 644.1,270.3 644.4,275.4 644.6,280.6 644.9,285.7 645.1,277.5 645.4,269.3 645.7,278.0 645.9,286.7 646.2,283.3 646.4,279.9 646.7,276.4 647.0,273.0 647.2,269.6 647.5,273.2 647.8,276.9 648.0,280.6 648.3,284.2 648.5,287.9 648.8,284.0 649.0,280.1 649.3,276.2 649.6,272.3 649.8,268.4 650.1,264.5 650.4,269.9 650.6,275.3 650.9,280.7 651.1,286.1 651.4,279.2 651.7,272.3 651.9,265.5 652.2,258.6 652.5,263.7 652.7,268.8 653.0,273.9 653.2,279.0 653.5,284.1 653.8,280.2 654.0,276.3 654.3,272.4 654.5,268.5 654.8,264.6 655.1,271.5 655.3,278.4 655.6,285.3 655.8,273.4 656.1,261.4 656.4,267.5 656.6,273.5 656.9,279.6 657.1,285.6 657.4,277.7 657.7,269.8 657.9,273.4 658.2,277.0 658.5,280.6 658.7,284.3 659.0,287.9 659.2,291.5 659.5,287.4 659.8,283.2 660.0,279.0 660.3,284.9 660.5,290.8 660.8,286.5 661.1,282.1 661.3,277.8 661.6,273.4 661.8,276.9 662.1,280.3 662.4,283.8 662.6,287.2 662.9,284.2 663.1,281.2 663.4,278.3 663.7,275.3 663.9,278.7 664.2,282.1 664.5,285.6 664.7,282.0 665.0,278.5 665.2,275.0 665.5,271.5 665.8,268.0 666.0,274.6 666.3,281.1 666.5,287.6 666.8,282.5 667.1,277.4 667.3,272.2 667.6,267.1 667.9,273.8 668.1,280.4 668.4,287.1 668.6,281.7 668.9,276.2 669.1,270.8 669.4,275.1 669.7,279.4 669.9,283.6 670.2,287.9 670.5,284.6 670.7,281.3 671.0,278.0 671.2,274.7 671.5,276.1 671.8,277.6 672.0,279.1 672.3,280.5 672.5,282.0 672.8,283.5 673.1,279.8 673.3,276.1 673.6,272.4 673.9,268.7 674.1,265.0 674.4,261.3 674.6,265.7 674.9,270.1 675.2,274.5 675.4,278.9 675.7,272.1 675.9,265.4 676.2,258.6 676.5,264.9 676.7,271.2 677.0,277.5 677.2,283.8 677.5,272.5 677.8,261.1 678.0,273.0 678.3,284.8 678.5,281.4 678.8,278.1 679.1,274.8 679.3,271.4 679.6,268.1 679.9,264.7 680.1,276.3 680.4,287.9 680.6,284.6 680.9,281.4" fill="none" stroke="#6FA6DA" stroke-width="1.2" stroke-linejoin="round"/></g>
<rect x="37.40" y="252.40" width="643.50" height="42.00" fill="none" stroke="#999999" stroke-width="0.8"/>
<text transform="translate(37.40 301.40) scale(0.86 1)" font-size="5.8" text-anchor="middle" fill="#222">1</text>
<text transform="translate(50.45 301.40) scale(0.86 1)" font-size="5.8" text-anchor="middle" fill="#222">51</text>
<text transform="translate(63.51 301.40) scale(0.86 1)" font-size="5.8" text-anchor="middle" fill="#222">101</text>
<text transform="translate(76.56 301.40) scale(0.86 1)" font-size="5.8" text-anchor="middle" fill="#222">151</text>
<text transform="translate(89.61 301.40) scale(0.86 1)" font-size="5.8" text-anchor="middle" fill="#222">201</text>
<text transform="translate(102.66 301.40) scale(0.86 1)" font-size="5.8" text-anchor="middle" fill="#222">251</text>
<text transform="translate(115.72 301.40) scale(0.86 1)" font-size="5.8" text-anchor="middle" fill="#222">301</text>
<text transform="translate(128.77 301.40) scale(0.86 1)" font-size="5.8" text-anchor="middle" fill="#222">351</text>
<text transform="translate(141.82 301.40) scale(0.86 1)" font-size="5.8" text-anchor="middle" fill="#222">401</text>
<text transform="translate(154.87 301.40) scale(0.86 1)" font-size="5.8" text-anchor="middle" fill="#222">451</text>
<text transform="translate(167.93 301.40) scale(0.86 1)" font-size="5.8" text-anchor="middle" fill="#222">501</text>
<text transform="translate(180.98 301.40) scale(0.86 1)" font-size="5.8" text-anchor="middle" fill="#222">551</text>
<text transform="translate(194.03 301.40) scale(0.86 1)" font-size="5.8" text-anchor="middle" fill="#222">601</text>
<text transform="translate(207.09 301.40) scale(0.86 1)" font-size="5.8" text-anchor="middle" fill="#222">651</text>
<text transform="translate(220.14 301.40) scale(0.86 1)" font-size="5.8" text-anchor="middle" fill="#222">701</text>
<text transform="translate(233.19 301.40) scale(0.86 1)" font-size="5.8" text-anchor="middle" fill="#222">751</text>
<text transform="translate(246.24 301.40) scale(0.86 1)" font-size="5.8" text-anchor="middle" fill="#222">801</text>
<text transform="translate(259.30 301.40) scale(0.86 1)" font-size="5.8" text-anchor="middle" fill="#222">851</text>
<text transform="translate(272.35 301.40) scale(0.86 1)" font-size="5.8" text-anchor="middle" fill="#222">901</text>
<text transform="translate(285.40 301.40) scale(0.86 1)" font-size="5.8" text-anchor="middle" fill="#222">951</text>
<text transform="translate(298.45 301.40) scale(0.86 1)" font-size="5.8" text-anchor="middle" fill="#222">1001</text>
<text transform="translate(311.51 301.40) scale(0.86 1)" font-size="5.8" text-anchor="middle" fill="#222">1051</text>
<text transform="translate(324.56 301.40) scale(0.86 1)" font-size="5.8" text-anchor="middle" fill="#222">1101</text>
<text transform="translate(337.61 301.40) scale(0.86 1)" font-size="5.8" text-anchor="middle" fill="#222">1151</text>
<text transform="translate(350.67 301.40) scale(0.86 1)" font-size="5.8" text-anchor="middle" fill="#222">1201</text>
<text transform="translate(363.72 301.40) scale(0.86 1)" font-size="5.8" text-anchor="middle" fill="#222">1251</text>
<text transform="translate(376.77 301.40) scale(0.86 1)" font-size="5.8" text-anchor="middle" fill="#222">1301</text>
<text transform="translate(389.82 301.40) scale(0.86 1)" font-size="5.8" text-anchor="middle" fill="#222">1351</text>
<text transform="translate(402.88 301.40) scale(0.86 1)" font-size="5.8" text-anchor="middle" fill="#222">1401</text>
<text transform="translate(415.93 301.40) scale(0.86 1)" font-size="5.8" text-anchor="middle" fill="#222">1451</text>
<text transform="translate(428.98 301.40) scale(0.86 1)" font-size="5.8" text-anchor="middle" fill="#222">1501</text>
<text transform="translate(442.03 301.40) scale(0.86 1)" font-size="5.8" text-anchor="middle" fill="#222">1551</text>
<text transform="translate(455.09 301.40) scale(0.86 1)" font-size="5.8" text-anchor="middle" fill="#222">1601</text>
<text transform="translate(468.14 301.40) scale(0.86 1)" font-size="5.8" text-anchor="middle" fill="#222">1651</text>
<text transform="translate(481.19 301.40) scale(0.86 1)" font-size="5.8" text-anchor="middle" fill="#222">1701</text>
<text transform="translate(494.25 301.40) scale(0.86 1)" font-size="5.8" text-anchor="middle" fill="#222">1751</text>
<text transform="translate(507.30 301.40) scale(0.86 1)" font-size="5.8" text-anchor="middle" fill="#222">1801</text>
<text transform="translate(520.35 301.40) scale(0.86 1)" font-size="5.8" text-anchor="middle" fill="#222">1851</text>
<text transform="translate(533.40 301.40) scale(0.86 1)" font-size="5.8" text-anchor="middle" fill="#222">1901</text>
<text transform="translate(546.46 301.40) scale(0.86 1)" font-size="5.8" text-anchor="middle" fill="#222">1951</text>
<text transform="translate(559.51 301.40) scale(0.86 1)" font-size="5.8" text-anchor="middle" fill="#222">2001</text>
<text transform="translate(572.56 301.40) scale(0.86 1)" font-size="5.8" text-anchor="middle" fill="#222">2051</text>
<text transform="translate(585.62 301.40) scale(0.86 1)" font-size="5.8" text-anchor="middle" fill="#222">2101</text>
<text transform="translate(598.67 301.40) scale(0.86 1)" font-size="5.8" text-anchor="middle" fill="#222">2151</text>
<text transform="translate(611.72 301.40) scale(0.86 1)" font-size="5.8" text-anchor="middle" fill="#222">2201</text>
<text transform="translate(624.77 301.40) scale(0.86 1)" font-size="5.8" text-anchor="middle" fill="#222">2251</text>
<text transform="translate(637.83 301.40) scale(0.86 1)" font-size="5.8" text-anchor="middle" fill="#222">2301</text>
<text transform="translate(650.88 301.40) scale(0.86 1)" font-size="5.8" text-anchor="middle" fill="#222">2351</text>
<text transform="translate(663.93 301.40) scale(0.86 1)" font-size="5.8" text-anchor="middle" fill="#222">2401</text>
<text transform="translate(676.98 301.40) scale(0.86 1)" font-size="5.8" text-anchor="middle" fill="#222">2451</text>
<text x="36.0" y="296.10" font-size="5.4" text-anchor="end" fill="#606060">0</text>
<text x="36.0" y="292.47" font-size="5.4" text-anchor="end" fill="#606060">10</text>
<text x="36.0" y="288.84" font-size="5.4" text-anchor="end" fill="#606060">20</text>
<text x="36.0" y="285.21" font-size="5.4" text-anchor="end" fill="#606060">30</text>
<text x="36.0" y="281.58" font-size="5.4" text-anchor="end" fill="#606060">40</text>
<text x="36.0" y="277.95" font-size="5.4" text-anchor="end" fill="#606060">50</text>
<text x="36.0" y="274.32" font-size="5.4" text-anchor="end" fill="#606060">60</text>
<text x="36.0" y="270.69" font-size="5.4" text-anchor="end" fill="#606060">70</text>
<text x="36.0" y="267.06" font-size="5.4" text-anchor="end" fill="#606060">80</text>
<text x="36.0" y="263.43" font-size="5.4" text-anchor="end" fill="#606060">90</text>
<text x="36.0" y="259.80" font-size="5.4" text-anchor="end" fill="#606060">100</text>
<text x="36.0" y="256.17" font-size="5.4" text-anchor="end" fill="#606060">110</text>
<text x="18.0" y="254.90" font-size="12.8" fill="#111">E</text>
<text x="345.8" y="326" font-size="13.2" text-anchor="middle" fill="#1a1a1a">Fragment ID</text>
<text transform="translate(11.2 142.8) rotate(-90)" x="0" y="0" font-size="13" text-anchor="middle" fill="#1a1a1a">Average Pareto rank</text>
</g></svg></body></html>
